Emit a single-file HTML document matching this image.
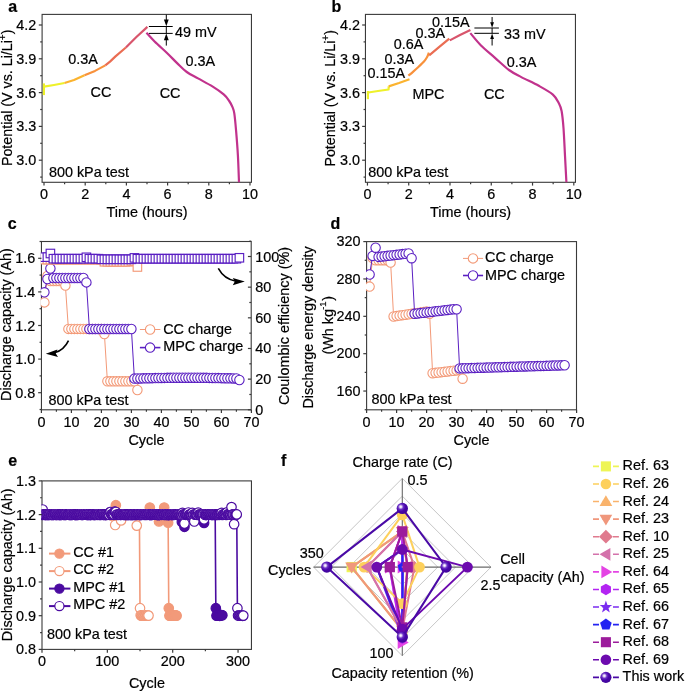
<!DOCTYPE html>
<html><head><meta charset="utf-8"><style>
html,body{margin:0;padding:0;background:#fff;}
svg{display:block;filter:blur(0.35px);}
text{font-family:"Liberation Sans", sans-serif;fill:#000;stroke:#000;stroke-width:0.2px;}
</style></head><body>
<svg width="685" height="692" viewBox="0 0 685 692">
<rect width="685" height="692" fill="#fff"/>
<rect x="42.10" y="14.40" width="209.35" height="167.90" fill="none" stroke="#3a3a3a" stroke-width="1.1"/>
<line x1="40.20" y1="177.10" x2="42.10" y2="177.10" stroke="#3a3a3a" stroke-width="1.2" />
<line x1="38.80" y1="160.20" x2="42.10" y2="160.20" stroke="#3a3a3a" stroke-width="1.2" />
<text x="36.30" y="165.20" font-size="14.4" text-anchor="end" font-weight="normal" >3.0</text>
<line x1="40.20" y1="143.30" x2="42.10" y2="143.30" stroke="#3a3a3a" stroke-width="1.2" />
<line x1="38.80" y1="126.40" x2="42.10" y2="126.40" stroke="#3a3a3a" stroke-width="1.2" />
<text x="36.30" y="131.40" font-size="14.4" text-anchor="end" font-weight="normal" >3.3</text>
<line x1="40.20" y1="109.50" x2="42.10" y2="109.50" stroke="#3a3a3a" stroke-width="1.2" />
<line x1="38.80" y1="92.60" x2="42.10" y2="92.60" stroke="#3a3a3a" stroke-width="1.2" />
<text x="36.30" y="97.60" font-size="14.4" text-anchor="end" font-weight="normal" >3.6</text>
<line x1="40.20" y1="75.70" x2="42.10" y2="75.70" stroke="#3a3a3a" stroke-width="1.2" />
<line x1="38.80" y1="58.80" x2="42.10" y2="58.80" stroke="#3a3a3a" stroke-width="1.2" />
<text x="36.30" y="63.80" font-size="14.4" text-anchor="end" font-weight="normal" >3.9</text>
<line x1="40.20" y1="41.90" x2="42.10" y2="41.90" stroke="#3a3a3a" stroke-width="1.2" />
<line x1="38.80" y1="25.00" x2="42.10" y2="25.00" stroke="#3a3a3a" stroke-width="1.2" />
<text x="36.30" y="30.00" font-size="14.4" text-anchor="end" font-weight="normal" >4.2</text>
<line x1="44.00" y1="182.30" x2="44.00" y2="185.60" stroke="#3a3a3a" stroke-width="1.2" />
<text x="44.00" y="199.40" font-size="14.4" text-anchor="middle" font-weight="normal" >0</text>
<line x1="64.60" y1="182.30" x2="64.60" y2="184.20" stroke="#3a3a3a" stroke-width="1.2" />
<line x1="85.20" y1="182.30" x2="85.20" y2="185.60" stroke="#3a3a3a" stroke-width="1.2" />
<text x="85.20" y="199.40" font-size="14.4" text-anchor="middle" font-weight="normal" >2</text>
<line x1="105.80" y1="182.30" x2="105.80" y2="184.20" stroke="#3a3a3a" stroke-width="1.2" />
<line x1="126.40" y1="182.30" x2="126.40" y2="185.60" stroke="#3a3a3a" stroke-width="1.2" />
<text x="126.40" y="199.40" font-size="14.4" text-anchor="middle" font-weight="normal" >4</text>
<line x1="147.00" y1="182.30" x2="147.00" y2="184.20" stroke="#3a3a3a" stroke-width="1.2" />
<line x1="167.60" y1="182.30" x2="167.60" y2="185.60" stroke="#3a3a3a" stroke-width="1.2" />
<text x="167.60" y="199.40" font-size="14.4" text-anchor="middle" font-weight="normal" >6</text>
<line x1="188.20" y1="182.30" x2="188.20" y2="184.20" stroke="#3a3a3a" stroke-width="1.2" />
<line x1="208.80" y1="182.30" x2="208.80" y2="185.60" stroke="#3a3a3a" stroke-width="1.2" />
<text x="208.80" y="199.40" font-size="14.4" text-anchor="middle" font-weight="normal" >8</text>
<line x1="229.40" y1="182.30" x2="229.40" y2="184.20" stroke="#3a3a3a" stroke-width="1.2" />
<line x1="250.00" y1="182.30" x2="250.00" y2="185.60" stroke="#3a3a3a" stroke-width="1.2" />
<text x="250.00" y="199.40" font-size="14.4" text-anchor="middle" font-weight="normal" >10</text>
<text x="147.00" y="217.00" font-size="14.4" text-anchor="middle" font-weight="normal" >Time (hours)</text>
<text transform="translate(11.7,97.8) rotate(-90)" font-size="14.25" text-anchor="middle">Potential (V vs. Li/Li<tspan font-size="10" dy="-5.5">+</tspan><tspan dy="5.5">)</tspan></text>
<rect x="365.45" y="14.40" width="210.00" height="167.90" fill="none" stroke="#3a3a3a" stroke-width="1.1"/>
<line x1="363.55" y1="177.10" x2="365.45" y2="177.10" stroke="#3a3a3a" stroke-width="1.2" />
<line x1="362.15" y1="160.20" x2="365.45" y2="160.20" stroke="#3a3a3a" stroke-width="1.2" />
<text x="360.00" y="165.20" font-size="14.4" text-anchor="end" font-weight="normal" >3.0</text>
<line x1="363.55" y1="143.30" x2="365.45" y2="143.30" stroke="#3a3a3a" stroke-width="1.2" />
<line x1="362.15" y1="126.40" x2="365.45" y2="126.40" stroke="#3a3a3a" stroke-width="1.2" />
<text x="360.00" y="131.40" font-size="14.4" text-anchor="end" font-weight="normal" >3.3</text>
<line x1="363.55" y1="109.50" x2="365.45" y2="109.50" stroke="#3a3a3a" stroke-width="1.2" />
<line x1="362.15" y1="92.60" x2="365.45" y2="92.60" stroke="#3a3a3a" stroke-width="1.2" />
<text x="360.00" y="97.60" font-size="14.4" text-anchor="end" font-weight="normal" >3.6</text>
<line x1="363.55" y1="75.70" x2="365.45" y2="75.70" stroke="#3a3a3a" stroke-width="1.2" />
<line x1="362.15" y1="58.80" x2="365.45" y2="58.80" stroke="#3a3a3a" stroke-width="1.2" />
<text x="360.00" y="63.80" font-size="14.4" text-anchor="end" font-weight="normal" >3.9</text>
<line x1="363.55" y1="41.90" x2="365.45" y2="41.90" stroke="#3a3a3a" stroke-width="1.2" />
<line x1="362.15" y1="25.00" x2="365.45" y2="25.00" stroke="#3a3a3a" stroke-width="1.2" />
<text x="360.00" y="30.00" font-size="14.4" text-anchor="end" font-weight="normal" >4.2</text>
<line x1="367.45" y1="182.30" x2="367.45" y2="185.60" stroke="#3a3a3a" stroke-width="1.2" />
<text x="367.45" y="199.40" font-size="14.4" text-anchor="middle" font-weight="normal" >0</text>
<line x1="388.08" y1="182.30" x2="388.08" y2="184.20" stroke="#3a3a3a" stroke-width="1.2" />
<line x1="408.72" y1="182.30" x2="408.72" y2="185.60" stroke="#3a3a3a" stroke-width="1.2" />
<text x="408.72" y="199.40" font-size="14.4" text-anchor="middle" font-weight="normal" >2</text>
<line x1="429.36" y1="182.30" x2="429.36" y2="184.20" stroke="#3a3a3a" stroke-width="1.2" />
<line x1="449.99" y1="182.30" x2="449.99" y2="185.60" stroke="#3a3a3a" stroke-width="1.2" />
<text x="449.99" y="199.40" font-size="14.4" text-anchor="middle" font-weight="normal" >4</text>
<line x1="470.62" y1="182.30" x2="470.62" y2="184.20" stroke="#3a3a3a" stroke-width="1.2" />
<line x1="491.26" y1="182.30" x2="491.26" y2="185.60" stroke="#3a3a3a" stroke-width="1.2" />
<text x="491.26" y="199.40" font-size="14.4" text-anchor="middle" font-weight="normal" >6</text>
<line x1="511.89" y1="182.30" x2="511.89" y2="184.20" stroke="#3a3a3a" stroke-width="1.2" />
<line x1="532.53" y1="182.30" x2="532.53" y2="185.60" stroke="#3a3a3a" stroke-width="1.2" />
<text x="532.53" y="199.40" font-size="14.4" text-anchor="middle" font-weight="normal" >8</text>
<line x1="553.16" y1="182.30" x2="553.16" y2="184.20" stroke="#3a3a3a" stroke-width="1.2" />
<line x1="573.80" y1="182.30" x2="573.80" y2="185.60" stroke="#3a3a3a" stroke-width="1.2" />
<text x="573.80" y="199.40" font-size="14.4" text-anchor="middle" font-weight="normal" >10</text>
<text x="470.62" y="217.00" font-size="14.4" text-anchor="middle" font-weight="normal" >Time (hours)</text>
<text transform="translate(334.6,98.3) rotate(-90)" font-size="14.25" text-anchor="middle">Potential (V vs. Li/Li<tspan font-size="10" dy="-5.5">+</tspan><tspan dy="5.5">)</tspan></text>
<polyline points="43.90,83.40 43.90,95.10" fill="none" stroke="#eef12a" stroke-width="2.2" stroke-linejoin="round" stroke-linecap="butt" />
<polyline points="44.00,86.70 54.00,85.00 64.50,83.00" fill="none" stroke="#eef12a" stroke-width="2.2" stroke-linejoin="round" stroke-linecap="butt" />
<polyline points="64.50,83.00 74.00,80.00 84.50,75.20" fill="none" stroke="#fbb32f" stroke-width="2.2" stroke-linejoin="round" stroke-linecap="butt" />
<polyline points="84.50,75.20 95.00,70.90 105.30,65.40" fill="none" stroke="#f8913b" stroke-width="2.2" stroke-linejoin="round" stroke-linecap="butt" />
<polyline points="105.30,65.40 110.00,61.60 115.50,56.40 125.90,47.50" fill="none" stroke="#ea6d53" stroke-width="2.2" stroke-linejoin="round" stroke-linecap="butt" />
<polyline points="125.90,47.50 136.40,37.00 147.40,26.90" fill="none" stroke="#d8556c" stroke-width="2.2" stroke-linejoin="round" stroke-linecap="butt" />
<path d="M146.40,32.70 C147.77,34.17 151.08,38.03 154.60,41.50 C158.12,44.97 163.75,49.90 167.50,53.50 C171.25,57.10 173.88,60.02 177.10,63.10 C180.32,66.18 183.32,69.45 186.80,72.00 C190.28,74.55 193.73,76.00 198.00,78.40 C202.27,80.80 208.12,83.73 212.40,86.40 C216.68,89.07 220.95,92.05 223.70,94.40 C226.45,96.75 227.45,98.42 228.90,100.50 C230.35,102.58 231.50,104.75 232.40,106.90 C233.30,109.05 233.68,109.40 234.30,113.40 C234.92,117.40 235.50,123.90 236.10,130.90 C236.70,137.90 237.42,146.83 237.90,155.40 C238.38,163.97 238.82,177.82 239.00,182.30" fill="none" stroke="#c1328c" stroke-width="2.2" stroke-linejoin="round" />
<line x1="148.90" y1="26.50" x2="172.70" y2="26.50" stroke="#000" stroke-width="1.0" />
<line x1="148.90" y1="33.40" x2="172.70" y2="33.40" stroke="#000" stroke-width="1.0" />
<line x1="166.30" y1="14.60" x2="166.30" y2="22.00" stroke="#000" stroke-width="1.0" />
<line x1="166.30" y1="26.50" x2="166.30" y2="33.40" stroke="#000" stroke-width="1.0" />
<polygon points="166.3,26.3 163.9,19.6 168.7,19.6" fill="#000"/>
<line x1="166.30" y1="38.00" x2="166.30" y2="45.60" stroke="#000" stroke-width="1.0" />
<polygon points="166.3,33.6 163.9,40.3 168.7,40.3" fill="#000"/>
<text x="175.00" y="37.00" font-size="14.4" text-anchor="start" font-weight="normal" >49 mV</text>
<text x="68.30" y="63.50" font-size="14.4" text-anchor="start" font-weight="normal" >0.3A</text>
<text x="90.50" y="97.30" font-size="14.4" text-anchor="start" font-weight="normal" >CC</text>
<text x="185.40" y="65.60" font-size="14.4" text-anchor="start" font-weight="normal" >0.3A</text>
<text x="159.70" y="97.60" font-size="14.4" text-anchor="start" font-weight="normal" >CC</text>
<text x="48.90" y="176.70" font-size="14.4" text-anchor="start" font-weight="normal" >800 kPa test</text>
<polyline points="367.90,91.00 367.90,99.20" fill="none" stroke="#eef12a" stroke-width="2.2" stroke-linejoin="round" stroke-linecap="butt" />
<polyline points="368.30,92.50 378.00,91.00 388.60,89.50 388.70,86.40" fill="none" stroke="#eef12a" stroke-width="2.2" stroke-linejoin="round" stroke-linecap="butt" />
<polyline points="388.70,86.40 399.00,83.00 409.50,79.20" fill="none" stroke="#fbb32f" stroke-width="2.2" stroke-linejoin="round" stroke-linecap="butt" />
<path d="M408.40,75.70 C409.17,75.05 411.38,73.20 413.00,71.80 C414.62,70.40 416.57,68.72 418.10,67.30 C419.63,65.88 421.00,64.55 422.20,63.30 C423.40,62.05 424.43,60.92 425.30,59.80 C426.17,58.68 426.80,57.78 427.40,56.60 C428.00,55.42 428.65,53.35 428.90,52.70" fill="none" stroke="#f8913b" stroke-width="2.2" stroke-linejoin="round" />
<polyline points="429.20,55.30 439.00,47.20 449.30,38.60" fill="none" stroke="#ea6d53" stroke-width="2.2" stroke-linejoin="round" stroke-linecap="butt" />
<polyline points="449.80,40.40 460.00,35.00 470.40,29.90" fill="none" stroke="#d8556c" stroke-width="2.2" stroke-linejoin="round" stroke-linecap="butt" />
<path d="M470.30,33.10 C472.08,35.17 476.88,41.38 481.00,45.50 C485.12,49.62 490.33,53.72 495.00,57.80 C499.67,61.88 504.62,66.78 509.00,70.00 C513.38,73.22 516.33,74.47 521.30,77.10 C526.27,79.73 533.53,82.88 538.80,85.80 C544.07,88.72 549.53,91.67 552.90,94.60 C556.27,97.53 557.55,100.67 559.00,103.40 C560.45,106.13 560.85,106.90 561.60,111.00 C562.35,115.10 562.93,120.55 563.50,128.00 C564.07,135.45 564.52,146.65 565.00,155.70 C565.48,164.75 566.17,177.87 566.40,182.30" fill="none" stroke="#c1328c" stroke-width="2.2" stroke-linejoin="round" />
<line x1="474.40" y1="28.00" x2="498.90" y2="28.00" stroke="#000" stroke-width="1.0" />
<line x1="474.40" y1="33.30" x2="498.90" y2="33.30" stroke="#000" stroke-width="1.0" />
<line x1="492.10" y1="17.00" x2="492.10" y2="23.50" stroke="#000" stroke-width="1.0" />
<line x1="492.10" y1="28.00" x2="492.10" y2="33.30" stroke="#000" stroke-width="1.0" />
<polygon points="492.1,27.8 490.2,22.3 494.0,22.3" fill="#000"/>
<line x1="492.10" y1="37.80" x2="492.10" y2="45.50" stroke="#000" stroke-width="1.0" />
<polygon points="492.1,33.5 490.2,39.0 494.0,39.0" fill="#000"/>
<text x="504.00" y="38.90" font-size="14.4" text-anchor="start" font-weight="normal" >33 mV</text>
<text x="432.00" y="26.80" font-size="14.4" text-anchor="start" font-weight="normal" >0.15A</text>
<text x="415.60" y="38.20" font-size="14.4" text-anchor="start" font-weight="normal" >0.3A</text>
<text x="393.70" y="49.30" font-size="14.4" text-anchor="start" font-weight="normal" >0.6A</text>
<text x="384.50" y="63.60" font-size="14.4" text-anchor="start" font-weight="normal" >0.3A</text>
<text x="367.50" y="78.20" font-size="14.4" text-anchor="start" font-weight="normal" >0.15A</text>
<text x="412.50" y="98.50" font-size="14.4" text-anchor="start" font-weight="normal" >MPC</text>
<text x="506.70" y="66.60" font-size="14.4" text-anchor="start" font-weight="normal" >0.3A</text>
<text x="483.90" y="99.00" font-size="14.4" text-anchor="start" font-weight="normal" >CC</text>
<text x="368.30" y="177.30" font-size="14.4" text-anchor="start" font-weight="normal" >800 kPa test</text>
<defs><clipPath id="clipc"><rect x="40.85" y="241.5" width="210.35" height="168.3"/></clipPath></defs>
<rect x="41.45" y="241.50" width="209.75" height="168.30" fill="none" stroke="#3a3a3a" stroke-width="1.1"/>
<g clip-path="url(#clipc)">
<polyline points="44.40,302.40 47.40,276.00 50.40,281.00 53.40,281.00 56.40,281.00 59.40,281.00 62.40,281.00 65.40,285.60 68.40,328.90 71.40,328.90 74.40,328.90 77.40,328.90 80.40,328.90 83.40,328.90 86.40,328.90 89.40,328.90 92.40,328.90 95.40,328.90 98.40,328.90 101.40,328.90 104.40,334.00 107.40,381.30 110.40,381.30 113.40,381.30 116.40,381.30 119.40,381.30 122.40,381.30 125.40,381.30 128.40,381.30 131.40,381.30 134.40,381.30 137.40,390.00" fill="none" stroke="#f39a78" stroke-width="1.0"/>
<circle cx="44.40" cy="302.40" r="4.7" fill="#fff" stroke="#f39a78" stroke-width="1.1"/>
<circle cx="47.40" cy="276.00" r="4.7" fill="#fff" stroke="#f39a78" stroke-width="1.1"/>
<circle cx="50.40" cy="281.00" r="4.7" fill="#fff" stroke="#f39a78" stroke-width="1.1"/>
<circle cx="53.40" cy="281.00" r="4.7" fill="#fff" stroke="#f39a78" stroke-width="1.1"/>
<circle cx="56.40" cy="281.00" r="4.7" fill="#fff" stroke="#f39a78" stroke-width="1.1"/>
<circle cx="59.40" cy="281.00" r="4.7" fill="#fff" stroke="#f39a78" stroke-width="1.1"/>
<circle cx="62.40" cy="281.00" r="4.7" fill="#fff" stroke="#f39a78" stroke-width="1.1"/>
<circle cx="65.40" cy="285.60" r="4.7" fill="#fff" stroke="#f39a78" stroke-width="1.1"/>
<circle cx="68.40" cy="328.90" r="4.7" fill="#fff" stroke="#f39a78" stroke-width="1.1"/>
<circle cx="71.40" cy="328.90" r="4.7" fill="#fff" stroke="#f39a78" stroke-width="1.1"/>
<circle cx="74.40" cy="328.90" r="4.7" fill="#fff" stroke="#f39a78" stroke-width="1.1"/>
<circle cx="77.40" cy="328.90" r="4.7" fill="#fff" stroke="#f39a78" stroke-width="1.1"/>
<circle cx="80.40" cy="328.90" r="4.7" fill="#fff" stroke="#f39a78" stroke-width="1.1"/>
<circle cx="83.40" cy="328.90" r="4.7" fill="#fff" stroke="#f39a78" stroke-width="1.1"/>
<circle cx="86.40" cy="328.90" r="4.7" fill="#fff" stroke="#f39a78" stroke-width="1.1"/>
<circle cx="89.40" cy="328.90" r="4.7" fill="#fff" stroke="#f39a78" stroke-width="1.1"/>
<circle cx="92.40" cy="328.90" r="4.7" fill="#fff" stroke="#f39a78" stroke-width="1.1"/>
<circle cx="95.40" cy="328.90" r="4.7" fill="#fff" stroke="#f39a78" stroke-width="1.1"/>
<circle cx="98.40" cy="328.90" r="4.7" fill="#fff" stroke="#f39a78" stroke-width="1.1"/>
<circle cx="101.40" cy="328.90" r="4.7" fill="#fff" stroke="#f39a78" stroke-width="1.1"/>
<circle cx="104.40" cy="334.00" r="4.7" fill="#fff" stroke="#f39a78" stroke-width="1.1"/>
<circle cx="107.40" cy="381.30" r="4.7" fill="#fff" stroke="#f39a78" stroke-width="1.1"/>
<circle cx="110.40" cy="381.30" r="4.7" fill="#fff" stroke="#f39a78" stroke-width="1.1"/>
<circle cx="113.40" cy="381.30" r="4.7" fill="#fff" stroke="#f39a78" stroke-width="1.1"/>
<circle cx="116.40" cy="381.30" r="4.7" fill="#fff" stroke="#f39a78" stroke-width="1.1"/>
<circle cx="119.40" cy="381.30" r="4.7" fill="#fff" stroke="#f39a78" stroke-width="1.1"/>
<circle cx="122.40" cy="381.30" r="4.7" fill="#fff" stroke="#f39a78" stroke-width="1.1"/>
<circle cx="125.40" cy="381.30" r="4.7" fill="#fff" stroke="#f39a78" stroke-width="1.1"/>
<circle cx="128.40" cy="381.30" r="4.7" fill="#fff" stroke="#f39a78" stroke-width="1.1"/>
<circle cx="131.40" cy="381.30" r="4.7" fill="#fff" stroke="#f39a78" stroke-width="1.1"/>
<circle cx="134.40" cy="381.30" r="4.7" fill="#fff" stroke="#f39a78" stroke-width="1.1"/>
<circle cx="137.40" cy="390.00" r="4.7" fill="#fff" stroke="#f39a78" stroke-width="1.1"/>
</g>
<g clip-path="url(#clipc)">
<polyline points="44.40,292.30 47.40,279.00 50.40,268.50 53.40,278.00 56.40,278.00 59.40,278.00 62.40,278.00 65.40,278.00 68.40,278.00 71.40,278.00 74.40,278.00 77.40,278.00 80.40,278.00 83.40,278.00 86.40,282.40 89.40,329.00 92.40,329.00 95.40,329.00 98.40,329.00 101.40,329.00 104.40,329.00 107.40,329.00 110.40,329.00 113.40,329.00 116.40,329.00 119.40,329.00 122.40,329.00 125.40,329.00 128.40,329.00 131.40,329.00 134.40,378.60 137.40,378.52 140.40,378.44 143.40,378.36 146.40,378.28 149.40,378.21 152.40,378.14 155.40,378.07 158.40,378.01 161.40,377.95 164.40,377.90 167.40,377.85 170.40,377.81 173.40,377.77 176.40,377.74 179.40,377.72 182.40,377.71 185.40,377.70 188.40,377.70 191.40,377.71 194.40,377.72 197.40,377.74 200.40,377.77 203.40,377.81 206.40,377.85 209.40,377.90 212.40,377.95 215.40,378.01 218.40,378.07 221.40,378.14 224.40,378.21 227.40,378.28 230.40,378.36 233.40,378.44 236.40,378.52 239.40,380.00" fill="none" stroke="#5a1fc2" stroke-width="1.0"/>
<circle cx="44.40" cy="292.30" r="4.7" fill="#fff" stroke="#5a1fc2" stroke-width="1.1"/>
<circle cx="47.40" cy="279.00" r="4.7" fill="#fff" stroke="#5a1fc2" stroke-width="1.1"/>
<circle cx="50.40" cy="268.50" r="4.7" fill="#fff" stroke="#5a1fc2" stroke-width="1.1"/>
<circle cx="53.40" cy="278.00" r="4.7" fill="#fff" stroke="#5a1fc2" stroke-width="1.1"/>
<circle cx="56.40" cy="278.00" r="4.7" fill="#fff" stroke="#5a1fc2" stroke-width="1.1"/>
<circle cx="59.40" cy="278.00" r="4.7" fill="#fff" stroke="#5a1fc2" stroke-width="1.1"/>
<circle cx="62.40" cy="278.00" r="4.7" fill="#fff" stroke="#5a1fc2" stroke-width="1.1"/>
<circle cx="65.40" cy="278.00" r="4.7" fill="#fff" stroke="#5a1fc2" stroke-width="1.1"/>
<circle cx="68.40" cy="278.00" r="4.7" fill="#fff" stroke="#5a1fc2" stroke-width="1.1"/>
<circle cx="71.40" cy="278.00" r="4.7" fill="#fff" stroke="#5a1fc2" stroke-width="1.1"/>
<circle cx="74.40" cy="278.00" r="4.7" fill="#fff" stroke="#5a1fc2" stroke-width="1.1"/>
<circle cx="77.40" cy="278.00" r="4.7" fill="#fff" stroke="#5a1fc2" stroke-width="1.1"/>
<circle cx="80.40" cy="278.00" r="4.7" fill="#fff" stroke="#5a1fc2" stroke-width="1.1"/>
<circle cx="83.40" cy="278.00" r="4.7" fill="#fff" stroke="#5a1fc2" stroke-width="1.1"/>
<circle cx="86.40" cy="282.40" r="4.7" fill="#fff" stroke="#5a1fc2" stroke-width="1.1"/>
<circle cx="89.40" cy="329.00" r="4.7" fill="#fff" stroke="#5a1fc2" stroke-width="1.1"/>
<circle cx="92.40" cy="329.00" r="4.7" fill="#fff" stroke="#5a1fc2" stroke-width="1.1"/>
<circle cx="95.40" cy="329.00" r="4.7" fill="#fff" stroke="#5a1fc2" stroke-width="1.1"/>
<circle cx="98.40" cy="329.00" r="4.7" fill="#fff" stroke="#5a1fc2" stroke-width="1.1"/>
<circle cx="101.40" cy="329.00" r="4.7" fill="#fff" stroke="#5a1fc2" stroke-width="1.1"/>
<circle cx="104.40" cy="329.00" r="4.7" fill="#fff" stroke="#5a1fc2" stroke-width="1.1"/>
<circle cx="107.40" cy="329.00" r="4.7" fill="#fff" stroke="#5a1fc2" stroke-width="1.1"/>
<circle cx="110.40" cy="329.00" r="4.7" fill="#fff" stroke="#5a1fc2" stroke-width="1.1"/>
<circle cx="113.40" cy="329.00" r="4.7" fill="#fff" stroke="#5a1fc2" stroke-width="1.1"/>
<circle cx="116.40" cy="329.00" r="4.7" fill="#fff" stroke="#5a1fc2" stroke-width="1.1"/>
<circle cx="119.40" cy="329.00" r="4.7" fill="#fff" stroke="#5a1fc2" stroke-width="1.1"/>
<circle cx="122.40" cy="329.00" r="4.7" fill="#fff" stroke="#5a1fc2" stroke-width="1.1"/>
<circle cx="125.40" cy="329.00" r="4.7" fill="#fff" stroke="#5a1fc2" stroke-width="1.1"/>
<circle cx="128.40" cy="329.00" r="4.7" fill="#fff" stroke="#5a1fc2" stroke-width="1.1"/>
<circle cx="131.40" cy="329.00" r="4.7" fill="#fff" stroke="#5a1fc2" stroke-width="1.1"/>
<circle cx="134.40" cy="378.60" r="4.7" fill="#fff" stroke="#5a1fc2" stroke-width="1.1"/>
<circle cx="137.40" cy="378.52" r="4.7" fill="#fff" stroke="#5a1fc2" stroke-width="1.1"/>
<circle cx="140.40" cy="378.44" r="4.7" fill="#fff" stroke="#5a1fc2" stroke-width="1.1"/>
<circle cx="143.40" cy="378.36" r="4.7" fill="#fff" stroke="#5a1fc2" stroke-width="1.1"/>
<circle cx="146.40" cy="378.28" r="4.7" fill="#fff" stroke="#5a1fc2" stroke-width="1.1"/>
<circle cx="149.40" cy="378.21" r="4.7" fill="#fff" stroke="#5a1fc2" stroke-width="1.1"/>
<circle cx="152.40" cy="378.14" r="4.7" fill="#fff" stroke="#5a1fc2" stroke-width="1.1"/>
<circle cx="155.40" cy="378.07" r="4.7" fill="#fff" stroke="#5a1fc2" stroke-width="1.1"/>
<circle cx="158.40" cy="378.01" r="4.7" fill="#fff" stroke="#5a1fc2" stroke-width="1.1"/>
<circle cx="161.40" cy="377.95" r="4.7" fill="#fff" stroke="#5a1fc2" stroke-width="1.1"/>
<circle cx="164.40" cy="377.90" r="4.7" fill="#fff" stroke="#5a1fc2" stroke-width="1.1"/>
<circle cx="167.40" cy="377.85" r="4.7" fill="#fff" stroke="#5a1fc2" stroke-width="1.1"/>
<circle cx="170.40" cy="377.81" r="4.7" fill="#fff" stroke="#5a1fc2" stroke-width="1.1"/>
<circle cx="173.40" cy="377.77" r="4.7" fill="#fff" stroke="#5a1fc2" stroke-width="1.1"/>
<circle cx="176.40" cy="377.74" r="4.7" fill="#fff" stroke="#5a1fc2" stroke-width="1.1"/>
<circle cx="179.40" cy="377.72" r="4.7" fill="#fff" stroke="#5a1fc2" stroke-width="1.1"/>
<circle cx="182.40" cy="377.71" r="4.7" fill="#fff" stroke="#5a1fc2" stroke-width="1.1"/>
<circle cx="185.40" cy="377.70" r="4.7" fill="#fff" stroke="#5a1fc2" stroke-width="1.1"/>
<circle cx="188.40" cy="377.70" r="4.7" fill="#fff" stroke="#5a1fc2" stroke-width="1.1"/>
<circle cx="191.40" cy="377.71" r="4.7" fill="#fff" stroke="#5a1fc2" stroke-width="1.1"/>
<circle cx="194.40" cy="377.72" r="4.7" fill="#fff" stroke="#5a1fc2" stroke-width="1.1"/>
<circle cx="197.40" cy="377.74" r="4.7" fill="#fff" stroke="#5a1fc2" stroke-width="1.1"/>
<circle cx="200.40" cy="377.77" r="4.7" fill="#fff" stroke="#5a1fc2" stroke-width="1.1"/>
<circle cx="203.40" cy="377.81" r="4.7" fill="#fff" stroke="#5a1fc2" stroke-width="1.1"/>
<circle cx="206.40" cy="377.85" r="4.7" fill="#fff" stroke="#5a1fc2" stroke-width="1.1"/>
<circle cx="209.40" cy="377.90" r="4.7" fill="#fff" stroke="#5a1fc2" stroke-width="1.1"/>
<circle cx="212.40" cy="377.95" r="4.7" fill="#fff" stroke="#5a1fc2" stroke-width="1.1"/>
<circle cx="215.40" cy="378.01" r="4.7" fill="#fff" stroke="#5a1fc2" stroke-width="1.1"/>
<circle cx="218.40" cy="378.07" r="4.7" fill="#fff" stroke="#5a1fc2" stroke-width="1.1"/>
<circle cx="221.40" cy="378.14" r="4.7" fill="#fff" stroke="#5a1fc2" stroke-width="1.1"/>
<circle cx="224.40" cy="378.21" r="4.7" fill="#fff" stroke="#5a1fc2" stroke-width="1.1"/>
<circle cx="227.40" cy="378.28" r="4.7" fill="#fff" stroke="#5a1fc2" stroke-width="1.1"/>
<circle cx="230.40" cy="378.36" r="4.7" fill="#fff" stroke="#5a1fc2" stroke-width="1.1"/>
<circle cx="233.40" cy="378.44" r="4.7" fill="#fff" stroke="#5a1fc2" stroke-width="1.1"/>
<circle cx="236.40" cy="378.52" r="4.7" fill="#fff" stroke="#5a1fc2" stroke-width="1.1"/>
<circle cx="239.40" cy="380.00" r="4.7" fill="#fff" stroke="#5a1fc2" stroke-width="1.1"/>
</g>
<g clip-path="url(#clipc)">
<polyline points="44.40,259.60 47.40,259.60 50.40,259.60 53.40,259.60 56.40,259.60 59.40,259.60 62.40,259.60 65.40,259.60 68.40,259.60 71.40,259.60 74.40,259.60 77.40,259.60 80.40,259.60 83.40,259.60 86.40,259.60 89.40,259.60 92.40,259.60 95.40,259.60 98.40,259.60 101.40,259.60 104.40,261.80 107.40,261.80 110.40,261.80 113.40,261.80 116.40,261.80 119.40,261.80 122.40,261.80 125.40,261.80 128.40,261.80 131.40,261.00 134.40,261.00 137.40,267.00" fill="none" stroke="#f39a78" stroke-width="1.0"/>
<rect x="40.15" y="255.35" width="8.5" height="8.5" fill="#fff" stroke="#f39a78" stroke-width="1.15"/>
<rect x="43.15" y="255.35" width="8.5" height="8.5" fill="#fff" stroke="#f39a78" stroke-width="1.15"/>
<rect x="46.15" y="255.35" width="8.5" height="8.5" fill="#fff" stroke="#f39a78" stroke-width="1.15"/>
<rect x="49.15" y="255.35" width="8.5" height="8.5" fill="#fff" stroke="#f39a78" stroke-width="1.15"/>
<rect x="52.15" y="255.35" width="8.5" height="8.5" fill="#fff" stroke="#f39a78" stroke-width="1.15"/>
<rect x="55.15" y="255.35" width="8.5" height="8.5" fill="#fff" stroke="#f39a78" stroke-width="1.15"/>
<rect x="58.15" y="255.35" width="8.5" height="8.5" fill="#fff" stroke="#f39a78" stroke-width="1.15"/>
<rect x="61.15" y="255.35" width="8.5" height="8.5" fill="#fff" stroke="#f39a78" stroke-width="1.15"/>
<rect x="64.15" y="255.35" width="8.5" height="8.5" fill="#fff" stroke="#f39a78" stroke-width="1.15"/>
<rect x="67.15" y="255.35" width="8.5" height="8.5" fill="#fff" stroke="#f39a78" stroke-width="1.15"/>
<rect x="70.15" y="255.35" width="8.5" height="8.5" fill="#fff" stroke="#f39a78" stroke-width="1.15"/>
<rect x="73.15" y="255.35" width="8.5" height="8.5" fill="#fff" stroke="#f39a78" stroke-width="1.15"/>
<rect x="76.15" y="255.35" width="8.5" height="8.5" fill="#fff" stroke="#f39a78" stroke-width="1.15"/>
<rect x="79.15" y="255.35" width="8.5" height="8.5" fill="#fff" stroke="#f39a78" stroke-width="1.15"/>
<rect x="82.15" y="255.35" width="8.5" height="8.5" fill="#fff" stroke="#f39a78" stroke-width="1.15"/>
<rect x="85.15" y="255.35" width="8.5" height="8.5" fill="#fff" stroke="#f39a78" stroke-width="1.15"/>
<rect x="88.15" y="255.35" width="8.5" height="8.5" fill="#fff" stroke="#f39a78" stroke-width="1.15"/>
<rect x="91.15" y="255.35" width="8.5" height="8.5" fill="#fff" stroke="#f39a78" stroke-width="1.15"/>
<rect x="94.15" y="255.35" width="8.5" height="8.5" fill="#fff" stroke="#f39a78" stroke-width="1.15"/>
<rect x="97.15" y="255.35" width="8.5" height="8.5" fill="#fff" stroke="#f39a78" stroke-width="1.15"/>
<rect x="100.15" y="257.55" width="8.5" height="8.5" fill="#fff" stroke="#f39a78" stroke-width="1.15"/>
<rect x="103.15" y="257.55" width="8.5" height="8.5" fill="#fff" stroke="#f39a78" stroke-width="1.15"/>
<rect x="106.15" y="257.55" width="8.5" height="8.5" fill="#fff" stroke="#f39a78" stroke-width="1.15"/>
<rect x="109.15" y="257.55" width="8.5" height="8.5" fill="#fff" stroke="#f39a78" stroke-width="1.15"/>
<rect x="112.15" y="257.55" width="8.5" height="8.5" fill="#fff" stroke="#f39a78" stroke-width="1.15"/>
<rect x="115.15" y="257.55" width="8.5" height="8.5" fill="#fff" stroke="#f39a78" stroke-width="1.15"/>
<rect x="118.15" y="257.55" width="8.5" height="8.5" fill="#fff" stroke="#f39a78" stroke-width="1.15"/>
<rect x="121.15" y="257.55" width="8.5" height="8.5" fill="#fff" stroke="#f39a78" stroke-width="1.15"/>
<rect x="124.15" y="257.55" width="8.5" height="8.5" fill="#fff" stroke="#f39a78" stroke-width="1.15"/>
<rect x="127.15" y="256.75" width="8.5" height="8.5" fill="#fff" stroke="#f39a78" stroke-width="1.15"/>
<rect x="130.15" y="256.75" width="8.5" height="8.5" fill="#fff" stroke="#f39a78" stroke-width="1.15"/>
<rect x="133.15" y="262.75" width="8.5" height="8.5" fill="#fff" stroke="#f39a78" stroke-width="1.15"/>
</g>
<g clip-path="url(#clipc)">
<polyline points="44.40,257.20 47.40,257.10 50.40,253.50 53.40,258.70 56.40,258.70 59.40,258.70 62.40,258.70 65.40,258.70 68.40,258.70 71.40,258.70 74.40,258.70 77.40,258.70 80.40,258.70 83.40,258.70 86.40,257.30 89.40,258.70 92.40,258.70 95.40,258.70 98.40,258.70 101.40,259.30 104.40,259.30 107.40,259.30 110.40,259.30 113.40,259.30 116.40,259.30 119.40,259.30 122.40,259.30 125.40,259.30 128.40,259.30 131.40,259.30 134.40,257.90 137.40,258.70 140.40,258.70 143.40,258.70 146.40,258.70 149.40,258.70 152.40,258.70 155.40,258.70 158.40,258.70 161.40,258.70 164.40,258.70 167.40,258.70 170.40,258.70 173.40,258.70 176.40,258.70 179.40,258.70 182.40,258.70 185.40,258.70 188.40,258.70 191.40,258.70 194.40,258.70 197.40,258.70 200.40,258.70 203.40,258.70 206.40,258.70 209.40,258.70 212.40,258.70 215.40,258.70 218.40,258.70 221.40,258.70 224.40,258.70 227.40,258.70 230.40,258.70 233.40,258.70 236.40,258.70 239.40,257.80" fill="none" stroke="#5a1fc2" stroke-width="1.0"/>
<rect x="40.15" y="252.95" width="8.5" height="8.5" fill="#fff" stroke="#5a1fc2" stroke-width="1.15"/>
<rect x="43.15" y="252.85" width="8.5" height="8.5" fill="#fff" stroke="#5a1fc2" stroke-width="1.15"/>
<rect x="46.15" y="249.25" width="8.5" height="8.5" fill="#fff" stroke="#5a1fc2" stroke-width="1.15"/>
<rect x="49.15" y="254.45" width="8.5" height="8.5" fill="#fff" stroke="#5a1fc2" stroke-width="1.15"/>
<rect x="52.15" y="254.45" width="8.5" height="8.5" fill="#fff" stroke="#5a1fc2" stroke-width="1.15"/>
<rect x="55.15" y="254.45" width="8.5" height="8.5" fill="#fff" stroke="#5a1fc2" stroke-width="1.15"/>
<rect x="58.15" y="254.45" width="8.5" height="8.5" fill="#fff" stroke="#5a1fc2" stroke-width="1.15"/>
<rect x="61.15" y="254.45" width="8.5" height="8.5" fill="#fff" stroke="#5a1fc2" stroke-width="1.15"/>
<rect x="64.15" y="254.45" width="8.5" height="8.5" fill="#fff" stroke="#5a1fc2" stroke-width="1.15"/>
<rect x="67.15" y="254.45" width="8.5" height="8.5" fill="#fff" stroke="#5a1fc2" stroke-width="1.15"/>
<rect x="70.15" y="254.45" width="8.5" height="8.5" fill="#fff" stroke="#5a1fc2" stroke-width="1.15"/>
<rect x="73.15" y="254.45" width="8.5" height="8.5" fill="#fff" stroke="#5a1fc2" stroke-width="1.15"/>
<rect x="76.15" y="254.45" width="8.5" height="8.5" fill="#fff" stroke="#5a1fc2" stroke-width="1.15"/>
<rect x="79.15" y="254.45" width="8.5" height="8.5" fill="#fff" stroke="#5a1fc2" stroke-width="1.15"/>
<rect x="82.15" y="253.05" width="8.5" height="8.5" fill="#fff" stroke="#5a1fc2" stroke-width="1.15"/>
<rect x="85.15" y="254.45" width="8.5" height="8.5" fill="#fff" stroke="#5a1fc2" stroke-width="1.15"/>
<rect x="88.15" y="254.45" width="8.5" height="8.5" fill="#fff" stroke="#5a1fc2" stroke-width="1.15"/>
<rect x="91.15" y="254.45" width="8.5" height="8.5" fill="#fff" stroke="#5a1fc2" stroke-width="1.15"/>
<rect x="94.15" y="254.45" width="8.5" height="8.5" fill="#fff" stroke="#5a1fc2" stroke-width="1.15"/>
<rect x="97.15" y="255.05" width="8.5" height="8.5" fill="#fff" stroke="#5a1fc2" stroke-width="1.15"/>
<rect x="100.15" y="255.05" width="8.5" height="8.5" fill="#fff" stroke="#5a1fc2" stroke-width="1.15"/>
<rect x="103.15" y="255.05" width="8.5" height="8.5" fill="#fff" stroke="#5a1fc2" stroke-width="1.15"/>
<rect x="106.15" y="255.05" width="8.5" height="8.5" fill="#fff" stroke="#5a1fc2" stroke-width="1.15"/>
<rect x="109.15" y="255.05" width="8.5" height="8.5" fill="#fff" stroke="#5a1fc2" stroke-width="1.15"/>
<rect x="112.15" y="255.05" width="8.5" height="8.5" fill="#fff" stroke="#5a1fc2" stroke-width="1.15"/>
<rect x="115.15" y="255.05" width="8.5" height="8.5" fill="#fff" stroke="#5a1fc2" stroke-width="1.15"/>
<rect x="118.15" y="255.05" width="8.5" height="8.5" fill="#fff" stroke="#5a1fc2" stroke-width="1.15"/>
<rect x="121.15" y="255.05" width="8.5" height="8.5" fill="#fff" stroke="#5a1fc2" stroke-width="1.15"/>
<rect x="124.15" y="255.05" width="8.5" height="8.5" fill="#fff" stroke="#5a1fc2" stroke-width="1.15"/>
<rect x="127.15" y="255.05" width="8.5" height="8.5" fill="#fff" stroke="#5a1fc2" stroke-width="1.15"/>
<rect x="130.15" y="253.65" width="8.5" height="8.5" fill="#fff" stroke="#5a1fc2" stroke-width="1.15"/>
<rect x="133.15" y="254.45" width="8.5" height="8.5" fill="#fff" stroke="#5a1fc2" stroke-width="1.15"/>
<rect x="136.15" y="254.45" width="8.5" height="8.5" fill="#fff" stroke="#5a1fc2" stroke-width="1.15"/>
<rect x="139.15" y="254.45" width="8.5" height="8.5" fill="#fff" stroke="#5a1fc2" stroke-width="1.15"/>
<rect x="142.15" y="254.45" width="8.5" height="8.5" fill="#fff" stroke="#5a1fc2" stroke-width="1.15"/>
<rect x="145.15" y="254.45" width="8.5" height="8.5" fill="#fff" stroke="#5a1fc2" stroke-width="1.15"/>
<rect x="148.15" y="254.45" width="8.5" height="8.5" fill="#fff" stroke="#5a1fc2" stroke-width="1.15"/>
<rect x="151.15" y="254.45" width="8.5" height="8.5" fill="#fff" stroke="#5a1fc2" stroke-width="1.15"/>
<rect x="154.15" y="254.45" width="8.5" height="8.5" fill="#fff" stroke="#5a1fc2" stroke-width="1.15"/>
<rect x="157.15" y="254.45" width="8.5" height="8.5" fill="#fff" stroke="#5a1fc2" stroke-width="1.15"/>
<rect x="160.15" y="254.45" width="8.5" height="8.5" fill="#fff" stroke="#5a1fc2" stroke-width="1.15"/>
<rect x="163.15" y="254.45" width="8.5" height="8.5" fill="#fff" stroke="#5a1fc2" stroke-width="1.15"/>
<rect x="166.15" y="254.45" width="8.5" height="8.5" fill="#fff" stroke="#5a1fc2" stroke-width="1.15"/>
<rect x="169.15" y="254.45" width="8.5" height="8.5" fill="#fff" stroke="#5a1fc2" stroke-width="1.15"/>
<rect x="172.15" y="254.45" width="8.5" height="8.5" fill="#fff" stroke="#5a1fc2" stroke-width="1.15"/>
<rect x="175.15" y="254.45" width="8.5" height="8.5" fill="#fff" stroke="#5a1fc2" stroke-width="1.15"/>
<rect x="178.15" y="254.45" width="8.5" height="8.5" fill="#fff" stroke="#5a1fc2" stroke-width="1.15"/>
<rect x="181.15" y="254.45" width="8.5" height="8.5" fill="#fff" stroke="#5a1fc2" stroke-width="1.15"/>
<rect x="184.15" y="254.45" width="8.5" height="8.5" fill="#fff" stroke="#5a1fc2" stroke-width="1.15"/>
<rect x="187.15" y="254.45" width="8.5" height="8.5" fill="#fff" stroke="#5a1fc2" stroke-width="1.15"/>
<rect x="190.15" y="254.45" width="8.5" height="8.5" fill="#fff" stroke="#5a1fc2" stroke-width="1.15"/>
<rect x="193.15" y="254.45" width="8.5" height="8.5" fill="#fff" stroke="#5a1fc2" stroke-width="1.15"/>
<rect x="196.15" y="254.45" width="8.5" height="8.5" fill="#fff" stroke="#5a1fc2" stroke-width="1.15"/>
<rect x="199.15" y="254.45" width="8.5" height="8.5" fill="#fff" stroke="#5a1fc2" stroke-width="1.15"/>
<rect x="202.15" y="254.45" width="8.5" height="8.5" fill="#fff" stroke="#5a1fc2" stroke-width="1.15"/>
<rect x="205.15" y="254.45" width="8.5" height="8.5" fill="#fff" stroke="#5a1fc2" stroke-width="1.15"/>
<rect x="208.15" y="254.45" width="8.5" height="8.5" fill="#fff" stroke="#5a1fc2" stroke-width="1.15"/>
<rect x="211.15" y="254.45" width="8.5" height="8.5" fill="#fff" stroke="#5a1fc2" stroke-width="1.15"/>
<rect x="214.15" y="254.45" width="8.5" height="8.5" fill="#fff" stroke="#5a1fc2" stroke-width="1.15"/>
<rect x="217.15" y="254.45" width="8.5" height="8.5" fill="#fff" stroke="#5a1fc2" stroke-width="1.15"/>
<rect x="220.15" y="254.45" width="8.5" height="8.5" fill="#fff" stroke="#5a1fc2" stroke-width="1.15"/>
<rect x="223.15" y="254.45" width="8.5" height="8.5" fill="#fff" stroke="#5a1fc2" stroke-width="1.15"/>
<rect x="226.15" y="254.45" width="8.5" height="8.5" fill="#fff" stroke="#5a1fc2" stroke-width="1.15"/>
<rect x="229.15" y="254.45" width="8.5" height="8.5" fill="#fff" stroke="#5a1fc2" stroke-width="1.15"/>
<rect x="232.15" y="254.45" width="8.5" height="8.5" fill="#fff" stroke="#5a1fc2" stroke-width="1.15"/>
<rect x="235.15" y="253.55" width="8.5" height="8.5" fill="#fff" stroke="#5a1fc2" stroke-width="1.15"/>
</g>
<line x1="39.55" y1="409.50" x2="41.45" y2="409.50" stroke="#3a3a3a" stroke-width="1.2" />
<line x1="38.15" y1="392.70" x2="41.45" y2="392.70" stroke="#3a3a3a" stroke-width="1.2" />
<text x="35.30" y="397.70" font-size="14.4" text-anchor="end" font-weight="normal" >0.8</text>
<line x1="39.55" y1="375.90" x2="41.45" y2="375.90" stroke="#3a3a3a" stroke-width="1.2" />
<line x1="38.15" y1="359.10" x2="41.45" y2="359.10" stroke="#3a3a3a" stroke-width="1.2" />
<text x="35.30" y="364.10" font-size="14.4" text-anchor="end" font-weight="normal" >1.0</text>
<line x1="39.55" y1="342.30" x2="41.45" y2="342.30" stroke="#3a3a3a" stroke-width="1.2" />
<line x1="38.15" y1="325.50" x2="41.45" y2="325.50" stroke="#3a3a3a" stroke-width="1.2" />
<text x="35.30" y="330.50" font-size="14.4" text-anchor="end" font-weight="normal" >1.2</text>
<line x1="39.55" y1="308.70" x2="41.45" y2="308.70" stroke="#3a3a3a" stroke-width="1.2" />
<line x1="38.15" y1="291.90" x2="41.45" y2="291.90" stroke="#3a3a3a" stroke-width="1.2" />
<text x="35.30" y="296.90" font-size="14.4" text-anchor="end" font-weight="normal" >1.4</text>
<line x1="39.55" y1="275.10" x2="41.45" y2="275.10" stroke="#3a3a3a" stroke-width="1.2" />
<line x1="38.15" y1="258.30" x2="41.45" y2="258.30" stroke="#3a3a3a" stroke-width="1.2" />
<text x="35.30" y="263.30" font-size="14.4" text-anchor="end" font-weight="normal" >1.6</text>
<line x1="39.55" y1="241.50" x2="41.45" y2="241.50" stroke="#3a3a3a" stroke-width="1.2" />
<line x1="247.90" y1="409.80" x2="251.20" y2="409.80" stroke="#3a3a3a" stroke-width="1.2" />
<text x="255.30" y="414.80" font-size="14.4" text-anchor="start" font-weight="normal" >0</text>
<line x1="249.30" y1="394.47" x2="251.20" y2="394.47" stroke="#3a3a3a" stroke-width="1.2" />
<line x1="247.90" y1="379.14" x2="251.20" y2="379.14" stroke="#3a3a3a" stroke-width="1.2" />
<text x="255.30" y="384.14" font-size="14.4" text-anchor="start" font-weight="normal" >20</text>
<line x1="249.30" y1="363.81" x2="251.20" y2="363.81" stroke="#3a3a3a" stroke-width="1.2" />
<line x1="247.90" y1="348.48" x2="251.20" y2="348.48" stroke="#3a3a3a" stroke-width="1.2" />
<text x="255.30" y="353.48" font-size="14.4" text-anchor="start" font-weight="normal" >40</text>
<line x1="249.30" y1="333.15" x2="251.20" y2="333.15" stroke="#3a3a3a" stroke-width="1.2" />
<line x1="247.90" y1="317.82" x2="251.20" y2="317.82" stroke="#3a3a3a" stroke-width="1.2" />
<text x="255.30" y="322.82" font-size="14.4" text-anchor="start" font-weight="normal" >60</text>
<line x1="249.30" y1="302.49" x2="251.20" y2="302.49" stroke="#3a3a3a" stroke-width="1.2" />
<line x1="247.90" y1="287.16" x2="251.20" y2="287.16" stroke="#3a3a3a" stroke-width="1.2" />
<text x="255.30" y="292.16" font-size="14.4" text-anchor="start" font-weight="normal" >80</text>
<line x1="249.30" y1="271.83" x2="251.20" y2="271.83" stroke="#3a3a3a" stroke-width="1.2" />
<line x1="247.90" y1="256.50" x2="251.20" y2="256.50" stroke="#3a3a3a" stroke-width="1.2" />
<text x="255.30" y="261.50" font-size="14.4" text-anchor="start" font-weight="normal" >100</text>
<line x1="249.30" y1="241.17" x2="251.20" y2="241.17" stroke="#3a3a3a" stroke-width="1.2" />
<line x1="41.40" y1="409.80" x2="41.40" y2="413.10" stroke="#3a3a3a" stroke-width="1.2" />
<text x="41.40" y="426.80" font-size="14.4" text-anchor="middle" font-weight="normal" >0</text>
<line x1="56.40" y1="409.80" x2="56.40" y2="411.70" stroke="#3a3a3a" stroke-width="1.2" />
<line x1="71.40" y1="409.80" x2="71.40" y2="413.10" stroke="#3a3a3a" stroke-width="1.2" />
<text x="71.40" y="426.80" font-size="14.4" text-anchor="middle" font-weight="normal" >10</text>
<line x1="86.40" y1="409.80" x2="86.40" y2="411.70" stroke="#3a3a3a" stroke-width="1.2" />
<line x1="101.40" y1="409.80" x2="101.40" y2="413.10" stroke="#3a3a3a" stroke-width="1.2" />
<text x="101.40" y="426.80" font-size="14.4" text-anchor="middle" font-weight="normal" >20</text>
<line x1="116.40" y1="409.80" x2="116.40" y2="411.70" stroke="#3a3a3a" stroke-width="1.2" />
<line x1="131.40" y1="409.80" x2="131.40" y2="413.10" stroke="#3a3a3a" stroke-width="1.2" />
<text x="131.40" y="426.80" font-size="14.4" text-anchor="middle" font-weight="normal" >30</text>
<line x1="146.40" y1="409.80" x2="146.40" y2="411.70" stroke="#3a3a3a" stroke-width="1.2" />
<line x1="161.40" y1="409.80" x2="161.40" y2="413.10" stroke="#3a3a3a" stroke-width="1.2" />
<text x="161.40" y="426.80" font-size="14.4" text-anchor="middle" font-weight="normal" >40</text>
<line x1="176.40" y1="409.80" x2="176.40" y2="411.70" stroke="#3a3a3a" stroke-width="1.2" />
<line x1="191.40" y1="409.80" x2="191.40" y2="413.10" stroke="#3a3a3a" stroke-width="1.2" />
<text x="191.40" y="426.80" font-size="14.4" text-anchor="middle" font-weight="normal" >50</text>
<line x1="206.40" y1="409.80" x2="206.40" y2="411.70" stroke="#3a3a3a" stroke-width="1.2" />
<line x1="221.40" y1="409.80" x2="221.40" y2="413.10" stroke="#3a3a3a" stroke-width="1.2" />
<text x="221.40" y="426.80" font-size="14.4" text-anchor="middle" font-weight="normal" >60</text>
<line x1="236.40" y1="409.80" x2="236.40" y2="411.70" stroke="#3a3a3a" stroke-width="1.2" />
<line x1="251.40" y1="409.80" x2="251.40" y2="413.10" stroke="#3a3a3a" stroke-width="1.2" />
<text x="251.40" y="426.80" font-size="14.4" text-anchor="middle" font-weight="normal" >70</text>
<text x="146.40" y="444.60" font-size="14.4" text-anchor="middle" font-weight="normal" >Cycle</text>
<text transform="translate(11.3,324.6) rotate(-90)" font-size="14.4" text-anchor="middle">Discharge capacity (Ah)</text>
<text transform="translate(289.2,326.0) rotate(-90)" font-size="14.4" text-anchor="middle">Coulombic efficiency (%)</text>
<text x="48.50" y="404.60" font-size="14.4" text-anchor="start" font-weight="normal" >800 kPa test</text>
<line x1="139.90" y1="329.50" x2="160.40" y2="329.50" stroke="#f39a78" stroke-width="1.0" />
<circle cx="150.1" cy="329.5" r="4.7" fill="#fff" stroke="#f39a78" stroke-width="1.1"/>
<line x1="139.90" y1="347.60" x2="160.40" y2="347.60" stroke="#5a1fc2" stroke-width="1.6" />
<circle cx="150.1" cy="347.6" r="4.7" fill="#fff" stroke="#5a1fc2" stroke-width="1.1"/>
<text x="163.20" y="333.70" font-size="14.4" text-anchor="start" font-weight="normal" >CC charge</text>
<text x="163.20" y="351.20" font-size="14.4" text-anchor="start" font-weight="normal" >MPC charge</text>
<path d="M218.3,268.4 Q224,279 236,281.3" fill="none" stroke="#000" stroke-width="1.6"/>
<polygon points="244.8,281.5 232.8,278.0 234.8,281.5 232.8,285.2" fill="#000"/>
<path d="M68.5,340.6 Q64,350 55,352.6" fill="none" stroke="#000" stroke-width="1.6"/>
<polygon points="45.8,353.8 57.4,349.6 55.8,353.4 58.0,357.0" fill="#000"/>
<defs><clipPath id="clipd"><rect x="366.0" y="241.6" width="210.49999999999997" height="168.20000000000002"/></clipPath></defs>
<rect x="366.60" y="241.60" width="209.90" height="168.20" fill="none" stroke="#3a3a3a" stroke-width="1.1"/>
<g clip-path="url(#clipd)">
<polyline points="369.60,286.60 372.60,258.00 375.60,260.20 378.60,260.20 381.60,260.20 384.60,260.20 387.60,260.20 390.60,262.50 393.60,316.50 396.60,316.05 399.60,315.60 402.60,315.15 405.60,314.70 408.60,314.25 411.60,313.80 414.60,313.35 417.60,312.90 420.60,312.45 423.60,312.00 426.60,311.55 429.60,313.80 432.60,373.20 435.60,372.85 438.60,372.50 441.60,372.15 444.60,371.80 447.60,371.45 450.60,371.10 453.60,370.75 456.60,370.40 459.60,370.05 462.60,378.70" fill="none" stroke="#f39a78" stroke-width="1.0"/>
<circle cx="369.60" cy="286.60" r="4.7" fill="#fff" stroke="#f39a78" stroke-width="1.1"/>
<circle cx="372.60" cy="258.00" r="4.7" fill="#fff" stroke="#f39a78" stroke-width="1.1"/>
<circle cx="375.60" cy="260.20" r="4.7" fill="#fff" stroke="#f39a78" stroke-width="1.1"/>
<circle cx="378.60" cy="260.20" r="4.7" fill="#fff" stroke="#f39a78" stroke-width="1.1"/>
<circle cx="381.60" cy="260.20" r="4.7" fill="#fff" stroke="#f39a78" stroke-width="1.1"/>
<circle cx="384.60" cy="260.20" r="4.7" fill="#fff" stroke="#f39a78" stroke-width="1.1"/>
<circle cx="387.60" cy="260.20" r="4.7" fill="#fff" stroke="#f39a78" stroke-width="1.1"/>
<circle cx="390.60" cy="262.50" r="4.7" fill="#fff" stroke="#f39a78" stroke-width="1.1"/>
<circle cx="393.60" cy="316.50" r="4.7" fill="#fff" stroke="#f39a78" stroke-width="1.1"/>
<circle cx="396.60" cy="316.05" r="4.7" fill="#fff" stroke="#f39a78" stroke-width="1.1"/>
<circle cx="399.60" cy="315.60" r="4.7" fill="#fff" stroke="#f39a78" stroke-width="1.1"/>
<circle cx="402.60" cy="315.15" r="4.7" fill="#fff" stroke="#f39a78" stroke-width="1.1"/>
<circle cx="405.60" cy="314.70" r="4.7" fill="#fff" stroke="#f39a78" stroke-width="1.1"/>
<circle cx="408.60" cy="314.25" r="4.7" fill="#fff" stroke="#f39a78" stroke-width="1.1"/>
<circle cx="411.60" cy="313.80" r="4.7" fill="#fff" stroke="#f39a78" stroke-width="1.1"/>
<circle cx="414.60" cy="313.35" r="4.7" fill="#fff" stroke="#f39a78" stroke-width="1.1"/>
<circle cx="417.60" cy="312.90" r="4.7" fill="#fff" stroke="#f39a78" stroke-width="1.1"/>
<circle cx="420.60" cy="312.45" r="4.7" fill="#fff" stroke="#f39a78" stroke-width="1.1"/>
<circle cx="423.60" cy="312.00" r="4.7" fill="#fff" stroke="#f39a78" stroke-width="1.1"/>
<circle cx="426.60" cy="311.55" r="4.7" fill="#fff" stroke="#f39a78" stroke-width="1.1"/>
<circle cx="429.60" cy="313.80" r="4.7" fill="#fff" stroke="#f39a78" stroke-width="1.1"/>
<circle cx="432.60" cy="373.20" r="4.7" fill="#fff" stroke="#f39a78" stroke-width="1.1"/>
<circle cx="435.60" cy="372.85" r="4.7" fill="#fff" stroke="#f39a78" stroke-width="1.1"/>
<circle cx="438.60" cy="372.50" r="4.7" fill="#fff" stroke="#f39a78" stroke-width="1.1"/>
<circle cx="441.60" cy="372.15" r="4.7" fill="#fff" stroke="#f39a78" stroke-width="1.1"/>
<circle cx="444.60" cy="371.80" r="4.7" fill="#fff" stroke="#f39a78" stroke-width="1.1"/>
<circle cx="447.60" cy="371.45" r="4.7" fill="#fff" stroke="#f39a78" stroke-width="1.1"/>
<circle cx="450.60" cy="371.10" r="4.7" fill="#fff" stroke="#f39a78" stroke-width="1.1"/>
<circle cx="453.60" cy="370.75" r="4.7" fill="#fff" stroke="#f39a78" stroke-width="1.1"/>
<circle cx="456.60" cy="370.40" r="4.7" fill="#fff" stroke="#f39a78" stroke-width="1.1"/>
<circle cx="459.60" cy="370.05" r="4.7" fill="#fff" stroke="#f39a78" stroke-width="1.1"/>
<circle cx="462.60" cy="378.70" r="4.7" fill="#fff" stroke="#f39a78" stroke-width="1.1"/>
</g>
<g clip-path="url(#clipd)">
<polyline points="369.60,274.50 372.60,255.90 375.60,247.70 378.60,256.90 381.60,256.55 384.60,256.20 387.60,255.85 390.60,255.50 393.60,255.15 396.60,254.80 399.60,254.45 402.60,254.10 405.60,253.75 408.60,253.40 411.60,258.20 414.60,313.80 417.60,313.45 420.60,313.10 423.60,312.75 426.60,312.40 429.60,312.05 432.60,311.70 435.60,311.35 438.60,311.00 441.60,310.65 444.60,310.30 447.60,309.95 450.60,309.60 453.60,309.25 456.60,309.30 459.60,368.40 462.60,368.31 465.60,368.22 468.60,368.13 471.60,368.04 474.60,367.95 477.60,367.86 480.60,367.77 483.60,367.68 486.60,367.59 489.60,367.50 492.60,367.41 495.60,367.32 498.60,367.23 501.60,367.14 504.60,367.05 507.60,366.96 510.60,366.87 513.60,366.78 516.60,366.69 519.60,366.60 522.60,366.51 525.60,366.42 528.60,366.33 531.60,366.24 534.60,366.15 537.60,366.06 540.60,365.97 543.60,365.88 546.60,365.79 549.60,365.70 552.60,365.61 555.60,365.52 558.60,365.43 561.60,365.34 564.60,365.25" fill="none" stroke="#5a1fc2" stroke-width="1.0"/>
<circle cx="369.60" cy="274.50" r="4.7" fill="#fff" stroke="#5a1fc2" stroke-width="1.1"/>
<circle cx="372.60" cy="255.90" r="4.7" fill="#fff" stroke="#5a1fc2" stroke-width="1.1"/>
<circle cx="375.60" cy="247.70" r="4.7" fill="#fff" stroke="#5a1fc2" stroke-width="1.1"/>
<circle cx="378.60" cy="256.90" r="4.7" fill="#fff" stroke="#5a1fc2" stroke-width="1.1"/>
<circle cx="381.60" cy="256.55" r="4.7" fill="#fff" stroke="#5a1fc2" stroke-width="1.1"/>
<circle cx="384.60" cy="256.20" r="4.7" fill="#fff" stroke="#5a1fc2" stroke-width="1.1"/>
<circle cx="387.60" cy="255.85" r="4.7" fill="#fff" stroke="#5a1fc2" stroke-width="1.1"/>
<circle cx="390.60" cy="255.50" r="4.7" fill="#fff" stroke="#5a1fc2" stroke-width="1.1"/>
<circle cx="393.60" cy="255.15" r="4.7" fill="#fff" stroke="#5a1fc2" stroke-width="1.1"/>
<circle cx="396.60" cy="254.80" r="4.7" fill="#fff" stroke="#5a1fc2" stroke-width="1.1"/>
<circle cx="399.60" cy="254.45" r="4.7" fill="#fff" stroke="#5a1fc2" stroke-width="1.1"/>
<circle cx="402.60" cy="254.10" r="4.7" fill="#fff" stroke="#5a1fc2" stroke-width="1.1"/>
<circle cx="405.60" cy="253.75" r="4.7" fill="#fff" stroke="#5a1fc2" stroke-width="1.1"/>
<circle cx="408.60" cy="253.40" r="4.7" fill="#fff" stroke="#5a1fc2" stroke-width="1.1"/>
<circle cx="411.60" cy="258.20" r="4.7" fill="#fff" stroke="#5a1fc2" stroke-width="1.1"/>
<circle cx="414.60" cy="313.80" r="4.7" fill="#fff" stroke="#5a1fc2" stroke-width="1.1"/>
<circle cx="417.60" cy="313.45" r="4.7" fill="#fff" stroke="#5a1fc2" stroke-width="1.1"/>
<circle cx="420.60" cy="313.10" r="4.7" fill="#fff" stroke="#5a1fc2" stroke-width="1.1"/>
<circle cx="423.60" cy="312.75" r="4.7" fill="#fff" stroke="#5a1fc2" stroke-width="1.1"/>
<circle cx="426.60" cy="312.40" r="4.7" fill="#fff" stroke="#5a1fc2" stroke-width="1.1"/>
<circle cx="429.60" cy="312.05" r="4.7" fill="#fff" stroke="#5a1fc2" stroke-width="1.1"/>
<circle cx="432.60" cy="311.70" r="4.7" fill="#fff" stroke="#5a1fc2" stroke-width="1.1"/>
<circle cx="435.60" cy="311.35" r="4.7" fill="#fff" stroke="#5a1fc2" stroke-width="1.1"/>
<circle cx="438.60" cy="311.00" r="4.7" fill="#fff" stroke="#5a1fc2" stroke-width="1.1"/>
<circle cx="441.60" cy="310.65" r="4.7" fill="#fff" stroke="#5a1fc2" stroke-width="1.1"/>
<circle cx="444.60" cy="310.30" r="4.7" fill="#fff" stroke="#5a1fc2" stroke-width="1.1"/>
<circle cx="447.60" cy="309.95" r="4.7" fill="#fff" stroke="#5a1fc2" stroke-width="1.1"/>
<circle cx="450.60" cy="309.60" r="4.7" fill="#fff" stroke="#5a1fc2" stroke-width="1.1"/>
<circle cx="453.60" cy="309.25" r="4.7" fill="#fff" stroke="#5a1fc2" stroke-width="1.1"/>
<circle cx="456.60" cy="309.30" r="4.7" fill="#fff" stroke="#5a1fc2" stroke-width="1.1"/>
<circle cx="459.60" cy="368.40" r="4.7" fill="#fff" stroke="#5a1fc2" stroke-width="1.1"/>
<circle cx="462.60" cy="368.31" r="4.7" fill="#fff" stroke="#5a1fc2" stroke-width="1.1"/>
<circle cx="465.60" cy="368.22" r="4.7" fill="#fff" stroke="#5a1fc2" stroke-width="1.1"/>
<circle cx="468.60" cy="368.13" r="4.7" fill="#fff" stroke="#5a1fc2" stroke-width="1.1"/>
<circle cx="471.60" cy="368.04" r="4.7" fill="#fff" stroke="#5a1fc2" stroke-width="1.1"/>
<circle cx="474.60" cy="367.95" r="4.7" fill="#fff" stroke="#5a1fc2" stroke-width="1.1"/>
<circle cx="477.60" cy="367.86" r="4.7" fill="#fff" stroke="#5a1fc2" stroke-width="1.1"/>
<circle cx="480.60" cy="367.77" r="4.7" fill="#fff" stroke="#5a1fc2" stroke-width="1.1"/>
<circle cx="483.60" cy="367.68" r="4.7" fill="#fff" stroke="#5a1fc2" stroke-width="1.1"/>
<circle cx="486.60" cy="367.59" r="4.7" fill="#fff" stroke="#5a1fc2" stroke-width="1.1"/>
<circle cx="489.60" cy="367.50" r="4.7" fill="#fff" stroke="#5a1fc2" stroke-width="1.1"/>
<circle cx="492.60" cy="367.41" r="4.7" fill="#fff" stroke="#5a1fc2" stroke-width="1.1"/>
<circle cx="495.60" cy="367.32" r="4.7" fill="#fff" stroke="#5a1fc2" stroke-width="1.1"/>
<circle cx="498.60" cy="367.23" r="4.7" fill="#fff" stroke="#5a1fc2" stroke-width="1.1"/>
<circle cx="501.60" cy="367.14" r="4.7" fill="#fff" stroke="#5a1fc2" stroke-width="1.1"/>
<circle cx="504.60" cy="367.05" r="4.7" fill="#fff" stroke="#5a1fc2" stroke-width="1.1"/>
<circle cx="507.60" cy="366.96" r="4.7" fill="#fff" stroke="#5a1fc2" stroke-width="1.1"/>
<circle cx="510.60" cy="366.87" r="4.7" fill="#fff" stroke="#5a1fc2" stroke-width="1.1"/>
<circle cx="513.60" cy="366.78" r="4.7" fill="#fff" stroke="#5a1fc2" stroke-width="1.1"/>
<circle cx="516.60" cy="366.69" r="4.7" fill="#fff" stroke="#5a1fc2" stroke-width="1.1"/>
<circle cx="519.60" cy="366.60" r="4.7" fill="#fff" stroke="#5a1fc2" stroke-width="1.1"/>
<circle cx="522.60" cy="366.51" r="4.7" fill="#fff" stroke="#5a1fc2" stroke-width="1.1"/>
<circle cx="525.60" cy="366.42" r="4.7" fill="#fff" stroke="#5a1fc2" stroke-width="1.1"/>
<circle cx="528.60" cy="366.33" r="4.7" fill="#fff" stroke="#5a1fc2" stroke-width="1.1"/>
<circle cx="531.60" cy="366.24" r="4.7" fill="#fff" stroke="#5a1fc2" stroke-width="1.1"/>
<circle cx="534.60" cy="366.15" r="4.7" fill="#fff" stroke="#5a1fc2" stroke-width="1.1"/>
<circle cx="537.60" cy="366.06" r="4.7" fill="#fff" stroke="#5a1fc2" stroke-width="1.1"/>
<circle cx="540.60" cy="365.97" r="4.7" fill="#fff" stroke="#5a1fc2" stroke-width="1.1"/>
<circle cx="543.60" cy="365.88" r="4.7" fill="#fff" stroke="#5a1fc2" stroke-width="1.1"/>
<circle cx="546.60" cy="365.79" r="4.7" fill="#fff" stroke="#5a1fc2" stroke-width="1.1"/>
<circle cx="549.60" cy="365.70" r="4.7" fill="#fff" stroke="#5a1fc2" stroke-width="1.1"/>
<circle cx="552.60" cy="365.61" r="4.7" fill="#fff" stroke="#5a1fc2" stroke-width="1.1"/>
<circle cx="555.60" cy="365.52" r="4.7" fill="#fff" stroke="#5a1fc2" stroke-width="1.1"/>
<circle cx="558.60" cy="365.43" r="4.7" fill="#fff" stroke="#5a1fc2" stroke-width="1.1"/>
<circle cx="561.60" cy="365.34" r="4.7" fill="#fff" stroke="#5a1fc2" stroke-width="1.1"/>
<circle cx="564.60" cy="365.25" r="4.7" fill="#fff" stroke="#5a1fc2" stroke-width="1.1"/>
</g>
<line x1="364.70" y1="409.72" x2="366.60" y2="409.72" stroke="#3a3a3a" stroke-width="1.2" />
<line x1="363.30" y1="391.04" x2="366.60" y2="391.04" stroke="#3a3a3a" stroke-width="1.2" />
<text x="360.60" y="395.64" font-size="14.4" text-anchor="end" font-weight="normal" >160</text>
<line x1="364.70" y1="372.36" x2="366.60" y2="372.36" stroke="#3a3a3a" stroke-width="1.2" />
<line x1="363.30" y1="353.68" x2="366.60" y2="353.68" stroke="#3a3a3a" stroke-width="1.2" />
<text x="360.60" y="358.28" font-size="14.4" text-anchor="end" font-weight="normal" >200</text>
<line x1="364.70" y1="335.00" x2="366.60" y2="335.00" stroke="#3a3a3a" stroke-width="1.2" />
<line x1="363.30" y1="316.32" x2="366.60" y2="316.32" stroke="#3a3a3a" stroke-width="1.2" />
<text x="360.60" y="320.92" font-size="14.4" text-anchor="end" font-weight="normal" >240</text>
<line x1="364.70" y1="297.64" x2="366.60" y2="297.64" stroke="#3a3a3a" stroke-width="1.2" />
<line x1="363.30" y1="278.96" x2="366.60" y2="278.96" stroke="#3a3a3a" stroke-width="1.2" />
<text x="360.60" y="283.56" font-size="14.4" text-anchor="end" font-weight="normal" >280</text>
<line x1="364.70" y1="260.28" x2="366.60" y2="260.28" stroke="#3a3a3a" stroke-width="1.2" />
<line x1="363.30" y1="241.60" x2="366.60" y2="241.60" stroke="#3a3a3a" stroke-width="1.2" />
<text x="360.60" y="246.20" font-size="14.4" text-anchor="end" font-weight="normal" >320</text>
<line x1="366.60" y1="409.80" x2="366.60" y2="413.10" stroke="#3a3a3a" stroke-width="1.2" />
<text x="366.60" y="426.80" font-size="14.4" text-anchor="middle" font-weight="normal" >0</text>
<line x1="381.60" y1="409.80" x2="381.60" y2="411.70" stroke="#3a3a3a" stroke-width="1.2" />
<line x1="396.60" y1="409.80" x2="396.60" y2="413.10" stroke="#3a3a3a" stroke-width="1.2" />
<text x="396.60" y="426.80" font-size="14.4" text-anchor="middle" font-weight="normal" >10</text>
<line x1="411.60" y1="409.80" x2="411.60" y2="411.70" stroke="#3a3a3a" stroke-width="1.2" />
<line x1="426.60" y1="409.80" x2="426.60" y2="413.10" stroke="#3a3a3a" stroke-width="1.2" />
<text x="426.60" y="426.80" font-size="14.4" text-anchor="middle" font-weight="normal" >20</text>
<line x1="441.60" y1="409.80" x2="441.60" y2="411.70" stroke="#3a3a3a" stroke-width="1.2" />
<line x1="456.60" y1="409.80" x2="456.60" y2="413.10" stroke="#3a3a3a" stroke-width="1.2" />
<text x="456.60" y="426.80" font-size="14.4" text-anchor="middle" font-weight="normal" >30</text>
<line x1="471.60" y1="409.80" x2="471.60" y2="411.70" stroke="#3a3a3a" stroke-width="1.2" />
<line x1="486.60" y1="409.80" x2="486.60" y2="413.10" stroke="#3a3a3a" stroke-width="1.2" />
<text x="486.60" y="426.80" font-size="14.4" text-anchor="middle" font-weight="normal" >40</text>
<line x1="501.60" y1="409.80" x2="501.60" y2="411.70" stroke="#3a3a3a" stroke-width="1.2" />
<line x1="516.60" y1="409.80" x2="516.60" y2="413.10" stroke="#3a3a3a" stroke-width="1.2" />
<text x="516.60" y="426.80" font-size="14.4" text-anchor="middle" font-weight="normal" >50</text>
<line x1="531.60" y1="409.80" x2="531.60" y2="411.70" stroke="#3a3a3a" stroke-width="1.2" />
<line x1="546.60" y1="409.80" x2="546.60" y2="413.10" stroke="#3a3a3a" stroke-width="1.2" />
<text x="546.60" y="426.80" font-size="14.4" text-anchor="middle" font-weight="normal" >60</text>
<line x1="561.60" y1="409.80" x2="561.60" y2="411.70" stroke="#3a3a3a" stroke-width="1.2" />
<line x1="576.60" y1="409.80" x2="576.60" y2="413.10" stroke="#3a3a3a" stroke-width="1.2" />
<text x="576.60" y="426.80" font-size="14.4" text-anchor="middle" font-weight="normal" >70</text>
<text x="471.50" y="444.60" font-size="14.4" text-anchor="middle" font-weight="normal" >Cycle</text>
<text transform="translate(313.2,327.4) rotate(-90)" font-size="14.4" text-anchor="middle">Discharge energy density</text>
<text transform="translate(332.9,325.3) rotate(-90)" font-size="14.4" text-anchor="middle">(Wh kg<tspan font-size="9.5" dy="-6.5" dx="-0.8">-1</tspan><tspan dy="6.5" dx="0.6">)</tspan></text>
<text x="371.60" y="403.70" font-size="14.4" text-anchor="start" font-weight="normal" >800 kPa test</text>
<line x1="463.00" y1="258.40" x2="483.10" y2="258.40" stroke="#f39a78" stroke-width="1.0" />
<circle cx="473.0" cy="258.4" r="4.7" fill="#fff" stroke="#f39a78" stroke-width="1.1"/>
<line x1="463.00" y1="275.50" x2="483.10" y2="275.50" stroke="#5a1fc2" stroke-width="1.6" />
<circle cx="473.0" cy="275.5" r="4.7" fill="#fff" stroke="#5a1fc2" stroke-width="1.1"/>
<text x="485.00" y="262.00" font-size="14.4" text-anchor="start" font-weight="normal" >CC charge</text>
<text x="485.00" y="279.90" font-size="14.4" text-anchor="start" font-weight="normal" >MPC charge</text>
<defs><clipPath id="clipe"><rect x="41.4" y="480.9" width="210.04999999999998" height="168.5"/></clipPath></defs>
<rect x="42.00" y="480.90" width="209.45" height="168.50" fill="none" stroke="#3a3a3a" stroke-width="1.1"/>
<g clip-path="url(#clipe)">
<polyline points="42.65,514.35 43.31,514.41 43.96,514.37 44.61,514.42 45.27,514.43 45.92,514.31 46.57,514.30 47.23,514.47 47.88,514.35 48.53,514.35 49.19,514.50 49.84,514.39 50.50,514.47 51.15,514.40 51.80,514.43 52.46,514.33 53.11,514.43 53.76,514.47 54.42,514.40 55.07,514.45 55.72,514.43 56.38,514.31 57.03,514.45 57.68,514.42 58.34,514.36 58.99,514.31 59.64,514.47 60.30,514.39 60.95,514.44 61.61,514.48 62.26,514.44 62.91,514.48 63.57,514.38 64.22,514.46 64.87,514.39 65.53,514.49 66.18,514.48 66.83,514.32 67.49,514.33 68.14,514.34 68.79,514.49 69.45,514.39 70.10,514.43 70.75,514.36 71.41,514.40 72.06,514.38 72.71,514.37 73.37,514.42 74.02,514.42 74.67,514.48 75.33,514.44 75.98,514.49 76.64,514.47 77.29,514.50 77.94,514.43 78.60,514.33 79.25,514.47 79.90,514.49 80.56,514.48 81.21,514.41 81.86,514.44 82.52,514.34 83.17,514.47 83.82,514.41 84.48,514.36 85.13,514.31 85.78,514.47 86.44,514.50 87.09,514.32 87.75,514.46 88.40,514.38 89.05,514.33 89.71,514.36 90.36,514.45 91.01,514.47 91.67,514.31 92.32,514.42 92.97,514.31 93.63,514.44 94.28,514.37 94.93,514.48 95.59,514.50 96.24,514.40 96.89,514.50 97.55,514.36 98.20,514.32 98.85,514.42 99.51,514.31 100.16,514.34 100.81,514.38 101.47,514.42 102.12,514.33 102.78,514.31 103.43,514.47 104.08,514.36 104.74,514.49 105.39,514.48 106.04,514.38 106.70,514.39 107.35,514.40 108.00,514.43 108.66,514.42 109.31,514.41 109.96,514.42 110.62,514.49 111.27,514.40 111.92,514.39 112.58,514.44 113.23,514.35 113.88,514.36 114.54,514.50 115.19,514.40 115.85,505.20 116.50,514.30 117.15,514.38 117.81,514.42 118.46,514.30 119.11,514.42 119.77,514.43 120.42,514.31 121.07,514.43 121.73,514.39 122.38,514.44 123.03,514.37 123.69,514.44 124.34,514.45 124.99,514.30 125.65,514.31 126.30,514.44 126.95,514.49 127.61,514.35 128.26,514.39 128.92,514.42 129.57,514.36 130.22,514.37 130.88,514.36 131.53,514.37 132.18,514.42 132.84,514.36 133.49,514.38 134.14,514.45 134.80,514.31 135.45,514.41 136.10,514.45 136.76,514.36 137.41,514.34 138.06,514.46 138.72,514.35 139.37,514.34 140.02,514.39 140.68,514.44 141.33,514.32 141.99,514.36 142.64,514.37 143.29,514.47 143.95,514.39 144.60,514.47 145.25,514.33 145.91,514.37 146.56,514.43 147.21,514.48 147.87,514.39 148.52,514.35 149.17,514.32 149.83,507.50 150.48,514.34 151.13,514.46 151.79,514.47 152.44,514.34 153.09,514.36 153.75,514.46 154.40,514.43 155.06,514.46 155.71,514.37 156.36,514.33 157.02,514.36 157.67,514.46 158.32,514.35 158.98,521.50 159.63,514.38 160.28,514.38 160.94,514.38 161.59,514.48 162.24,514.33 162.90,514.30 163.55,514.49 164.20,507.50 164.86,514.50 165.51,514.39 166.16,514.49 166.82,514.49 167.47,514.34 168.13,522.70 168.78,608.20 169.43,615.70 170.09,615.60 170.74,615.51 171.39,615.37 172.05,615.40 172.70,615.34 173.35,615.24 174.01,615.55 174.66,615.37 175.31,615.69 175.97,615.23 176.62,615.74" fill="none" stroke="#f29a7a" stroke-width="1.6"/>
<circle cx="42.65" cy="514.35" r="4.75" fill="#f29a7a" stroke="#f29a7a" stroke-width="1.2"/>
<circle cx="43.31" cy="514.41" r="4.75" fill="#f29a7a" stroke="#f29a7a" stroke-width="1.2"/>
<circle cx="43.96" cy="514.37" r="4.75" fill="#f29a7a" stroke="#f29a7a" stroke-width="1.2"/>
<circle cx="44.61" cy="514.42" r="4.75" fill="#f29a7a" stroke="#f29a7a" stroke-width="1.2"/>
<circle cx="45.27" cy="514.43" r="4.75" fill="#f29a7a" stroke="#f29a7a" stroke-width="1.2"/>
<circle cx="45.92" cy="514.31" r="4.75" fill="#f29a7a" stroke="#f29a7a" stroke-width="1.2"/>
<circle cx="46.57" cy="514.30" r="4.75" fill="#f29a7a" stroke="#f29a7a" stroke-width="1.2"/>
<circle cx="47.23" cy="514.47" r="4.75" fill="#f29a7a" stroke="#f29a7a" stroke-width="1.2"/>
<circle cx="47.88" cy="514.35" r="4.75" fill="#f29a7a" stroke="#f29a7a" stroke-width="1.2"/>
<circle cx="48.53" cy="514.35" r="4.75" fill="#f29a7a" stroke="#f29a7a" stroke-width="1.2"/>
<circle cx="49.19" cy="514.50" r="4.75" fill="#f29a7a" stroke="#f29a7a" stroke-width="1.2"/>
<circle cx="49.84" cy="514.39" r="4.75" fill="#f29a7a" stroke="#f29a7a" stroke-width="1.2"/>
<circle cx="50.50" cy="514.47" r="4.75" fill="#f29a7a" stroke="#f29a7a" stroke-width="1.2"/>
<circle cx="51.15" cy="514.40" r="4.75" fill="#f29a7a" stroke="#f29a7a" stroke-width="1.2"/>
<circle cx="51.80" cy="514.43" r="4.75" fill="#f29a7a" stroke="#f29a7a" stroke-width="1.2"/>
<circle cx="52.46" cy="514.33" r="4.75" fill="#f29a7a" stroke="#f29a7a" stroke-width="1.2"/>
<circle cx="53.11" cy="514.43" r="4.75" fill="#f29a7a" stroke="#f29a7a" stroke-width="1.2"/>
<circle cx="53.76" cy="514.47" r="4.75" fill="#f29a7a" stroke="#f29a7a" stroke-width="1.2"/>
<circle cx="54.42" cy="514.40" r="4.75" fill="#f29a7a" stroke="#f29a7a" stroke-width="1.2"/>
<circle cx="55.07" cy="514.45" r="4.75" fill="#f29a7a" stroke="#f29a7a" stroke-width="1.2"/>
<circle cx="55.72" cy="514.43" r="4.75" fill="#f29a7a" stroke="#f29a7a" stroke-width="1.2"/>
<circle cx="56.38" cy="514.31" r="4.75" fill="#f29a7a" stroke="#f29a7a" stroke-width="1.2"/>
<circle cx="57.03" cy="514.45" r="4.75" fill="#f29a7a" stroke="#f29a7a" stroke-width="1.2"/>
<circle cx="57.68" cy="514.42" r="4.75" fill="#f29a7a" stroke="#f29a7a" stroke-width="1.2"/>
<circle cx="58.34" cy="514.36" r="4.75" fill="#f29a7a" stroke="#f29a7a" stroke-width="1.2"/>
<circle cx="58.99" cy="514.31" r="4.75" fill="#f29a7a" stroke="#f29a7a" stroke-width="1.2"/>
<circle cx="59.64" cy="514.47" r="4.75" fill="#f29a7a" stroke="#f29a7a" stroke-width="1.2"/>
<circle cx="60.30" cy="514.39" r="4.75" fill="#f29a7a" stroke="#f29a7a" stroke-width="1.2"/>
<circle cx="60.95" cy="514.44" r="4.75" fill="#f29a7a" stroke="#f29a7a" stroke-width="1.2"/>
<circle cx="61.61" cy="514.48" r="4.75" fill="#f29a7a" stroke="#f29a7a" stroke-width="1.2"/>
<circle cx="62.26" cy="514.44" r="4.75" fill="#f29a7a" stroke="#f29a7a" stroke-width="1.2"/>
<circle cx="62.91" cy="514.48" r="4.75" fill="#f29a7a" stroke="#f29a7a" stroke-width="1.2"/>
<circle cx="63.57" cy="514.38" r="4.75" fill="#f29a7a" stroke="#f29a7a" stroke-width="1.2"/>
<circle cx="64.22" cy="514.46" r="4.75" fill="#f29a7a" stroke="#f29a7a" stroke-width="1.2"/>
<circle cx="64.87" cy="514.39" r="4.75" fill="#f29a7a" stroke="#f29a7a" stroke-width="1.2"/>
<circle cx="65.53" cy="514.49" r="4.75" fill="#f29a7a" stroke="#f29a7a" stroke-width="1.2"/>
<circle cx="66.18" cy="514.48" r="4.75" fill="#f29a7a" stroke="#f29a7a" stroke-width="1.2"/>
<circle cx="66.83" cy="514.32" r="4.75" fill="#f29a7a" stroke="#f29a7a" stroke-width="1.2"/>
<circle cx="67.49" cy="514.33" r="4.75" fill="#f29a7a" stroke="#f29a7a" stroke-width="1.2"/>
<circle cx="68.14" cy="514.34" r="4.75" fill="#f29a7a" stroke="#f29a7a" stroke-width="1.2"/>
<circle cx="68.79" cy="514.49" r="4.75" fill="#f29a7a" stroke="#f29a7a" stroke-width="1.2"/>
<circle cx="69.45" cy="514.39" r="4.75" fill="#f29a7a" stroke="#f29a7a" stroke-width="1.2"/>
<circle cx="70.10" cy="514.43" r="4.75" fill="#f29a7a" stroke="#f29a7a" stroke-width="1.2"/>
<circle cx="70.75" cy="514.36" r="4.75" fill="#f29a7a" stroke="#f29a7a" stroke-width="1.2"/>
<circle cx="71.41" cy="514.40" r="4.75" fill="#f29a7a" stroke="#f29a7a" stroke-width="1.2"/>
<circle cx="72.06" cy="514.38" r="4.75" fill="#f29a7a" stroke="#f29a7a" stroke-width="1.2"/>
<circle cx="72.71" cy="514.37" r="4.75" fill="#f29a7a" stroke="#f29a7a" stroke-width="1.2"/>
<circle cx="73.37" cy="514.42" r="4.75" fill="#f29a7a" stroke="#f29a7a" stroke-width="1.2"/>
<circle cx="74.02" cy="514.42" r="4.75" fill="#f29a7a" stroke="#f29a7a" stroke-width="1.2"/>
<circle cx="74.67" cy="514.48" r="4.75" fill="#f29a7a" stroke="#f29a7a" stroke-width="1.2"/>
<circle cx="75.33" cy="514.44" r="4.75" fill="#f29a7a" stroke="#f29a7a" stroke-width="1.2"/>
<circle cx="75.98" cy="514.49" r="4.75" fill="#f29a7a" stroke="#f29a7a" stroke-width="1.2"/>
<circle cx="76.64" cy="514.47" r="4.75" fill="#f29a7a" stroke="#f29a7a" stroke-width="1.2"/>
<circle cx="77.29" cy="514.50" r="4.75" fill="#f29a7a" stroke="#f29a7a" stroke-width="1.2"/>
<circle cx="77.94" cy="514.43" r="4.75" fill="#f29a7a" stroke="#f29a7a" stroke-width="1.2"/>
<circle cx="78.60" cy="514.33" r="4.75" fill="#f29a7a" stroke="#f29a7a" stroke-width="1.2"/>
<circle cx="79.25" cy="514.47" r="4.75" fill="#f29a7a" stroke="#f29a7a" stroke-width="1.2"/>
<circle cx="79.90" cy="514.49" r="4.75" fill="#f29a7a" stroke="#f29a7a" stroke-width="1.2"/>
<circle cx="80.56" cy="514.48" r="4.75" fill="#f29a7a" stroke="#f29a7a" stroke-width="1.2"/>
<circle cx="81.21" cy="514.41" r="4.75" fill="#f29a7a" stroke="#f29a7a" stroke-width="1.2"/>
<circle cx="81.86" cy="514.44" r="4.75" fill="#f29a7a" stroke="#f29a7a" stroke-width="1.2"/>
<circle cx="82.52" cy="514.34" r="4.75" fill="#f29a7a" stroke="#f29a7a" stroke-width="1.2"/>
<circle cx="83.17" cy="514.47" r="4.75" fill="#f29a7a" stroke="#f29a7a" stroke-width="1.2"/>
<circle cx="83.82" cy="514.41" r="4.75" fill="#f29a7a" stroke="#f29a7a" stroke-width="1.2"/>
<circle cx="84.48" cy="514.36" r="4.75" fill="#f29a7a" stroke="#f29a7a" stroke-width="1.2"/>
<circle cx="85.13" cy="514.31" r="4.75" fill="#f29a7a" stroke="#f29a7a" stroke-width="1.2"/>
<circle cx="85.78" cy="514.47" r="4.75" fill="#f29a7a" stroke="#f29a7a" stroke-width="1.2"/>
<circle cx="86.44" cy="514.50" r="4.75" fill="#f29a7a" stroke="#f29a7a" stroke-width="1.2"/>
<circle cx="87.09" cy="514.32" r="4.75" fill="#f29a7a" stroke="#f29a7a" stroke-width="1.2"/>
<circle cx="87.75" cy="514.46" r="4.75" fill="#f29a7a" stroke="#f29a7a" stroke-width="1.2"/>
<circle cx="88.40" cy="514.38" r="4.75" fill="#f29a7a" stroke="#f29a7a" stroke-width="1.2"/>
<circle cx="89.05" cy="514.33" r="4.75" fill="#f29a7a" stroke="#f29a7a" stroke-width="1.2"/>
<circle cx="89.71" cy="514.36" r="4.75" fill="#f29a7a" stroke="#f29a7a" stroke-width="1.2"/>
<circle cx="90.36" cy="514.45" r="4.75" fill="#f29a7a" stroke="#f29a7a" stroke-width="1.2"/>
<circle cx="91.01" cy="514.47" r="4.75" fill="#f29a7a" stroke="#f29a7a" stroke-width="1.2"/>
<circle cx="91.67" cy="514.31" r="4.75" fill="#f29a7a" stroke="#f29a7a" stroke-width="1.2"/>
<circle cx="92.32" cy="514.42" r="4.75" fill="#f29a7a" stroke="#f29a7a" stroke-width="1.2"/>
<circle cx="92.97" cy="514.31" r="4.75" fill="#f29a7a" stroke="#f29a7a" stroke-width="1.2"/>
<circle cx="93.63" cy="514.44" r="4.75" fill="#f29a7a" stroke="#f29a7a" stroke-width="1.2"/>
<circle cx="94.28" cy="514.37" r="4.75" fill="#f29a7a" stroke="#f29a7a" stroke-width="1.2"/>
<circle cx="94.93" cy="514.48" r="4.75" fill="#f29a7a" stroke="#f29a7a" stroke-width="1.2"/>
<circle cx="95.59" cy="514.50" r="4.75" fill="#f29a7a" stroke="#f29a7a" stroke-width="1.2"/>
<circle cx="96.24" cy="514.40" r="4.75" fill="#f29a7a" stroke="#f29a7a" stroke-width="1.2"/>
<circle cx="96.89" cy="514.50" r="4.75" fill="#f29a7a" stroke="#f29a7a" stroke-width="1.2"/>
<circle cx="97.55" cy="514.36" r="4.75" fill="#f29a7a" stroke="#f29a7a" stroke-width="1.2"/>
<circle cx="98.20" cy="514.32" r="4.75" fill="#f29a7a" stroke="#f29a7a" stroke-width="1.2"/>
<circle cx="98.85" cy="514.42" r="4.75" fill="#f29a7a" stroke="#f29a7a" stroke-width="1.2"/>
<circle cx="99.51" cy="514.31" r="4.75" fill="#f29a7a" stroke="#f29a7a" stroke-width="1.2"/>
<circle cx="100.16" cy="514.34" r="4.75" fill="#f29a7a" stroke="#f29a7a" stroke-width="1.2"/>
<circle cx="100.81" cy="514.38" r="4.75" fill="#f29a7a" stroke="#f29a7a" stroke-width="1.2"/>
<circle cx="101.47" cy="514.42" r="4.75" fill="#f29a7a" stroke="#f29a7a" stroke-width="1.2"/>
<circle cx="102.12" cy="514.33" r="4.75" fill="#f29a7a" stroke="#f29a7a" stroke-width="1.2"/>
<circle cx="102.78" cy="514.31" r="4.75" fill="#f29a7a" stroke="#f29a7a" stroke-width="1.2"/>
<circle cx="103.43" cy="514.47" r="4.75" fill="#f29a7a" stroke="#f29a7a" stroke-width="1.2"/>
<circle cx="104.08" cy="514.36" r="4.75" fill="#f29a7a" stroke="#f29a7a" stroke-width="1.2"/>
<circle cx="104.74" cy="514.49" r="4.75" fill="#f29a7a" stroke="#f29a7a" stroke-width="1.2"/>
<circle cx="105.39" cy="514.48" r="4.75" fill="#f29a7a" stroke="#f29a7a" stroke-width="1.2"/>
<circle cx="106.04" cy="514.38" r="4.75" fill="#f29a7a" stroke="#f29a7a" stroke-width="1.2"/>
<circle cx="106.70" cy="514.39" r="4.75" fill="#f29a7a" stroke="#f29a7a" stroke-width="1.2"/>
<circle cx="107.35" cy="514.40" r="4.75" fill="#f29a7a" stroke="#f29a7a" stroke-width="1.2"/>
<circle cx="108.00" cy="514.43" r="4.75" fill="#f29a7a" stroke="#f29a7a" stroke-width="1.2"/>
<circle cx="108.66" cy="514.42" r="4.75" fill="#f29a7a" stroke="#f29a7a" stroke-width="1.2"/>
<circle cx="109.31" cy="514.41" r="4.75" fill="#f29a7a" stroke="#f29a7a" stroke-width="1.2"/>
<circle cx="109.96" cy="514.42" r="4.75" fill="#f29a7a" stroke="#f29a7a" stroke-width="1.2"/>
<circle cx="110.62" cy="514.49" r="4.75" fill="#f29a7a" stroke="#f29a7a" stroke-width="1.2"/>
<circle cx="111.27" cy="514.40" r="4.75" fill="#f29a7a" stroke="#f29a7a" stroke-width="1.2"/>
<circle cx="111.92" cy="514.39" r="4.75" fill="#f29a7a" stroke="#f29a7a" stroke-width="1.2"/>
<circle cx="112.58" cy="514.44" r="4.75" fill="#f29a7a" stroke="#f29a7a" stroke-width="1.2"/>
<circle cx="113.23" cy="514.35" r="4.75" fill="#f29a7a" stroke="#f29a7a" stroke-width="1.2"/>
<circle cx="113.88" cy="514.36" r="4.75" fill="#f29a7a" stroke="#f29a7a" stroke-width="1.2"/>
<circle cx="114.54" cy="514.50" r="4.75" fill="#f29a7a" stroke="#f29a7a" stroke-width="1.2"/>
<circle cx="115.19" cy="514.40" r="4.75" fill="#f29a7a" stroke="#f29a7a" stroke-width="1.2"/>
<circle cx="115.85" cy="505.20" r="4.75" fill="#f29a7a" stroke="#f29a7a" stroke-width="1.2"/>
<circle cx="116.50" cy="514.30" r="4.75" fill="#f29a7a" stroke="#f29a7a" stroke-width="1.2"/>
<circle cx="117.15" cy="514.38" r="4.75" fill="#f29a7a" stroke="#f29a7a" stroke-width="1.2"/>
<circle cx="117.81" cy="514.42" r="4.75" fill="#f29a7a" stroke="#f29a7a" stroke-width="1.2"/>
<circle cx="118.46" cy="514.30" r="4.75" fill="#f29a7a" stroke="#f29a7a" stroke-width="1.2"/>
<circle cx="119.11" cy="514.42" r="4.75" fill="#f29a7a" stroke="#f29a7a" stroke-width="1.2"/>
<circle cx="119.77" cy="514.43" r="4.75" fill="#f29a7a" stroke="#f29a7a" stroke-width="1.2"/>
<circle cx="120.42" cy="514.31" r="4.75" fill="#f29a7a" stroke="#f29a7a" stroke-width="1.2"/>
<circle cx="121.07" cy="514.43" r="4.75" fill="#f29a7a" stroke="#f29a7a" stroke-width="1.2"/>
<circle cx="121.73" cy="514.39" r="4.75" fill="#f29a7a" stroke="#f29a7a" stroke-width="1.2"/>
<circle cx="122.38" cy="514.44" r="4.75" fill="#f29a7a" stroke="#f29a7a" stroke-width="1.2"/>
<circle cx="123.03" cy="514.37" r="4.75" fill="#f29a7a" stroke="#f29a7a" stroke-width="1.2"/>
<circle cx="123.69" cy="514.44" r="4.75" fill="#f29a7a" stroke="#f29a7a" stroke-width="1.2"/>
<circle cx="124.34" cy="514.45" r="4.75" fill="#f29a7a" stroke="#f29a7a" stroke-width="1.2"/>
<circle cx="124.99" cy="514.30" r="4.75" fill="#f29a7a" stroke="#f29a7a" stroke-width="1.2"/>
<circle cx="125.65" cy="514.31" r="4.75" fill="#f29a7a" stroke="#f29a7a" stroke-width="1.2"/>
<circle cx="126.30" cy="514.44" r="4.75" fill="#f29a7a" stroke="#f29a7a" stroke-width="1.2"/>
<circle cx="126.95" cy="514.49" r="4.75" fill="#f29a7a" stroke="#f29a7a" stroke-width="1.2"/>
<circle cx="127.61" cy="514.35" r="4.75" fill="#f29a7a" stroke="#f29a7a" stroke-width="1.2"/>
<circle cx="128.26" cy="514.39" r="4.75" fill="#f29a7a" stroke="#f29a7a" stroke-width="1.2"/>
<circle cx="128.92" cy="514.42" r="4.75" fill="#f29a7a" stroke="#f29a7a" stroke-width="1.2"/>
<circle cx="129.57" cy="514.36" r="4.75" fill="#f29a7a" stroke="#f29a7a" stroke-width="1.2"/>
<circle cx="130.22" cy="514.37" r="4.75" fill="#f29a7a" stroke="#f29a7a" stroke-width="1.2"/>
<circle cx="130.88" cy="514.36" r="4.75" fill="#f29a7a" stroke="#f29a7a" stroke-width="1.2"/>
<circle cx="131.53" cy="514.37" r="4.75" fill="#f29a7a" stroke="#f29a7a" stroke-width="1.2"/>
<circle cx="132.18" cy="514.42" r="4.75" fill="#f29a7a" stroke="#f29a7a" stroke-width="1.2"/>
<circle cx="132.84" cy="514.36" r="4.75" fill="#f29a7a" stroke="#f29a7a" stroke-width="1.2"/>
<circle cx="133.49" cy="514.38" r="4.75" fill="#f29a7a" stroke="#f29a7a" stroke-width="1.2"/>
<circle cx="134.14" cy="514.45" r="4.75" fill="#f29a7a" stroke="#f29a7a" stroke-width="1.2"/>
<circle cx="134.80" cy="514.31" r="4.75" fill="#f29a7a" stroke="#f29a7a" stroke-width="1.2"/>
<circle cx="135.45" cy="514.41" r="4.75" fill="#f29a7a" stroke="#f29a7a" stroke-width="1.2"/>
<circle cx="136.10" cy="514.45" r="4.75" fill="#f29a7a" stroke="#f29a7a" stroke-width="1.2"/>
<circle cx="136.76" cy="514.36" r="4.75" fill="#f29a7a" stroke="#f29a7a" stroke-width="1.2"/>
<circle cx="137.41" cy="514.34" r="4.75" fill="#f29a7a" stroke="#f29a7a" stroke-width="1.2"/>
<circle cx="138.06" cy="514.46" r="4.75" fill="#f29a7a" stroke="#f29a7a" stroke-width="1.2"/>
<circle cx="138.72" cy="514.35" r="4.75" fill="#f29a7a" stroke="#f29a7a" stroke-width="1.2"/>
<circle cx="139.37" cy="514.34" r="4.75" fill="#f29a7a" stroke="#f29a7a" stroke-width="1.2"/>
<circle cx="140.02" cy="514.39" r="4.75" fill="#f29a7a" stroke="#f29a7a" stroke-width="1.2"/>
<circle cx="140.68" cy="514.44" r="4.75" fill="#f29a7a" stroke="#f29a7a" stroke-width="1.2"/>
<circle cx="141.33" cy="514.32" r="4.75" fill="#f29a7a" stroke="#f29a7a" stroke-width="1.2"/>
<circle cx="141.99" cy="514.36" r="4.75" fill="#f29a7a" stroke="#f29a7a" stroke-width="1.2"/>
<circle cx="142.64" cy="514.37" r="4.75" fill="#f29a7a" stroke="#f29a7a" stroke-width="1.2"/>
<circle cx="143.29" cy="514.47" r="4.75" fill="#f29a7a" stroke="#f29a7a" stroke-width="1.2"/>
<circle cx="143.95" cy="514.39" r="4.75" fill="#f29a7a" stroke="#f29a7a" stroke-width="1.2"/>
<circle cx="144.60" cy="514.47" r="4.75" fill="#f29a7a" stroke="#f29a7a" stroke-width="1.2"/>
<circle cx="145.25" cy="514.33" r="4.75" fill="#f29a7a" stroke="#f29a7a" stroke-width="1.2"/>
<circle cx="145.91" cy="514.37" r="4.75" fill="#f29a7a" stroke="#f29a7a" stroke-width="1.2"/>
<circle cx="146.56" cy="514.43" r="4.75" fill="#f29a7a" stroke="#f29a7a" stroke-width="1.2"/>
<circle cx="147.21" cy="514.48" r="4.75" fill="#f29a7a" stroke="#f29a7a" stroke-width="1.2"/>
<circle cx="147.87" cy="514.39" r="4.75" fill="#f29a7a" stroke="#f29a7a" stroke-width="1.2"/>
<circle cx="148.52" cy="514.35" r="4.75" fill="#f29a7a" stroke="#f29a7a" stroke-width="1.2"/>
<circle cx="149.17" cy="514.32" r="4.75" fill="#f29a7a" stroke="#f29a7a" stroke-width="1.2"/>
<circle cx="149.83" cy="507.50" r="4.75" fill="#f29a7a" stroke="#f29a7a" stroke-width="1.2"/>
<circle cx="150.48" cy="514.34" r="4.75" fill="#f29a7a" stroke="#f29a7a" stroke-width="1.2"/>
<circle cx="151.13" cy="514.46" r="4.75" fill="#f29a7a" stroke="#f29a7a" stroke-width="1.2"/>
<circle cx="151.79" cy="514.47" r="4.75" fill="#f29a7a" stroke="#f29a7a" stroke-width="1.2"/>
<circle cx="152.44" cy="514.34" r="4.75" fill="#f29a7a" stroke="#f29a7a" stroke-width="1.2"/>
<circle cx="153.09" cy="514.36" r="4.75" fill="#f29a7a" stroke="#f29a7a" stroke-width="1.2"/>
<circle cx="153.75" cy="514.46" r="4.75" fill="#f29a7a" stroke="#f29a7a" stroke-width="1.2"/>
<circle cx="154.40" cy="514.43" r="4.75" fill="#f29a7a" stroke="#f29a7a" stroke-width="1.2"/>
<circle cx="155.06" cy="514.46" r="4.75" fill="#f29a7a" stroke="#f29a7a" stroke-width="1.2"/>
<circle cx="155.71" cy="514.37" r="4.75" fill="#f29a7a" stroke="#f29a7a" stroke-width="1.2"/>
<circle cx="156.36" cy="514.33" r="4.75" fill="#f29a7a" stroke="#f29a7a" stroke-width="1.2"/>
<circle cx="157.02" cy="514.36" r="4.75" fill="#f29a7a" stroke="#f29a7a" stroke-width="1.2"/>
<circle cx="157.67" cy="514.46" r="4.75" fill="#f29a7a" stroke="#f29a7a" stroke-width="1.2"/>
<circle cx="158.32" cy="514.35" r="4.75" fill="#f29a7a" stroke="#f29a7a" stroke-width="1.2"/>
<circle cx="158.98" cy="521.50" r="4.75" fill="#f29a7a" stroke="#f29a7a" stroke-width="1.2"/>
<circle cx="159.63" cy="514.38" r="4.75" fill="#f29a7a" stroke="#f29a7a" stroke-width="1.2"/>
<circle cx="160.28" cy="514.38" r="4.75" fill="#f29a7a" stroke="#f29a7a" stroke-width="1.2"/>
<circle cx="160.94" cy="514.38" r="4.75" fill="#f29a7a" stroke="#f29a7a" stroke-width="1.2"/>
<circle cx="161.59" cy="514.48" r="4.75" fill="#f29a7a" stroke="#f29a7a" stroke-width="1.2"/>
<circle cx="162.24" cy="514.33" r="4.75" fill="#f29a7a" stroke="#f29a7a" stroke-width="1.2"/>
<circle cx="162.90" cy="514.30" r="4.75" fill="#f29a7a" stroke="#f29a7a" stroke-width="1.2"/>
<circle cx="163.55" cy="514.49" r="4.75" fill="#f29a7a" stroke="#f29a7a" stroke-width="1.2"/>
<circle cx="164.20" cy="507.50" r="4.75" fill="#f29a7a" stroke="#f29a7a" stroke-width="1.2"/>
<circle cx="164.86" cy="514.50" r="4.75" fill="#f29a7a" stroke="#f29a7a" stroke-width="1.2"/>
<circle cx="165.51" cy="514.39" r="4.75" fill="#f29a7a" stroke="#f29a7a" stroke-width="1.2"/>
<circle cx="166.16" cy="514.49" r="4.75" fill="#f29a7a" stroke="#f29a7a" stroke-width="1.2"/>
<circle cx="166.82" cy="514.49" r="4.75" fill="#f29a7a" stroke="#f29a7a" stroke-width="1.2"/>
<circle cx="167.47" cy="514.34" r="4.75" fill="#f29a7a" stroke="#f29a7a" stroke-width="1.2"/>
<circle cx="168.13" cy="522.70" r="4.75" fill="#f29a7a" stroke="#f29a7a" stroke-width="1.2"/>
<circle cx="168.78" cy="608.20" r="4.75" fill="#f29a7a" stroke="#f29a7a" stroke-width="1.2"/>
<circle cx="169.43" cy="615.70" r="4.75" fill="#f29a7a" stroke="#f29a7a" stroke-width="1.2"/>
<circle cx="170.09" cy="615.60" r="4.75" fill="#f29a7a" stroke="#f29a7a" stroke-width="1.2"/>
<circle cx="170.74" cy="615.51" r="4.75" fill="#f29a7a" stroke="#f29a7a" stroke-width="1.2"/>
<circle cx="171.39" cy="615.37" r="4.75" fill="#f29a7a" stroke="#f29a7a" stroke-width="1.2"/>
<circle cx="172.05" cy="615.40" r="4.75" fill="#f29a7a" stroke="#f29a7a" stroke-width="1.2"/>
<circle cx="172.70" cy="615.34" r="4.75" fill="#f29a7a" stroke="#f29a7a" stroke-width="1.2"/>
<circle cx="173.35" cy="615.24" r="4.75" fill="#f29a7a" stroke="#f29a7a" stroke-width="1.2"/>
<circle cx="174.01" cy="615.55" r="4.75" fill="#f29a7a" stroke="#f29a7a" stroke-width="1.2"/>
<circle cx="174.66" cy="615.37" r="4.75" fill="#f29a7a" stroke="#f29a7a" stroke-width="1.2"/>
<circle cx="175.31" cy="615.69" r="4.75" fill="#f29a7a" stroke="#f29a7a" stroke-width="1.2"/>
<circle cx="175.97" cy="615.23" r="4.75" fill="#f29a7a" stroke="#f29a7a" stroke-width="1.2"/>
<circle cx="176.62" cy="615.74" r="4.75" fill="#f29a7a" stroke="#f29a7a" stroke-width="1.2"/>
</g>
<g clip-path="url(#clipe)">
<polyline points="42.65,514.44 43.31,514.48 43.96,514.48 44.61,514.48 45.27,514.42 45.92,514.30 46.57,514.45 47.23,514.33 47.88,514.36 48.53,514.43 49.19,514.40 49.84,514.38 50.50,514.49 51.15,514.42 51.80,514.37 52.46,514.35 53.11,514.47 53.76,514.40 54.42,514.46 55.07,514.37 55.72,514.34 56.38,514.41 57.03,514.46 57.68,514.33 58.34,514.46 58.99,514.48 59.64,514.46 60.30,514.46 60.95,514.30 61.61,514.43 62.26,514.47 62.91,514.31 63.57,514.35 64.22,514.35 64.87,514.41 65.53,514.38 66.18,514.39 66.83,514.46 67.49,514.30 68.14,514.31 68.79,514.33 69.45,514.32 70.10,514.31 70.75,514.49 71.41,514.47 72.06,514.32 72.71,514.40 73.37,514.36 74.02,514.36 74.67,514.37 75.33,514.43 75.98,514.42 76.64,514.37 77.29,514.34 77.94,514.37 78.60,514.32 79.25,514.41 79.90,514.44 80.56,514.38 81.21,514.32 81.86,514.34 82.52,514.37 83.17,514.42 83.82,514.46 84.48,514.38 85.13,514.46 85.78,514.42 86.44,514.39 87.09,514.37 87.75,514.40 88.40,514.44 89.05,514.38 89.71,514.44 90.36,514.39 91.01,514.35 91.67,514.41 92.32,514.44 92.97,514.31 93.63,514.38 94.28,514.39 94.93,514.48 95.59,514.49 96.24,514.37 96.89,514.48 97.55,514.46 98.20,514.35 98.85,514.39 99.51,514.32 100.16,514.46 100.81,514.43 101.47,514.48 102.12,514.46 102.78,514.43 103.43,514.45 104.08,514.41 104.74,514.32 105.39,514.42 106.04,514.30 106.70,514.33 107.35,514.45 108.00,514.31 108.66,514.32 109.31,514.32 109.96,514.48 110.62,514.34 111.27,514.30 111.92,514.47 112.58,516.00 113.23,514.47 113.88,514.43 114.54,514.47 115.19,525.00 115.85,514.42 116.50,514.46 117.15,514.31 117.81,514.45 118.46,514.40 119.11,514.44 119.77,514.32 120.42,514.45 121.07,520.40 121.73,514.31 122.38,514.36 123.03,514.41 123.69,514.47 124.34,514.35 124.99,514.34 125.65,514.35 126.30,514.42 126.95,514.45 127.61,514.38 128.26,514.37 128.92,514.38 129.57,514.37 130.22,514.38 130.88,514.32 131.53,514.40 132.18,514.49 132.84,514.38 133.49,514.45 134.14,514.33 134.80,514.44 135.45,514.45 136.10,514.43 136.76,525.60 137.41,514.40 138.06,514.43 138.72,514.48 139.37,514.33 140.02,608.20 140.68,615.26 141.33,615.65 141.99,615.75 142.64,615.51 143.29,615.47 143.95,615.63 144.60,615.31 145.25,615.36 145.91,615.32 146.56,615.55 147.21,615.39 147.87,615.34 148.52,615.61" fill="none" stroke="#f29a7a" stroke-width="1.6"/>
<circle cx="42.65" cy="514.44" r="4.75" fill="#fff" stroke="#f29a7a" stroke-width="1.2"/>
<circle cx="43.31" cy="514.48" r="4.75" fill="#fff" stroke="#f29a7a" stroke-width="1.2"/>
<circle cx="43.96" cy="514.48" r="4.75" fill="#fff" stroke="#f29a7a" stroke-width="1.2"/>
<circle cx="44.61" cy="514.48" r="4.75" fill="#fff" stroke="#f29a7a" stroke-width="1.2"/>
<circle cx="45.27" cy="514.42" r="4.75" fill="#fff" stroke="#f29a7a" stroke-width="1.2"/>
<circle cx="45.92" cy="514.30" r="4.75" fill="#fff" stroke="#f29a7a" stroke-width="1.2"/>
<circle cx="46.57" cy="514.45" r="4.75" fill="#fff" stroke="#f29a7a" stroke-width="1.2"/>
<circle cx="47.23" cy="514.33" r="4.75" fill="#fff" stroke="#f29a7a" stroke-width="1.2"/>
<circle cx="47.88" cy="514.36" r="4.75" fill="#fff" stroke="#f29a7a" stroke-width="1.2"/>
<circle cx="48.53" cy="514.43" r="4.75" fill="#fff" stroke="#f29a7a" stroke-width="1.2"/>
<circle cx="49.19" cy="514.40" r="4.75" fill="#fff" stroke="#f29a7a" stroke-width="1.2"/>
<circle cx="49.84" cy="514.38" r="4.75" fill="#fff" stroke="#f29a7a" stroke-width="1.2"/>
<circle cx="50.50" cy="514.49" r="4.75" fill="#fff" stroke="#f29a7a" stroke-width="1.2"/>
<circle cx="51.15" cy="514.42" r="4.75" fill="#fff" stroke="#f29a7a" stroke-width="1.2"/>
<circle cx="51.80" cy="514.37" r="4.75" fill="#fff" stroke="#f29a7a" stroke-width="1.2"/>
<circle cx="52.46" cy="514.35" r="4.75" fill="#fff" stroke="#f29a7a" stroke-width="1.2"/>
<circle cx="53.11" cy="514.47" r="4.75" fill="#fff" stroke="#f29a7a" stroke-width="1.2"/>
<circle cx="53.76" cy="514.40" r="4.75" fill="#fff" stroke="#f29a7a" stroke-width="1.2"/>
<circle cx="54.42" cy="514.46" r="4.75" fill="#fff" stroke="#f29a7a" stroke-width="1.2"/>
<circle cx="55.07" cy="514.37" r="4.75" fill="#fff" stroke="#f29a7a" stroke-width="1.2"/>
<circle cx="55.72" cy="514.34" r="4.75" fill="#fff" stroke="#f29a7a" stroke-width="1.2"/>
<circle cx="56.38" cy="514.41" r="4.75" fill="#fff" stroke="#f29a7a" stroke-width="1.2"/>
<circle cx="57.03" cy="514.46" r="4.75" fill="#fff" stroke="#f29a7a" stroke-width="1.2"/>
<circle cx="57.68" cy="514.33" r="4.75" fill="#fff" stroke="#f29a7a" stroke-width="1.2"/>
<circle cx="58.34" cy="514.46" r="4.75" fill="#fff" stroke="#f29a7a" stroke-width="1.2"/>
<circle cx="58.99" cy="514.48" r="4.75" fill="#fff" stroke="#f29a7a" stroke-width="1.2"/>
<circle cx="59.64" cy="514.46" r="4.75" fill="#fff" stroke="#f29a7a" stroke-width="1.2"/>
<circle cx="60.30" cy="514.46" r="4.75" fill="#fff" stroke="#f29a7a" stroke-width="1.2"/>
<circle cx="60.95" cy="514.30" r="4.75" fill="#fff" stroke="#f29a7a" stroke-width="1.2"/>
<circle cx="61.61" cy="514.43" r="4.75" fill="#fff" stroke="#f29a7a" stroke-width="1.2"/>
<circle cx="62.26" cy="514.47" r="4.75" fill="#fff" stroke="#f29a7a" stroke-width="1.2"/>
<circle cx="62.91" cy="514.31" r="4.75" fill="#fff" stroke="#f29a7a" stroke-width="1.2"/>
<circle cx="63.57" cy="514.35" r="4.75" fill="#fff" stroke="#f29a7a" stroke-width="1.2"/>
<circle cx="64.22" cy="514.35" r="4.75" fill="#fff" stroke="#f29a7a" stroke-width="1.2"/>
<circle cx="64.87" cy="514.41" r="4.75" fill="#fff" stroke="#f29a7a" stroke-width="1.2"/>
<circle cx="65.53" cy="514.38" r="4.75" fill="#fff" stroke="#f29a7a" stroke-width="1.2"/>
<circle cx="66.18" cy="514.39" r="4.75" fill="#fff" stroke="#f29a7a" stroke-width="1.2"/>
<circle cx="66.83" cy="514.46" r="4.75" fill="#fff" stroke="#f29a7a" stroke-width="1.2"/>
<circle cx="67.49" cy="514.30" r="4.75" fill="#fff" stroke="#f29a7a" stroke-width="1.2"/>
<circle cx="68.14" cy="514.31" r="4.75" fill="#fff" stroke="#f29a7a" stroke-width="1.2"/>
<circle cx="68.79" cy="514.33" r="4.75" fill="#fff" stroke="#f29a7a" stroke-width="1.2"/>
<circle cx="69.45" cy="514.32" r="4.75" fill="#fff" stroke="#f29a7a" stroke-width="1.2"/>
<circle cx="70.10" cy="514.31" r="4.75" fill="#fff" stroke="#f29a7a" stroke-width="1.2"/>
<circle cx="70.75" cy="514.49" r="4.75" fill="#fff" stroke="#f29a7a" stroke-width="1.2"/>
<circle cx="71.41" cy="514.47" r="4.75" fill="#fff" stroke="#f29a7a" stroke-width="1.2"/>
<circle cx="72.06" cy="514.32" r="4.75" fill="#fff" stroke="#f29a7a" stroke-width="1.2"/>
<circle cx="72.71" cy="514.40" r="4.75" fill="#fff" stroke="#f29a7a" stroke-width="1.2"/>
<circle cx="73.37" cy="514.36" r="4.75" fill="#fff" stroke="#f29a7a" stroke-width="1.2"/>
<circle cx="74.02" cy="514.36" r="4.75" fill="#fff" stroke="#f29a7a" stroke-width="1.2"/>
<circle cx="74.67" cy="514.37" r="4.75" fill="#fff" stroke="#f29a7a" stroke-width="1.2"/>
<circle cx="75.33" cy="514.43" r="4.75" fill="#fff" stroke="#f29a7a" stroke-width="1.2"/>
<circle cx="75.98" cy="514.42" r="4.75" fill="#fff" stroke="#f29a7a" stroke-width="1.2"/>
<circle cx="76.64" cy="514.37" r="4.75" fill="#fff" stroke="#f29a7a" stroke-width="1.2"/>
<circle cx="77.29" cy="514.34" r="4.75" fill="#fff" stroke="#f29a7a" stroke-width="1.2"/>
<circle cx="77.94" cy="514.37" r="4.75" fill="#fff" stroke="#f29a7a" stroke-width="1.2"/>
<circle cx="78.60" cy="514.32" r="4.75" fill="#fff" stroke="#f29a7a" stroke-width="1.2"/>
<circle cx="79.25" cy="514.41" r="4.75" fill="#fff" stroke="#f29a7a" stroke-width="1.2"/>
<circle cx="79.90" cy="514.44" r="4.75" fill="#fff" stroke="#f29a7a" stroke-width="1.2"/>
<circle cx="80.56" cy="514.38" r="4.75" fill="#fff" stroke="#f29a7a" stroke-width="1.2"/>
<circle cx="81.21" cy="514.32" r="4.75" fill="#fff" stroke="#f29a7a" stroke-width="1.2"/>
<circle cx="81.86" cy="514.34" r="4.75" fill="#fff" stroke="#f29a7a" stroke-width="1.2"/>
<circle cx="82.52" cy="514.37" r="4.75" fill="#fff" stroke="#f29a7a" stroke-width="1.2"/>
<circle cx="83.17" cy="514.42" r="4.75" fill="#fff" stroke="#f29a7a" stroke-width="1.2"/>
<circle cx="83.82" cy="514.46" r="4.75" fill="#fff" stroke="#f29a7a" stroke-width="1.2"/>
<circle cx="84.48" cy="514.38" r="4.75" fill="#fff" stroke="#f29a7a" stroke-width="1.2"/>
<circle cx="85.13" cy="514.46" r="4.75" fill="#fff" stroke="#f29a7a" stroke-width="1.2"/>
<circle cx="85.78" cy="514.42" r="4.75" fill="#fff" stroke="#f29a7a" stroke-width="1.2"/>
<circle cx="86.44" cy="514.39" r="4.75" fill="#fff" stroke="#f29a7a" stroke-width="1.2"/>
<circle cx="87.09" cy="514.37" r="4.75" fill="#fff" stroke="#f29a7a" stroke-width="1.2"/>
<circle cx="87.75" cy="514.40" r="4.75" fill="#fff" stroke="#f29a7a" stroke-width="1.2"/>
<circle cx="88.40" cy="514.44" r="4.75" fill="#fff" stroke="#f29a7a" stroke-width="1.2"/>
<circle cx="89.05" cy="514.38" r="4.75" fill="#fff" stroke="#f29a7a" stroke-width="1.2"/>
<circle cx="89.71" cy="514.44" r="4.75" fill="#fff" stroke="#f29a7a" stroke-width="1.2"/>
<circle cx="90.36" cy="514.39" r="4.75" fill="#fff" stroke="#f29a7a" stroke-width="1.2"/>
<circle cx="91.01" cy="514.35" r="4.75" fill="#fff" stroke="#f29a7a" stroke-width="1.2"/>
<circle cx="91.67" cy="514.41" r="4.75" fill="#fff" stroke="#f29a7a" stroke-width="1.2"/>
<circle cx="92.32" cy="514.44" r="4.75" fill="#fff" stroke="#f29a7a" stroke-width="1.2"/>
<circle cx="92.97" cy="514.31" r="4.75" fill="#fff" stroke="#f29a7a" stroke-width="1.2"/>
<circle cx="93.63" cy="514.38" r="4.75" fill="#fff" stroke="#f29a7a" stroke-width="1.2"/>
<circle cx="94.28" cy="514.39" r="4.75" fill="#fff" stroke="#f29a7a" stroke-width="1.2"/>
<circle cx="94.93" cy="514.48" r="4.75" fill="#fff" stroke="#f29a7a" stroke-width="1.2"/>
<circle cx="95.59" cy="514.49" r="4.75" fill="#fff" stroke="#f29a7a" stroke-width="1.2"/>
<circle cx="96.24" cy="514.37" r="4.75" fill="#fff" stroke="#f29a7a" stroke-width="1.2"/>
<circle cx="96.89" cy="514.48" r="4.75" fill="#fff" stroke="#f29a7a" stroke-width="1.2"/>
<circle cx="97.55" cy="514.46" r="4.75" fill="#fff" stroke="#f29a7a" stroke-width="1.2"/>
<circle cx="98.20" cy="514.35" r="4.75" fill="#fff" stroke="#f29a7a" stroke-width="1.2"/>
<circle cx="98.85" cy="514.39" r="4.75" fill="#fff" stroke="#f29a7a" stroke-width="1.2"/>
<circle cx="99.51" cy="514.32" r="4.75" fill="#fff" stroke="#f29a7a" stroke-width="1.2"/>
<circle cx="100.16" cy="514.46" r="4.75" fill="#fff" stroke="#f29a7a" stroke-width="1.2"/>
<circle cx="100.81" cy="514.43" r="4.75" fill="#fff" stroke="#f29a7a" stroke-width="1.2"/>
<circle cx="101.47" cy="514.48" r="4.75" fill="#fff" stroke="#f29a7a" stroke-width="1.2"/>
<circle cx="102.12" cy="514.46" r="4.75" fill="#fff" stroke="#f29a7a" stroke-width="1.2"/>
<circle cx="102.78" cy="514.43" r="4.75" fill="#fff" stroke="#f29a7a" stroke-width="1.2"/>
<circle cx="103.43" cy="514.45" r="4.75" fill="#fff" stroke="#f29a7a" stroke-width="1.2"/>
<circle cx="104.08" cy="514.41" r="4.75" fill="#fff" stroke="#f29a7a" stroke-width="1.2"/>
<circle cx="104.74" cy="514.32" r="4.75" fill="#fff" stroke="#f29a7a" stroke-width="1.2"/>
<circle cx="105.39" cy="514.42" r="4.75" fill="#fff" stroke="#f29a7a" stroke-width="1.2"/>
<circle cx="106.04" cy="514.30" r="4.75" fill="#fff" stroke="#f29a7a" stroke-width="1.2"/>
<circle cx="106.70" cy="514.33" r="4.75" fill="#fff" stroke="#f29a7a" stroke-width="1.2"/>
<circle cx="107.35" cy="514.45" r="4.75" fill="#fff" stroke="#f29a7a" stroke-width="1.2"/>
<circle cx="108.00" cy="514.31" r="4.75" fill="#fff" stroke="#f29a7a" stroke-width="1.2"/>
<circle cx="108.66" cy="514.32" r="4.75" fill="#fff" stroke="#f29a7a" stroke-width="1.2"/>
<circle cx="109.31" cy="514.32" r="4.75" fill="#fff" stroke="#f29a7a" stroke-width="1.2"/>
<circle cx="109.96" cy="514.48" r="4.75" fill="#fff" stroke="#f29a7a" stroke-width="1.2"/>
<circle cx="110.62" cy="514.34" r="4.75" fill="#fff" stroke="#f29a7a" stroke-width="1.2"/>
<circle cx="111.27" cy="514.30" r="4.75" fill="#fff" stroke="#f29a7a" stroke-width="1.2"/>
<circle cx="111.92" cy="514.47" r="4.75" fill="#fff" stroke="#f29a7a" stroke-width="1.2"/>
<circle cx="112.58" cy="516.00" r="4.75" fill="#fff" stroke="#f29a7a" stroke-width="1.2"/>
<circle cx="113.23" cy="514.47" r="4.75" fill="#fff" stroke="#f29a7a" stroke-width="1.2"/>
<circle cx="113.88" cy="514.43" r="4.75" fill="#fff" stroke="#f29a7a" stroke-width="1.2"/>
<circle cx="114.54" cy="514.47" r="4.75" fill="#fff" stroke="#f29a7a" stroke-width="1.2"/>
<circle cx="115.19" cy="525.00" r="4.75" fill="#fff" stroke="#f29a7a" stroke-width="1.2"/>
<circle cx="115.85" cy="514.42" r="4.75" fill="#fff" stroke="#f29a7a" stroke-width="1.2"/>
<circle cx="116.50" cy="514.46" r="4.75" fill="#fff" stroke="#f29a7a" stroke-width="1.2"/>
<circle cx="117.15" cy="514.31" r="4.75" fill="#fff" stroke="#f29a7a" stroke-width="1.2"/>
<circle cx="117.81" cy="514.45" r="4.75" fill="#fff" stroke="#f29a7a" stroke-width="1.2"/>
<circle cx="118.46" cy="514.40" r="4.75" fill="#fff" stroke="#f29a7a" stroke-width="1.2"/>
<circle cx="119.11" cy="514.44" r="4.75" fill="#fff" stroke="#f29a7a" stroke-width="1.2"/>
<circle cx="119.77" cy="514.32" r="4.75" fill="#fff" stroke="#f29a7a" stroke-width="1.2"/>
<circle cx="120.42" cy="514.45" r="4.75" fill="#fff" stroke="#f29a7a" stroke-width="1.2"/>
<circle cx="121.07" cy="520.40" r="4.75" fill="#fff" stroke="#f29a7a" stroke-width="1.2"/>
<circle cx="121.73" cy="514.31" r="4.75" fill="#fff" stroke="#f29a7a" stroke-width="1.2"/>
<circle cx="122.38" cy="514.36" r="4.75" fill="#fff" stroke="#f29a7a" stroke-width="1.2"/>
<circle cx="123.03" cy="514.41" r="4.75" fill="#fff" stroke="#f29a7a" stroke-width="1.2"/>
<circle cx="123.69" cy="514.47" r="4.75" fill="#fff" stroke="#f29a7a" stroke-width="1.2"/>
<circle cx="124.34" cy="514.35" r="4.75" fill="#fff" stroke="#f29a7a" stroke-width="1.2"/>
<circle cx="124.99" cy="514.34" r="4.75" fill="#fff" stroke="#f29a7a" stroke-width="1.2"/>
<circle cx="125.65" cy="514.35" r="4.75" fill="#fff" stroke="#f29a7a" stroke-width="1.2"/>
<circle cx="126.30" cy="514.42" r="4.75" fill="#fff" stroke="#f29a7a" stroke-width="1.2"/>
<circle cx="126.95" cy="514.45" r="4.75" fill="#fff" stroke="#f29a7a" stroke-width="1.2"/>
<circle cx="127.61" cy="514.38" r="4.75" fill="#fff" stroke="#f29a7a" stroke-width="1.2"/>
<circle cx="128.26" cy="514.37" r="4.75" fill="#fff" stroke="#f29a7a" stroke-width="1.2"/>
<circle cx="128.92" cy="514.38" r="4.75" fill="#fff" stroke="#f29a7a" stroke-width="1.2"/>
<circle cx="129.57" cy="514.37" r="4.75" fill="#fff" stroke="#f29a7a" stroke-width="1.2"/>
<circle cx="130.22" cy="514.38" r="4.75" fill="#fff" stroke="#f29a7a" stroke-width="1.2"/>
<circle cx="130.88" cy="514.32" r="4.75" fill="#fff" stroke="#f29a7a" stroke-width="1.2"/>
<circle cx="131.53" cy="514.40" r="4.75" fill="#fff" stroke="#f29a7a" stroke-width="1.2"/>
<circle cx="132.18" cy="514.49" r="4.75" fill="#fff" stroke="#f29a7a" stroke-width="1.2"/>
<circle cx="132.84" cy="514.38" r="4.75" fill="#fff" stroke="#f29a7a" stroke-width="1.2"/>
<circle cx="133.49" cy="514.45" r="4.75" fill="#fff" stroke="#f29a7a" stroke-width="1.2"/>
<circle cx="134.14" cy="514.33" r="4.75" fill="#fff" stroke="#f29a7a" stroke-width="1.2"/>
<circle cx="134.80" cy="514.44" r="4.75" fill="#fff" stroke="#f29a7a" stroke-width="1.2"/>
<circle cx="135.45" cy="514.45" r="4.75" fill="#fff" stroke="#f29a7a" stroke-width="1.2"/>
<circle cx="136.10" cy="514.43" r="4.75" fill="#fff" stroke="#f29a7a" stroke-width="1.2"/>
<circle cx="136.76" cy="525.60" r="4.75" fill="#fff" stroke="#f29a7a" stroke-width="1.2"/>
<circle cx="137.41" cy="514.40" r="4.75" fill="#fff" stroke="#f29a7a" stroke-width="1.2"/>
<circle cx="138.06" cy="514.43" r="4.75" fill="#fff" stroke="#f29a7a" stroke-width="1.2"/>
<circle cx="138.72" cy="514.48" r="4.75" fill="#fff" stroke="#f29a7a" stroke-width="1.2"/>
<circle cx="139.37" cy="514.33" r="4.75" fill="#fff" stroke="#f29a7a" stroke-width="1.2"/>
<circle cx="140.02" cy="608.20" r="4.75" fill="#fff" stroke="#f29a7a" stroke-width="1.2"/>
<circle cx="140.68" cy="615.26" r="4.75" fill="#fff" stroke="#f29a7a" stroke-width="1.2"/>
<circle cx="141.33" cy="615.65" r="4.75" fill="#fff" stroke="#f29a7a" stroke-width="1.2"/>
<circle cx="141.99" cy="615.75" r="4.75" fill="#fff" stroke="#f29a7a" stroke-width="1.2"/>
<circle cx="142.64" cy="615.51" r="4.75" fill="#fff" stroke="#f29a7a" stroke-width="1.2"/>
<circle cx="143.29" cy="615.47" r="4.75" fill="#fff" stroke="#f29a7a" stroke-width="1.2"/>
<circle cx="143.95" cy="615.63" r="4.75" fill="#fff" stroke="#f29a7a" stroke-width="1.2"/>
<circle cx="144.60" cy="615.31" r="4.75" fill="#fff" stroke="#f29a7a" stroke-width="1.2"/>
<circle cx="145.25" cy="615.36" r="4.75" fill="#fff" stroke="#f29a7a" stroke-width="1.2"/>
<circle cx="145.91" cy="615.32" r="4.75" fill="#fff" stroke="#f29a7a" stroke-width="1.2"/>
<circle cx="146.56" cy="615.55" r="4.75" fill="#fff" stroke="#f29a7a" stroke-width="1.2"/>
<circle cx="147.21" cy="615.39" r="4.75" fill="#fff" stroke="#f29a7a" stroke-width="1.2"/>
<circle cx="147.87" cy="615.34" r="4.75" fill="#fff" stroke="#f29a7a" stroke-width="1.2"/>
<circle cx="148.52" cy="615.61" r="4.75" fill="#fff" stroke="#f29a7a" stroke-width="1.2"/>
</g>
<g clip-path="url(#clipe)">
<polyline points="42.65,514.92 43.31,514.46 43.96,514.74 44.61,514.54 45.27,514.85 45.92,514.66 46.57,514.44 47.23,514.40 47.88,514.27 48.53,514.59 49.19,514.52 49.84,514.37 50.50,514.50 51.15,514.48 51.80,514.79 52.46,514.35 53.11,514.94 53.76,514.59 54.42,514.67 55.07,514.58 55.72,514.83 56.38,514.83 57.03,514.64 57.68,514.59 58.34,514.75 58.99,514.85 59.64,514.53 60.30,514.76 60.95,514.92 61.61,514.58 62.26,514.41 62.91,514.41 63.57,514.75 64.22,514.72 64.87,514.92 65.53,514.85 66.18,514.42 66.83,514.38 67.49,514.43 68.14,514.38 68.79,514.74 69.45,514.85 70.10,514.88 70.75,514.43 71.41,514.86 72.06,514.47 72.71,514.55 73.37,514.76 74.02,514.31 74.67,514.31 75.33,514.83 75.98,514.45 76.64,514.50 77.29,514.66 77.94,514.72 78.60,514.25 79.25,514.48 79.90,514.56 80.56,514.59 81.21,514.40 81.86,514.66 82.52,514.92 83.17,514.52 83.82,514.63 84.48,514.33 85.13,514.44 85.78,514.72 86.44,514.33 87.09,514.87 87.75,514.89 88.40,514.32 89.05,514.91 89.71,514.51 90.36,514.79 91.01,514.78 91.67,514.46 92.32,514.72 92.97,514.71 93.63,514.81 94.28,514.44 94.93,514.78 95.59,514.92 96.24,514.72 96.89,514.63 97.55,514.33 98.20,514.60 98.85,514.50 99.51,514.75 100.16,514.72 100.81,514.65 101.47,514.38 102.12,514.70 102.78,514.69 103.43,514.38 104.08,514.87 104.74,514.71 105.39,514.34 106.04,514.90 106.70,514.35 107.35,514.48 108.00,514.75 108.66,514.67 109.31,514.64 109.96,514.70 110.62,514.57 111.27,514.47 111.92,514.37 112.58,514.30 113.23,514.75 113.88,514.78 114.54,514.63 115.19,514.77 115.85,514.50 116.50,514.44 117.15,514.52 117.81,514.86 118.46,514.28 119.11,514.60 119.77,514.42 120.42,514.79 121.07,514.50 121.73,514.48 122.38,514.53 123.03,514.63 123.69,514.79 124.34,514.50 124.99,514.84 125.65,514.33 126.30,514.44 126.95,514.32 127.61,514.33 128.26,514.80 128.92,514.76 129.57,514.38 130.22,514.38 130.88,514.54 131.53,514.77 132.18,514.82 132.84,514.77 133.49,514.66 134.14,514.35 134.80,514.53 135.45,514.39 136.10,514.62 136.76,514.65 137.41,514.39 138.06,514.43 138.72,514.80 139.37,514.27 140.02,514.81 140.68,514.87 141.33,514.91 141.99,514.52 142.64,514.64 143.29,514.66 143.95,514.69 144.60,514.93 145.25,514.73 145.91,514.46 146.56,514.85 147.21,514.59 147.87,514.67 148.52,514.76 149.17,514.25 149.83,514.79 150.48,514.71 151.13,514.59 151.79,514.62 152.44,514.57 153.09,514.39 153.75,514.62 154.40,514.28 155.06,514.60 155.71,514.70 156.36,514.56 157.02,514.65 157.67,514.92 158.32,514.87 158.98,514.34 159.63,514.80 160.28,514.69 160.94,514.29 161.59,514.50 162.24,514.41 162.90,514.30 163.55,514.63 164.20,514.90 164.86,514.48 165.51,514.86 166.16,514.74 166.82,514.34 167.47,514.85 168.13,514.67 168.78,514.90 169.43,514.75 170.09,514.77 170.74,514.49 171.39,514.81 172.05,514.90 172.70,514.85 173.35,514.56 174.01,514.78 174.66,514.59 175.31,514.33 175.97,514.28 176.62,514.30 177.27,514.39 177.93,514.36 178.58,514.60 179.23,514.74 179.89,514.63 180.54,514.55 181.20,514.70 181.85,522.00 182.50,514.58 183.16,514.78 183.81,514.53 184.46,526.80 185.12,514.88 185.77,514.75 186.42,514.51 187.08,514.51 187.73,514.62 188.38,514.67 189.04,514.41 189.69,514.25 190.34,514.40 191.00,514.80 191.65,514.35 192.31,514.57 192.96,514.39 193.61,514.40 194.27,514.37 194.92,514.53 195.57,514.37 196.23,514.27 196.88,514.33 197.53,514.37 198.19,514.59 198.84,514.29 199.49,514.27 200.15,514.56 200.80,514.54 201.45,514.74 202.11,514.29 202.76,514.53 203.41,514.53 204.07,522.90 204.72,514.93 205.38,514.40 206.03,514.32 206.68,514.58 207.34,514.37 207.99,514.69 208.64,514.49 209.30,514.34 209.95,514.29 210.60,514.76 211.26,514.44 211.91,514.80 212.56,514.58 213.22,514.90 213.87,514.46 214.52,514.42 215.18,514.44 215.83,608.20 216.48,615.69 217.14,615.58 217.79,615.41 218.44,615.26 219.10,615.61 219.75,615.78 220.41,615.56 221.06,615.20 221.71,615.22 222.37,615.25" fill="none" stroke="#4a0aa0" stroke-width="1.6"/>
<circle cx="42.65" cy="514.92" r="4.75" fill="#4a0aa0" stroke="#4a0aa0" stroke-width="1.2"/>
<circle cx="43.31" cy="514.46" r="4.75" fill="#4a0aa0" stroke="#4a0aa0" stroke-width="1.2"/>
<circle cx="43.96" cy="514.74" r="4.75" fill="#4a0aa0" stroke="#4a0aa0" stroke-width="1.2"/>
<circle cx="44.61" cy="514.54" r="4.75" fill="#4a0aa0" stroke="#4a0aa0" stroke-width="1.2"/>
<circle cx="45.27" cy="514.85" r="4.75" fill="#4a0aa0" stroke="#4a0aa0" stroke-width="1.2"/>
<circle cx="45.92" cy="514.66" r="4.75" fill="#4a0aa0" stroke="#4a0aa0" stroke-width="1.2"/>
<circle cx="46.57" cy="514.44" r="4.75" fill="#4a0aa0" stroke="#4a0aa0" stroke-width="1.2"/>
<circle cx="47.23" cy="514.40" r="4.75" fill="#4a0aa0" stroke="#4a0aa0" stroke-width="1.2"/>
<circle cx="47.88" cy="514.27" r="4.75" fill="#4a0aa0" stroke="#4a0aa0" stroke-width="1.2"/>
<circle cx="48.53" cy="514.59" r="4.75" fill="#4a0aa0" stroke="#4a0aa0" stroke-width="1.2"/>
<circle cx="49.19" cy="514.52" r="4.75" fill="#4a0aa0" stroke="#4a0aa0" stroke-width="1.2"/>
<circle cx="49.84" cy="514.37" r="4.75" fill="#4a0aa0" stroke="#4a0aa0" stroke-width="1.2"/>
<circle cx="50.50" cy="514.50" r="4.75" fill="#4a0aa0" stroke="#4a0aa0" stroke-width="1.2"/>
<circle cx="51.15" cy="514.48" r="4.75" fill="#4a0aa0" stroke="#4a0aa0" stroke-width="1.2"/>
<circle cx="51.80" cy="514.79" r="4.75" fill="#4a0aa0" stroke="#4a0aa0" stroke-width="1.2"/>
<circle cx="52.46" cy="514.35" r="4.75" fill="#4a0aa0" stroke="#4a0aa0" stroke-width="1.2"/>
<circle cx="53.11" cy="514.94" r="4.75" fill="#4a0aa0" stroke="#4a0aa0" stroke-width="1.2"/>
<circle cx="53.76" cy="514.59" r="4.75" fill="#4a0aa0" stroke="#4a0aa0" stroke-width="1.2"/>
<circle cx="54.42" cy="514.67" r="4.75" fill="#4a0aa0" stroke="#4a0aa0" stroke-width="1.2"/>
<circle cx="55.07" cy="514.58" r="4.75" fill="#4a0aa0" stroke="#4a0aa0" stroke-width="1.2"/>
<circle cx="55.72" cy="514.83" r="4.75" fill="#4a0aa0" stroke="#4a0aa0" stroke-width="1.2"/>
<circle cx="56.38" cy="514.83" r="4.75" fill="#4a0aa0" stroke="#4a0aa0" stroke-width="1.2"/>
<circle cx="57.03" cy="514.64" r="4.75" fill="#4a0aa0" stroke="#4a0aa0" stroke-width="1.2"/>
<circle cx="57.68" cy="514.59" r="4.75" fill="#4a0aa0" stroke="#4a0aa0" stroke-width="1.2"/>
<circle cx="58.34" cy="514.75" r="4.75" fill="#4a0aa0" stroke="#4a0aa0" stroke-width="1.2"/>
<circle cx="58.99" cy="514.85" r="4.75" fill="#4a0aa0" stroke="#4a0aa0" stroke-width="1.2"/>
<circle cx="59.64" cy="514.53" r="4.75" fill="#4a0aa0" stroke="#4a0aa0" stroke-width="1.2"/>
<circle cx="60.30" cy="514.76" r="4.75" fill="#4a0aa0" stroke="#4a0aa0" stroke-width="1.2"/>
<circle cx="60.95" cy="514.92" r="4.75" fill="#4a0aa0" stroke="#4a0aa0" stroke-width="1.2"/>
<circle cx="61.61" cy="514.58" r="4.75" fill="#4a0aa0" stroke="#4a0aa0" stroke-width="1.2"/>
<circle cx="62.26" cy="514.41" r="4.75" fill="#4a0aa0" stroke="#4a0aa0" stroke-width="1.2"/>
<circle cx="62.91" cy="514.41" r="4.75" fill="#4a0aa0" stroke="#4a0aa0" stroke-width="1.2"/>
<circle cx="63.57" cy="514.75" r="4.75" fill="#4a0aa0" stroke="#4a0aa0" stroke-width="1.2"/>
<circle cx="64.22" cy="514.72" r="4.75" fill="#4a0aa0" stroke="#4a0aa0" stroke-width="1.2"/>
<circle cx="64.87" cy="514.92" r="4.75" fill="#4a0aa0" stroke="#4a0aa0" stroke-width="1.2"/>
<circle cx="65.53" cy="514.85" r="4.75" fill="#4a0aa0" stroke="#4a0aa0" stroke-width="1.2"/>
<circle cx="66.18" cy="514.42" r="4.75" fill="#4a0aa0" stroke="#4a0aa0" stroke-width="1.2"/>
<circle cx="66.83" cy="514.38" r="4.75" fill="#4a0aa0" stroke="#4a0aa0" stroke-width="1.2"/>
<circle cx="67.49" cy="514.43" r="4.75" fill="#4a0aa0" stroke="#4a0aa0" stroke-width="1.2"/>
<circle cx="68.14" cy="514.38" r="4.75" fill="#4a0aa0" stroke="#4a0aa0" stroke-width="1.2"/>
<circle cx="68.79" cy="514.74" r="4.75" fill="#4a0aa0" stroke="#4a0aa0" stroke-width="1.2"/>
<circle cx="69.45" cy="514.85" r="4.75" fill="#4a0aa0" stroke="#4a0aa0" stroke-width="1.2"/>
<circle cx="70.10" cy="514.88" r="4.75" fill="#4a0aa0" stroke="#4a0aa0" stroke-width="1.2"/>
<circle cx="70.75" cy="514.43" r="4.75" fill="#4a0aa0" stroke="#4a0aa0" stroke-width="1.2"/>
<circle cx="71.41" cy="514.86" r="4.75" fill="#4a0aa0" stroke="#4a0aa0" stroke-width="1.2"/>
<circle cx="72.06" cy="514.47" r="4.75" fill="#4a0aa0" stroke="#4a0aa0" stroke-width="1.2"/>
<circle cx="72.71" cy="514.55" r="4.75" fill="#4a0aa0" stroke="#4a0aa0" stroke-width="1.2"/>
<circle cx="73.37" cy="514.76" r="4.75" fill="#4a0aa0" stroke="#4a0aa0" stroke-width="1.2"/>
<circle cx="74.02" cy="514.31" r="4.75" fill="#4a0aa0" stroke="#4a0aa0" stroke-width="1.2"/>
<circle cx="74.67" cy="514.31" r="4.75" fill="#4a0aa0" stroke="#4a0aa0" stroke-width="1.2"/>
<circle cx="75.33" cy="514.83" r="4.75" fill="#4a0aa0" stroke="#4a0aa0" stroke-width="1.2"/>
<circle cx="75.98" cy="514.45" r="4.75" fill="#4a0aa0" stroke="#4a0aa0" stroke-width="1.2"/>
<circle cx="76.64" cy="514.50" r="4.75" fill="#4a0aa0" stroke="#4a0aa0" stroke-width="1.2"/>
<circle cx="77.29" cy="514.66" r="4.75" fill="#4a0aa0" stroke="#4a0aa0" stroke-width="1.2"/>
<circle cx="77.94" cy="514.72" r="4.75" fill="#4a0aa0" stroke="#4a0aa0" stroke-width="1.2"/>
<circle cx="78.60" cy="514.25" r="4.75" fill="#4a0aa0" stroke="#4a0aa0" stroke-width="1.2"/>
<circle cx="79.25" cy="514.48" r="4.75" fill="#4a0aa0" stroke="#4a0aa0" stroke-width="1.2"/>
<circle cx="79.90" cy="514.56" r="4.75" fill="#4a0aa0" stroke="#4a0aa0" stroke-width="1.2"/>
<circle cx="80.56" cy="514.59" r="4.75" fill="#4a0aa0" stroke="#4a0aa0" stroke-width="1.2"/>
<circle cx="81.21" cy="514.40" r="4.75" fill="#4a0aa0" stroke="#4a0aa0" stroke-width="1.2"/>
<circle cx="81.86" cy="514.66" r="4.75" fill="#4a0aa0" stroke="#4a0aa0" stroke-width="1.2"/>
<circle cx="82.52" cy="514.92" r="4.75" fill="#4a0aa0" stroke="#4a0aa0" stroke-width="1.2"/>
<circle cx="83.17" cy="514.52" r="4.75" fill="#4a0aa0" stroke="#4a0aa0" stroke-width="1.2"/>
<circle cx="83.82" cy="514.63" r="4.75" fill="#4a0aa0" stroke="#4a0aa0" stroke-width="1.2"/>
<circle cx="84.48" cy="514.33" r="4.75" fill="#4a0aa0" stroke="#4a0aa0" stroke-width="1.2"/>
<circle cx="85.13" cy="514.44" r="4.75" fill="#4a0aa0" stroke="#4a0aa0" stroke-width="1.2"/>
<circle cx="85.78" cy="514.72" r="4.75" fill="#4a0aa0" stroke="#4a0aa0" stroke-width="1.2"/>
<circle cx="86.44" cy="514.33" r="4.75" fill="#4a0aa0" stroke="#4a0aa0" stroke-width="1.2"/>
<circle cx="87.09" cy="514.87" r="4.75" fill="#4a0aa0" stroke="#4a0aa0" stroke-width="1.2"/>
<circle cx="87.75" cy="514.89" r="4.75" fill="#4a0aa0" stroke="#4a0aa0" stroke-width="1.2"/>
<circle cx="88.40" cy="514.32" r="4.75" fill="#4a0aa0" stroke="#4a0aa0" stroke-width="1.2"/>
<circle cx="89.05" cy="514.91" r="4.75" fill="#4a0aa0" stroke="#4a0aa0" stroke-width="1.2"/>
<circle cx="89.71" cy="514.51" r="4.75" fill="#4a0aa0" stroke="#4a0aa0" stroke-width="1.2"/>
<circle cx="90.36" cy="514.79" r="4.75" fill="#4a0aa0" stroke="#4a0aa0" stroke-width="1.2"/>
<circle cx="91.01" cy="514.78" r="4.75" fill="#4a0aa0" stroke="#4a0aa0" stroke-width="1.2"/>
<circle cx="91.67" cy="514.46" r="4.75" fill="#4a0aa0" stroke="#4a0aa0" stroke-width="1.2"/>
<circle cx="92.32" cy="514.72" r="4.75" fill="#4a0aa0" stroke="#4a0aa0" stroke-width="1.2"/>
<circle cx="92.97" cy="514.71" r="4.75" fill="#4a0aa0" stroke="#4a0aa0" stroke-width="1.2"/>
<circle cx="93.63" cy="514.81" r="4.75" fill="#4a0aa0" stroke="#4a0aa0" stroke-width="1.2"/>
<circle cx="94.28" cy="514.44" r="4.75" fill="#4a0aa0" stroke="#4a0aa0" stroke-width="1.2"/>
<circle cx="94.93" cy="514.78" r="4.75" fill="#4a0aa0" stroke="#4a0aa0" stroke-width="1.2"/>
<circle cx="95.59" cy="514.92" r="4.75" fill="#4a0aa0" stroke="#4a0aa0" stroke-width="1.2"/>
<circle cx="96.24" cy="514.72" r="4.75" fill="#4a0aa0" stroke="#4a0aa0" stroke-width="1.2"/>
<circle cx="96.89" cy="514.63" r="4.75" fill="#4a0aa0" stroke="#4a0aa0" stroke-width="1.2"/>
<circle cx="97.55" cy="514.33" r="4.75" fill="#4a0aa0" stroke="#4a0aa0" stroke-width="1.2"/>
<circle cx="98.20" cy="514.60" r="4.75" fill="#4a0aa0" stroke="#4a0aa0" stroke-width="1.2"/>
<circle cx="98.85" cy="514.50" r="4.75" fill="#4a0aa0" stroke="#4a0aa0" stroke-width="1.2"/>
<circle cx="99.51" cy="514.75" r="4.75" fill="#4a0aa0" stroke="#4a0aa0" stroke-width="1.2"/>
<circle cx="100.16" cy="514.72" r="4.75" fill="#4a0aa0" stroke="#4a0aa0" stroke-width="1.2"/>
<circle cx="100.81" cy="514.65" r="4.75" fill="#4a0aa0" stroke="#4a0aa0" stroke-width="1.2"/>
<circle cx="101.47" cy="514.38" r="4.75" fill="#4a0aa0" stroke="#4a0aa0" stroke-width="1.2"/>
<circle cx="102.12" cy="514.70" r="4.75" fill="#4a0aa0" stroke="#4a0aa0" stroke-width="1.2"/>
<circle cx="102.78" cy="514.69" r="4.75" fill="#4a0aa0" stroke="#4a0aa0" stroke-width="1.2"/>
<circle cx="103.43" cy="514.38" r="4.75" fill="#4a0aa0" stroke="#4a0aa0" stroke-width="1.2"/>
<circle cx="104.08" cy="514.87" r="4.75" fill="#4a0aa0" stroke="#4a0aa0" stroke-width="1.2"/>
<circle cx="104.74" cy="514.71" r="4.75" fill="#4a0aa0" stroke="#4a0aa0" stroke-width="1.2"/>
<circle cx="105.39" cy="514.34" r="4.75" fill="#4a0aa0" stroke="#4a0aa0" stroke-width="1.2"/>
<circle cx="106.04" cy="514.90" r="4.75" fill="#4a0aa0" stroke="#4a0aa0" stroke-width="1.2"/>
<circle cx="106.70" cy="514.35" r="4.75" fill="#4a0aa0" stroke="#4a0aa0" stroke-width="1.2"/>
<circle cx="107.35" cy="514.48" r="4.75" fill="#4a0aa0" stroke="#4a0aa0" stroke-width="1.2"/>
<circle cx="108.00" cy="514.75" r="4.75" fill="#4a0aa0" stroke="#4a0aa0" stroke-width="1.2"/>
<circle cx="108.66" cy="514.67" r="4.75" fill="#4a0aa0" stroke="#4a0aa0" stroke-width="1.2"/>
<circle cx="109.31" cy="514.64" r="4.75" fill="#4a0aa0" stroke="#4a0aa0" stroke-width="1.2"/>
<circle cx="109.96" cy="514.70" r="4.75" fill="#4a0aa0" stroke="#4a0aa0" stroke-width="1.2"/>
<circle cx="110.62" cy="514.57" r="4.75" fill="#4a0aa0" stroke="#4a0aa0" stroke-width="1.2"/>
<circle cx="111.27" cy="514.47" r="4.75" fill="#4a0aa0" stroke="#4a0aa0" stroke-width="1.2"/>
<circle cx="111.92" cy="514.37" r="4.75" fill="#4a0aa0" stroke="#4a0aa0" stroke-width="1.2"/>
<circle cx="112.58" cy="514.30" r="4.75" fill="#4a0aa0" stroke="#4a0aa0" stroke-width="1.2"/>
<circle cx="113.23" cy="514.75" r="4.75" fill="#4a0aa0" stroke="#4a0aa0" stroke-width="1.2"/>
<circle cx="113.88" cy="514.78" r="4.75" fill="#4a0aa0" stroke="#4a0aa0" stroke-width="1.2"/>
<circle cx="114.54" cy="514.63" r="4.75" fill="#4a0aa0" stroke="#4a0aa0" stroke-width="1.2"/>
<circle cx="115.19" cy="514.77" r="4.75" fill="#4a0aa0" stroke="#4a0aa0" stroke-width="1.2"/>
<circle cx="115.85" cy="514.50" r="4.75" fill="#4a0aa0" stroke="#4a0aa0" stroke-width="1.2"/>
<circle cx="116.50" cy="514.44" r="4.75" fill="#4a0aa0" stroke="#4a0aa0" stroke-width="1.2"/>
<circle cx="117.15" cy="514.52" r="4.75" fill="#4a0aa0" stroke="#4a0aa0" stroke-width="1.2"/>
<circle cx="117.81" cy="514.86" r="4.75" fill="#4a0aa0" stroke="#4a0aa0" stroke-width="1.2"/>
<circle cx="118.46" cy="514.28" r="4.75" fill="#4a0aa0" stroke="#4a0aa0" stroke-width="1.2"/>
<circle cx="119.11" cy="514.60" r="4.75" fill="#4a0aa0" stroke="#4a0aa0" stroke-width="1.2"/>
<circle cx="119.77" cy="514.42" r="4.75" fill="#4a0aa0" stroke="#4a0aa0" stroke-width="1.2"/>
<circle cx="120.42" cy="514.79" r="4.75" fill="#4a0aa0" stroke="#4a0aa0" stroke-width="1.2"/>
<circle cx="121.07" cy="514.50" r="4.75" fill="#4a0aa0" stroke="#4a0aa0" stroke-width="1.2"/>
<circle cx="121.73" cy="514.48" r="4.75" fill="#4a0aa0" stroke="#4a0aa0" stroke-width="1.2"/>
<circle cx="122.38" cy="514.53" r="4.75" fill="#4a0aa0" stroke="#4a0aa0" stroke-width="1.2"/>
<circle cx="123.03" cy="514.63" r="4.75" fill="#4a0aa0" stroke="#4a0aa0" stroke-width="1.2"/>
<circle cx="123.69" cy="514.79" r="4.75" fill="#4a0aa0" stroke="#4a0aa0" stroke-width="1.2"/>
<circle cx="124.34" cy="514.50" r="4.75" fill="#4a0aa0" stroke="#4a0aa0" stroke-width="1.2"/>
<circle cx="124.99" cy="514.84" r="4.75" fill="#4a0aa0" stroke="#4a0aa0" stroke-width="1.2"/>
<circle cx="125.65" cy="514.33" r="4.75" fill="#4a0aa0" stroke="#4a0aa0" stroke-width="1.2"/>
<circle cx="126.30" cy="514.44" r="4.75" fill="#4a0aa0" stroke="#4a0aa0" stroke-width="1.2"/>
<circle cx="126.95" cy="514.32" r="4.75" fill="#4a0aa0" stroke="#4a0aa0" stroke-width="1.2"/>
<circle cx="127.61" cy="514.33" r="4.75" fill="#4a0aa0" stroke="#4a0aa0" stroke-width="1.2"/>
<circle cx="128.26" cy="514.80" r="4.75" fill="#4a0aa0" stroke="#4a0aa0" stroke-width="1.2"/>
<circle cx="128.92" cy="514.76" r="4.75" fill="#4a0aa0" stroke="#4a0aa0" stroke-width="1.2"/>
<circle cx="129.57" cy="514.38" r="4.75" fill="#4a0aa0" stroke="#4a0aa0" stroke-width="1.2"/>
<circle cx="130.22" cy="514.38" r="4.75" fill="#4a0aa0" stroke="#4a0aa0" stroke-width="1.2"/>
<circle cx="130.88" cy="514.54" r="4.75" fill="#4a0aa0" stroke="#4a0aa0" stroke-width="1.2"/>
<circle cx="131.53" cy="514.77" r="4.75" fill="#4a0aa0" stroke="#4a0aa0" stroke-width="1.2"/>
<circle cx="132.18" cy="514.82" r="4.75" fill="#4a0aa0" stroke="#4a0aa0" stroke-width="1.2"/>
<circle cx="132.84" cy="514.77" r="4.75" fill="#4a0aa0" stroke="#4a0aa0" stroke-width="1.2"/>
<circle cx="133.49" cy="514.66" r="4.75" fill="#4a0aa0" stroke="#4a0aa0" stroke-width="1.2"/>
<circle cx="134.14" cy="514.35" r="4.75" fill="#4a0aa0" stroke="#4a0aa0" stroke-width="1.2"/>
<circle cx="134.80" cy="514.53" r="4.75" fill="#4a0aa0" stroke="#4a0aa0" stroke-width="1.2"/>
<circle cx="135.45" cy="514.39" r="4.75" fill="#4a0aa0" stroke="#4a0aa0" stroke-width="1.2"/>
<circle cx="136.10" cy="514.62" r="4.75" fill="#4a0aa0" stroke="#4a0aa0" stroke-width="1.2"/>
<circle cx="136.76" cy="514.65" r="4.75" fill="#4a0aa0" stroke="#4a0aa0" stroke-width="1.2"/>
<circle cx="137.41" cy="514.39" r="4.75" fill="#4a0aa0" stroke="#4a0aa0" stroke-width="1.2"/>
<circle cx="138.06" cy="514.43" r="4.75" fill="#4a0aa0" stroke="#4a0aa0" stroke-width="1.2"/>
<circle cx="138.72" cy="514.80" r="4.75" fill="#4a0aa0" stroke="#4a0aa0" stroke-width="1.2"/>
<circle cx="139.37" cy="514.27" r="4.75" fill="#4a0aa0" stroke="#4a0aa0" stroke-width="1.2"/>
<circle cx="140.02" cy="514.81" r="4.75" fill="#4a0aa0" stroke="#4a0aa0" stroke-width="1.2"/>
<circle cx="140.68" cy="514.87" r="4.75" fill="#4a0aa0" stroke="#4a0aa0" stroke-width="1.2"/>
<circle cx="141.33" cy="514.91" r="4.75" fill="#4a0aa0" stroke="#4a0aa0" stroke-width="1.2"/>
<circle cx="141.99" cy="514.52" r="4.75" fill="#4a0aa0" stroke="#4a0aa0" stroke-width="1.2"/>
<circle cx="142.64" cy="514.64" r="4.75" fill="#4a0aa0" stroke="#4a0aa0" stroke-width="1.2"/>
<circle cx="143.29" cy="514.66" r="4.75" fill="#4a0aa0" stroke="#4a0aa0" stroke-width="1.2"/>
<circle cx="143.95" cy="514.69" r="4.75" fill="#4a0aa0" stroke="#4a0aa0" stroke-width="1.2"/>
<circle cx="144.60" cy="514.93" r="4.75" fill="#4a0aa0" stroke="#4a0aa0" stroke-width="1.2"/>
<circle cx="145.25" cy="514.73" r="4.75" fill="#4a0aa0" stroke="#4a0aa0" stroke-width="1.2"/>
<circle cx="145.91" cy="514.46" r="4.75" fill="#4a0aa0" stroke="#4a0aa0" stroke-width="1.2"/>
<circle cx="146.56" cy="514.85" r="4.75" fill="#4a0aa0" stroke="#4a0aa0" stroke-width="1.2"/>
<circle cx="147.21" cy="514.59" r="4.75" fill="#4a0aa0" stroke="#4a0aa0" stroke-width="1.2"/>
<circle cx="147.87" cy="514.67" r="4.75" fill="#4a0aa0" stroke="#4a0aa0" stroke-width="1.2"/>
<circle cx="148.52" cy="514.76" r="4.75" fill="#4a0aa0" stroke="#4a0aa0" stroke-width="1.2"/>
<circle cx="149.17" cy="514.25" r="4.75" fill="#4a0aa0" stroke="#4a0aa0" stroke-width="1.2"/>
<circle cx="149.83" cy="514.79" r="4.75" fill="#4a0aa0" stroke="#4a0aa0" stroke-width="1.2"/>
<circle cx="150.48" cy="514.71" r="4.75" fill="#4a0aa0" stroke="#4a0aa0" stroke-width="1.2"/>
<circle cx="151.13" cy="514.59" r="4.75" fill="#4a0aa0" stroke="#4a0aa0" stroke-width="1.2"/>
<circle cx="151.79" cy="514.62" r="4.75" fill="#4a0aa0" stroke="#4a0aa0" stroke-width="1.2"/>
<circle cx="152.44" cy="514.57" r="4.75" fill="#4a0aa0" stroke="#4a0aa0" stroke-width="1.2"/>
<circle cx="153.09" cy="514.39" r="4.75" fill="#4a0aa0" stroke="#4a0aa0" stroke-width="1.2"/>
<circle cx="153.75" cy="514.62" r="4.75" fill="#4a0aa0" stroke="#4a0aa0" stroke-width="1.2"/>
<circle cx="154.40" cy="514.28" r="4.75" fill="#4a0aa0" stroke="#4a0aa0" stroke-width="1.2"/>
<circle cx="155.06" cy="514.60" r="4.75" fill="#4a0aa0" stroke="#4a0aa0" stroke-width="1.2"/>
<circle cx="155.71" cy="514.70" r="4.75" fill="#4a0aa0" stroke="#4a0aa0" stroke-width="1.2"/>
<circle cx="156.36" cy="514.56" r="4.75" fill="#4a0aa0" stroke="#4a0aa0" stroke-width="1.2"/>
<circle cx="157.02" cy="514.65" r="4.75" fill="#4a0aa0" stroke="#4a0aa0" stroke-width="1.2"/>
<circle cx="157.67" cy="514.92" r="4.75" fill="#4a0aa0" stroke="#4a0aa0" stroke-width="1.2"/>
<circle cx="158.32" cy="514.87" r="4.75" fill="#4a0aa0" stroke="#4a0aa0" stroke-width="1.2"/>
<circle cx="158.98" cy="514.34" r="4.75" fill="#4a0aa0" stroke="#4a0aa0" stroke-width="1.2"/>
<circle cx="159.63" cy="514.80" r="4.75" fill="#4a0aa0" stroke="#4a0aa0" stroke-width="1.2"/>
<circle cx="160.28" cy="514.69" r="4.75" fill="#4a0aa0" stroke="#4a0aa0" stroke-width="1.2"/>
<circle cx="160.94" cy="514.29" r="4.75" fill="#4a0aa0" stroke="#4a0aa0" stroke-width="1.2"/>
<circle cx="161.59" cy="514.50" r="4.75" fill="#4a0aa0" stroke="#4a0aa0" stroke-width="1.2"/>
<circle cx="162.24" cy="514.41" r="4.75" fill="#4a0aa0" stroke="#4a0aa0" stroke-width="1.2"/>
<circle cx="162.90" cy="514.30" r="4.75" fill="#4a0aa0" stroke="#4a0aa0" stroke-width="1.2"/>
<circle cx="163.55" cy="514.63" r="4.75" fill="#4a0aa0" stroke="#4a0aa0" stroke-width="1.2"/>
<circle cx="164.20" cy="514.90" r="4.75" fill="#4a0aa0" stroke="#4a0aa0" stroke-width="1.2"/>
<circle cx="164.86" cy="514.48" r="4.75" fill="#4a0aa0" stroke="#4a0aa0" stroke-width="1.2"/>
<circle cx="165.51" cy="514.86" r="4.75" fill="#4a0aa0" stroke="#4a0aa0" stroke-width="1.2"/>
<circle cx="166.16" cy="514.74" r="4.75" fill="#4a0aa0" stroke="#4a0aa0" stroke-width="1.2"/>
<circle cx="166.82" cy="514.34" r="4.75" fill="#4a0aa0" stroke="#4a0aa0" stroke-width="1.2"/>
<circle cx="167.47" cy="514.85" r="4.75" fill="#4a0aa0" stroke="#4a0aa0" stroke-width="1.2"/>
<circle cx="168.13" cy="514.67" r="4.75" fill="#4a0aa0" stroke="#4a0aa0" stroke-width="1.2"/>
<circle cx="168.78" cy="514.90" r="4.75" fill="#4a0aa0" stroke="#4a0aa0" stroke-width="1.2"/>
<circle cx="169.43" cy="514.75" r="4.75" fill="#4a0aa0" stroke="#4a0aa0" stroke-width="1.2"/>
<circle cx="170.09" cy="514.77" r="4.75" fill="#4a0aa0" stroke="#4a0aa0" stroke-width="1.2"/>
<circle cx="170.74" cy="514.49" r="4.75" fill="#4a0aa0" stroke="#4a0aa0" stroke-width="1.2"/>
<circle cx="171.39" cy="514.81" r="4.75" fill="#4a0aa0" stroke="#4a0aa0" stroke-width="1.2"/>
<circle cx="172.05" cy="514.90" r="4.75" fill="#4a0aa0" stroke="#4a0aa0" stroke-width="1.2"/>
<circle cx="172.70" cy="514.85" r="4.75" fill="#4a0aa0" stroke="#4a0aa0" stroke-width="1.2"/>
<circle cx="173.35" cy="514.56" r="4.75" fill="#4a0aa0" stroke="#4a0aa0" stroke-width="1.2"/>
<circle cx="174.01" cy="514.78" r="4.75" fill="#4a0aa0" stroke="#4a0aa0" stroke-width="1.2"/>
<circle cx="174.66" cy="514.59" r="4.75" fill="#4a0aa0" stroke="#4a0aa0" stroke-width="1.2"/>
<circle cx="175.31" cy="514.33" r="4.75" fill="#4a0aa0" stroke="#4a0aa0" stroke-width="1.2"/>
<circle cx="175.97" cy="514.28" r="4.75" fill="#4a0aa0" stroke="#4a0aa0" stroke-width="1.2"/>
<circle cx="176.62" cy="514.30" r="4.75" fill="#4a0aa0" stroke="#4a0aa0" stroke-width="1.2"/>
<circle cx="177.27" cy="514.39" r="4.75" fill="#4a0aa0" stroke="#4a0aa0" stroke-width="1.2"/>
<circle cx="177.93" cy="514.36" r="4.75" fill="#4a0aa0" stroke="#4a0aa0" stroke-width="1.2"/>
<circle cx="178.58" cy="514.60" r="4.75" fill="#4a0aa0" stroke="#4a0aa0" stroke-width="1.2"/>
<circle cx="179.23" cy="514.74" r="4.75" fill="#4a0aa0" stroke="#4a0aa0" stroke-width="1.2"/>
<circle cx="179.89" cy="514.63" r="4.75" fill="#4a0aa0" stroke="#4a0aa0" stroke-width="1.2"/>
<circle cx="180.54" cy="514.55" r="4.75" fill="#4a0aa0" stroke="#4a0aa0" stroke-width="1.2"/>
<circle cx="181.20" cy="514.70" r="4.75" fill="#4a0aa0" stroke="#4a0aa0" stroke-width="1.2"/>
<circle cx="181.85" cy="522.00" r="4.75" fill="#4a0aa0" stroke="#4a0aa0" stroke-width="1.2"/>
<circle cx="182.50" cy="514.58" r="4.75" fill="#4a0aa0" stroke="#4a0aa0" stroke-width="1.2"/>
<circle cx="183.16" cy="514.78" r="4.75" fill="#4a0aa0" stroke="#4a0aa0" stroke-width="1.2"/>
<circle cx="183.81" cy="514.53" r="4.75" fill="#4a0aa0" stroke="#4a0aa0" stroke-width="1.2"/>
<circle cx="184.46" cy="526.80" r="4.75" fill="#4a0aa0" stroke="#4a0aa0" stroke-width="1.2"/>
<circle cx="185.12" cy="514.88" r="4.75" fill="#4a0aa0" stroke="#4a0aa0" stroke-width="1.2"/>
<circle cx="185.77" cy="514.75" r="4.75" fill="#4a0aa0" stroke="#4a0aa0" stroke-width="1.2"/>
<circle cx="186.42" cy="514.51" r="4.75" fill="#4a0aa0" stroke="#4a0aa0" stroke-width="1.2"/>
<circle cx="187.08" cy="514.51" r="4.75" fill="#4a0aa0" stroke="#4a0aa0" stroke-width="1.2"/>
<circle cx="187.73" cy="514.62" r="4.75" fill="#4a0aa0" stroke="#4a0aa0" stroke-width="1.2"/>
<circle cx="188.38" cy="514.67" r="4.75" fill="#4a0aa0" stroke="#4a0aa0" stroke-width="1.2"/>
<circle cx="189.04" cy="514.41" r="4.75" fill="#4a0aa0" stroke="#4a0aa0" stroke-width="1.2"/>
<circle cx="189.69" cy="514.25" r="4.75" fill="#4a0aa0" stroke="#4a0aa0" stroke-width="1.2"/>
<circle cx="190.34" cy="514.40" r="4.75" fill="#4a0aa0" stroke="#4a0aa0" stroke-width="1.2"/>
<circle cx="191.00" cy="514.80" r="4.75" fill="#4a0aa0" stroke="#4a0aa0" stroke-width="1.2"/>
<circle cx="191.65" cy="514.35" r="4.75" fill="#4a0aa0" stroke="#4a0aa0" stroke-width="1.2"/>
<circle cx="192.31" cy="514.57" r="4.75" fill="#4a0aa0" stroke="#4a0aa0" stroke-width="1.2"/>
<circle cx="192.96" cy="514.39" r="4.75" fill="#4a0aa0" stroke="#4a0aa0" stroke-width="1.2"/>
<circle cx="193.61" cy="514.40" r="4.75" fill="#4a0aa0" stroke="#4a0aa0" stroke-width="1.2"/>
<circle cx="194.27" cy="514.37" r="4.75" fill="#4a0aa0" stroke="#4a0aa0" stroke-width="1.2"/>
<circle cx="194.92" cy="514.53" r="4.75" fill="#4a0aa0" stroke="#4a0aa0" stroke-width="1.2"/>
<circle cx="195.57" cy="514.37" r="4.75" fill="#4a0aa0" stroke="#4a0aa0" stroke-width="1.2"/>
<circle cx="196.23" cy="514.27" r="4.75" fill="#4a0aa0" stroke="#4a0aa0" stroke-width="1.2"/>
<circle cx="196.88" cy="514.33" r="4.75" fill="#4a0aa0" stroke="#4a0aa0" stroke-width="1.2"/>
<circle cx="197.53" cy="514.37" r="4.75" fill="#4a0aa0" stroke="#4a0aa0" stroke-width="1.2"/>
<circle cx="198.19" cy="514.59" r="4.75" fill="#4a0aa0" stroke="#4a0aa0" stroke-width="1.2"/>
<circle cx="198.84" cy="514.29" r="4.75" fill="#4a0aa0" stroke="#4a0aa0" stroke-width="1.2"/>
<circle cx="199.49" cy="514.27" r="4.75" fill="#4a0aa0" stroke="#4a0aa0" stroke-width="1.2"/>
<circle cx="200.15" cy="514.56" r="4.75" fill="#4a0aa0" stroke="#4a0aa0" stroke-width="1.2"/>
<circle cx="200.80" cy="514.54" r="4.75" fill="#4a0aa0" stroke="#4a0aa0" stroke-width="1.2"/>
<circle cx="201.45" cy="514.74" r="4.75" fill="#4a0aa0" stroke="#4a0aa0" stroke-width="1.2"/>
<circle cx="202.11" cy="514.29" r="4.75" fill="#4a0aa0" stroke="#4a0aa0" stroke-width="1.2"/>
<circle cx="202.76" cy="514.53" r="4.75" fill="#4a0aa0" stroke="#4a0aa0" stroke-width="1.2"/>
<circle cx="203.41" cy="514.53" r="4.75" fill="#4a0aa0" stroke="#4a0aa0" stroke-width="1.2"/>
<circle cx="204.07" cy="522.90" r="4.75" fill="#4a0aa0" stroke="#4a0aa0" stroke-width="1.2"/>
<circle cx="204.72" cy="514.93" r="4.75" fill="#4a0aa0" stroke="#4a0aa0" stroke-width="1.2"/>
<circle cx="205.38" cy="514.40" r="4.75" fill="#4a0aa0" stroke="#4a0aa0" stroke-width="1.2"/>
<circle cx="206.03" cy="514.32" r="4.75" fill="#4a0aa0" stroke="#4a0aa0" stroke-width="1.2"/>
<circle cx="206.68" cy="514.58" r="4.75" fill="#4a0aa0" stroke="#4a0aa0" stroke-width="1.2"/>
<circle cx="207.34" cy="514.37" r="4.75" fill="#4a0aa0" stroke="#4a0aa0" stroke-width="1.2"/>
<circle cx="207.99" cy="514.69" r="4.75" fill="#4a0aa0" stroke="#4a0aa0" stroke-width="1.2"/>
<circle cx="208.64" cy="514.49" r="4.75" fill="#4a0aa0" stroke="#4a0aa0" stroke-width="1.2"/>
<circle cx="209.30" cy="514.34" r="4.75" fill="#4a0aa0" stroke="#4a0aa0" stroke-width="1.2"/>
<circle cx="209.95" cy="514.29" r="4.75" fill="#4a0aa0" stroke="#4a0aa0" stroke-width="1.2"/>
<circle cx="210.60" cy="514.76" r="4.75" fill="#4a0aa0" stroke="#4a0aa0" stroke-width="1.2"/>
<circle cx="211.26" cy="514.44" r="4.75" fill="#4a0aa0" stroke="#4a0aa0" stroke-width="1.2"/>
<circle cx="211.91" cy="514.80" r="4.75" fill="#4a0aa0" stroke="#4a0aa0" stroke-width="1.2"/>
<circle cx="212.56" cy="514.58" r="4.75" fill="#4a0aa0" stroke="#4a0aa0" stroke-width="1.2"/>
<circle cx="213.22" cy="514.90" r="4.75" fill="#4a0aa0" stroke="#4a0aa0" stroke-width="1.2"/>
<circle cx="213.87" cy="514.46" r="4.75" fill="#4a0aa0" stroke="#4a0aa0" stroke-width="1.2"/>
<circle cx="214.52" cy="514.42" r="4.75" fill="#4a0aa0" stroke="#4a0aa0" stroke-width="1.2"/>
<circle cx="215.18" cy="514.44" r="4.75" fill="#4a0aa0" stroke="#4a0aa0" stroke-width="1.2"/>
<circle cx="215.83" cy="608.20" r="4.75" fill="#4a0aa0" stroke="#4a0aa0" stroke-width="1.2"/>
<circle cx="216.48" cy="615.69" r="4.75" fill="#4a0aa0" stroke="#4a0aa0" stroke-width="1.2"/>
<circle cx="217.14" cy="615.58" r="4.75" fill="#4a0aa0" stroke="#4a0aa0" stroke-width="1.2"/>
<circle cx="217.79" cy="615.41" r="4.75" fill="#4a0aa0" stroke="#4a0aa0" stroke-width="1.2"/>
<circle cx="218.44" cy="615.26" r="4.75" fill="#4a0aa0" stroke="#4a0aa0" stroke-width="1.2"/>
<circle cx="219.10" cy="615.61" r="4.75" fill="#4a0aa0" stroke="#4a0aa0" stroke-width="1.2"/>
<circle cx="219.75" cy="615.78" r="4.75" fill="#4a0aa0" stroke="#4a0aa0" stroke-width="1.2"/>
<circle cx="220.41" cy="615.56" r="4.75" fill="#4a0aa0" stroke="#4a0aa0" stroke-width="1.2"/>
<circle cx="221.06" cy="615.20" r="4.75" fill="#4a0aa0" stroke="#4a0aa0" stroke-width="1.2"/>
<circle cx="221.71" cy="615.22" r="4.75" fill="#4a0aa0" stroke="#4a0aa0" stroke-width="1.2"/>
<circle cx="222.37" cy="615.25" r="4.75" fill="#4a0aa0" stroke="#4a0aa0" stroke-width="1.2"/>
</g>
<g clip-path="url(#clipe)">
<polyline points="42.65,509.50 43.31,514.28 43.96,514.29 44.61,514.71 45.27,514.88 45.92,514.39 46.57,514.93 47.23,514.58 47.88,514.81 48.53,514.89 49.19,514.91 49.84,514.27 50.50,514.46 51.15,514.67 51.80,514.91 52.46,514.31 53.11,514.46 53.76,514.84 54.42,514.33 55.07,514.52 55.72,514.48 56.38,514.73 57.03,514.90 57.68,514.37 58.34,514.77 58.99,514.76 59.64,514.83 60.30,514.64 60.95,514.90 61.61,514.50 62.26,514.54 62.91,514.41 63.57,514.80 64.22,514.59 64.87,514.44 65.53,514.37 66.18,514.75 66.83,514.67 67.49,514.75 68.14,514.52 68.79,514.59 69.45,514.36 70.10,514.75 70.75,514.27 71.41,514.58 72.06,514.78 72.71,514.72 73.37,514.32 74.02,514.42 74.67,514.84 75.33,514.70 75.98,514.86 76.64,514.86 77.29,514.56 77.94,514.88 78.60,514.76 79.25,514.48 79.90,514.51 80.56,514.30 81.21,514.53 81.86,514.92 82.52,514.32 83.17,514.65 83.82,514.33 84.48,514.31 85.13,514.70 85.78,514.42 86.44,514.28 87.09,514.36 87.75,514.70 88.40,514.66 89.05,514.26 89.71,514.41 90.36,514.93 91.01,514.40 91.67,514.64 92.32,514.54 92.97,514.80 93.63,514.67 94.28,514.80 94.93,514.62 95.59,514.38 96.24,514.37 96.89,514.31 97.55,514.83 98.20,514.33 98.85,514.27 99.51,514.93 100.16,514.39 100.81,514.88 101.47,514.31 102.12,514.58 102.78,514.41 103.43,514.83 104.08,514.68 104.74,514.70 105.39,514.78 106.04,514.86 106.70,514.49 107.35,514.67 108.00,514.56 108.66,514.33 109.31,514.83 109.96,512.20 110.62,512.00 111.27,514.39 111.92,514.63 112.58,514.57 113.23,514.76 113.88,514.30 114.54,511.60 115.19,511.80 115.85,512.00 116.50,514.64 117.15,514.76 117.81,514.55 118.46,514.70 119.11,514.67 119.77,514.40 120.42,514.50 121.07,514.95 121.73,514.48 122.38,514.55 123.03,514.31 123.69,514.40 124.34,514.37 124.99,514.90 125.65,514.76 126.30,514.86 126.95,514.94 127.61,514.68 128.26,514.90 128.92,514.63 129.57,514.54 130.22,514.91 130.88,514.88 131.53,514.91 132.18,514.59 132.84,514.79 133.49,514.53 134.14,514.95 134.80,514.89 135.45,514.45 136.10,514.90 136.76,514.38 137.41,514.32 138.06,514.76 138.72,514.46 139.37,514.61 140.02,514.70 140.68,514.28 141.33,514.77 141.99,514.44 142.64,514.55 143.29,514.49 143.95,514.77 144.60,514.77 145.25,514.45 145.91,514.32 146.56,514.46 147.21,514.54 147.87,514.30 148.52,514.36 149.17,514.78 149.83,514.74 150.48,514.93 151.13,514.94 151.79,514.86 152.44,514.51 153.09,514.36 153.75,514.47 154.40,514.57 155.06,514.62 155.71,514.63 156.36,514.50 157.02,514.85 157.67,514.45 158.32,514.57 158.98,514.87 159.63,514.81 160.28,514.46 160.94,514.42 161.59,514.81 162.24,514.26 162.90,514.34 163.55,514.62 164.20,514.63 164.86,514.37 165.51,514.29 166.16,514.39 166.82,514.79 167.47,514.58 168.13,514.94 168.78,514.80 169.43,514.94 170.09,514.27 170.74,514.38 171.39,514.26 172.05,514.55 172.70,514.49 173.35,514.29 174.01,514.63 174.66,514.32 175.31,514.47 175.97,514.42 176.62,514.81 177.27,514.54 177.93,514.43 178.58,514.28 179.23,514.55 179.89,514.69 180.54,514.72 181.20,514.89 181.85,514.82 182.50,512.80 183.16,514.34 183.81,514.78 184.46,523.50 185.12,514.61 185.77,514.83 186.42,514.64 187.08,514.45 187.73,514.37 188.38,512.50 189.04,514.70 189.69,514.88 190.34,514.88 191.00,514.58 191.65,514.72 192.31,512.90 192.96,514.82 193.61,514.67 194.27,521.50 194.92,514.61 195.57,514.37 196.23,514.38 196.88,514.73 197.53,514.94 198.19,512.60 198.84,514.54 199.49,514.50 200.15,514.57 200.80,514.81 201.45,514.57 202.11,514.92 202.76,514.36 203.41,514.47 204.07,519.40 204.72,514.54 205.38,514.85 206.03,514.83 206.68,514.90 207.34,514.68 207.99,514.27 208.64,514.65 209.30,514.63 209.95,514.59 210.60,514.45 211.26,514.75 211.91,514.89 212.56,514.32 213.22,514.72 213.87,514.51 214.52,514.61 215.18,514.88 215.83,514.92 216.48,514.70 217.14,514.39 217.79,514.89 218.44,514.38 219.10,514.52 219.75,514.83 220.41,514.47 221.06,514.44 221.71,512.80 222.37,514.91 223.02,514.47 223.67,514.52 224.33,514.45 224.98,514.34 225.63,514.43 226.29,514.94 226.94,512.40 227.59,514.41 228.25,514.39 228.90,514.31 229.55,514.62 230.21,514.77 230.86,514.84 231.51,507.10 232.17,514.82 232.82,514.25 233.48,514.45 234.13,524.20 234.78,514.30 235.44,515.00 236.09,514.59 236.74,514.44 237.40,608.20 238.05,615.53 238.70,615.23 239.36,615.34 240.01,615.77 240.66,615.29 241.32,615.74 241.97,615.31 242.62,615.80 243.28,615.60" fill="none" stroke="#4a0aa0" stroke-width="1.6"/>
<circle cx="42.65" cy="509.50" r="4.75" fill="#fff" stroke="#4a0aa0" stroke-width="1.2"/>
<circle cx="43.31" cy="514.28" r="4.75" fill="#fff" stroke="#4a0aa0" stroke-width="1.2"/>
<circle cx="43.96" cy="514.29" r="4.75" fill="#fff" stroke="#4a0aa0" stroke-width="1.2"/>
<circle cx="44.61" cy="514.71" r="4.75" fill="#fff" stroke="#4a0aa0" stroke-width="1.2"/>
<circle cx="45.27" cy="514.88" r="4.75" fill="#fff" stroke="#4a0aa0" stroke-width="1.2"/>
<circle cx="45.92" cy="514.39" r="4.75" fill="#fff" stroke="#4a0aa0" stroke-width="1.2"/>
<circle cx="46.57" cy="514.93" r="4.75" fill="#fff" stroke="#4a0aa0" stroke-width="1.2"/>
<circle cx="47.23" cy="514.58" r="4.75" fill="#fff" stroke="#4a0aa0" stroke-width="1.2"/>
<circle cx="47.88" cy="514.81" r="4.75" fill="#fff" stroke="#4a0aa0" stroke-width="1.2"/>
<circle cx="48.53" cy="514.89" r="4.75" fill="#fff" stroke="#4a0aa0" stroke-width="1.2"/>
<circle cx="49.19" cy="514.91" r="4.75" fill="#fff" stroke="#4a0aa0" stroke-width="1.2"/>
<circle cx="49.84" cy="514.27" r="4.75" fill="#fff" stroke="#4a0aa0" stroke-width="1.2"/>
<circle cx="50.50" cy="514.46" r="4.75" fill="#fff" stroke="#4a0aa0" stroke-width="1.2"/>
<circle cx="51.15" cy="514.67" r="4.75" fill="#fff" stroke="#4a0aa0" stroke-width="1.2"/>
<circle cx="51.80" cy="514.91" r="4.75" fill="#fff" stroke="#4a0aa0" stroke-width="1.2"/>
<circle cx="52.46" cy="514.31" r="4.75" fill="#fff" stroke="#4a0aa0" stroke-width="1.2"/>
<circle cx="53.11" cy="514.46" r="4.75" fill="#fff" stroke="#4a0aa0" stroke-width="1.2"/>
<circle cx="53.76" cy="514.84" r="4.75" fill="#fff" stroke="#4a0aa0" stroke-width="1.2"/>
<circle cx="54.42" cy="514.33" r="4.75" fill="#fff" stroke="#4a0aa0" stroke-width="1.2"/>
<circle cx="55.07" cy="514.52" r="4.75" fill="#fff" stroke="#4a0aa0" stroke-width="1.2"/>
<circle cx="55.72" cy="514.48" r="4.75" fill="#fff" stroke="#4a0aa0" stroke-width="1.2"/>
<circle cx="56.38" cy="514.73" r="4.75" fill="#fff" stroke="#4a0aa0" stroke-width="1.2"/>
<circle cx="57.03" cy="514.90" r="4.75" fill="#fff" stroke="#4a0aa0" stroke-width="1.2"/>
<circle cx="57.68" cy="514.37" r="4.75" fill="#fff" stroke="#4a0aa0" stroke-width="1.2"/>
<circle cx="58.34" cy="514.77" r="4.75" fill="#fff" stroke="#4a0aa0" stroke-width="1.2"/>
<circle cx="58.99" cy="514.76" r="4.75" fill="#fff" stroke="#4a0aa0" stroke-width="1.2"/>
<circle cx="59.64" cy="514.83" r="4.75" fill="#fff" stroke="#4a0aa0" stroke-width="1.2"/>
<circle cx="60.30" cy="514.64" r="4.75" fill="#fff" stroke="#4a0aa0" stroke-width="1.2"/>
<circle cx="60.95" cy="514.90" r="4.75" fill="#fff" stroke="#4a0aa0" stroke-width="1.2"/>
<circle cx="61.61" cy="514.50" r="4.75" fill="#fff" stroke="#4a0aa0" stroke-width="1.2"/>
<circle cx="62.26" cy="514.54" r="4.75" fill="#fff" stroke="#4a0aa0" stroke-width="1.2"/>
<circle cx="62.91" cy="514.41" r="4.75" fill="#fff" stroke="#4a0aa0" stroke-width="1.2"/>
<circle cx="63.57" cy="514.80" r="4.75" fill="#fff" stroke="#4a0aa0" stroke-width="1.2"/>
<circle cx="64.22" cy="514.59" r="4.75" fill="#fff" stroke="#4a0aa0" stroke-width="1.2"/>
<circle cx="64.87" cy="514.44" r="4.75" fill="#fff" stroke="#4a0aa0" stroke-width="1.2"/>
<circle cx="65.53" cy="514.37" r="4.75" fill="#fff" stroke="#4a0aa0" stroke-width="1.2"/>
<circle cx="66.18" cy="514.75" r="4.75" fill="#fff" stroke="#4a0aa0" stroke-width="1.2"/>
<circle cx="66.83" cy="514.67" r="4.75" fill="#fff" stroke="#4a0aa0" stroke-width="1.2"/>
<circle cx="67.49" cy="514.75" r="4.75" fill="#fff" stroke="#4a0aa0" stroke-width="1.2"/>
<circle cx="68.14" cy="514.52" r="4.75" fill="#fff" stroke="#4a0aa0" stroke-width="1.2"/>
<circle cx="68.79" cy="514.59" r="4.75" fill="#fff" stroke="#4a0aa0" stroke-width="1.2"/>
<circle cx="69.45" cy="514.36" r="4.75" fill="#fff" stroke="#4a0aa0" stroke-width="1.2"/>
<circle cx="70.10" cy="514.75" r="4.75" fill="#fff" stroke="#4a0aa0" stroke-width="1.2"/>
<circle cx="70.75" cy="514.27" r="4.75" fill="#fff" stroke="#4a0aa0" stroke-width="1.2"/>
<circle cx="71.41" cy="514.58" r="4.75" fill="#fff" stroke="#4a0aa0" stroke-width="1.2"/>
<circle cx="72.06" cy="514.78" r="4.75" fill="#fff" stroke="#4a0aa0" stroke-width="1.2"/>
<circle cx="72.71" cy="514.72" r="4.75" fill="#fff" stroke="#4a0aa0" stroke-width="1.2"/>
<circle cx="73.37" cy="514.32" r="4.75" fill="#fff" stroke="#4a0aa0" stroke-width="1.2"/>
<circle cx="74.02" cy="514.42" r="4.75" fill="#fff" stroke="#4a0aa0" stroke-width="1.2"/>
<circle cx="74.67" cy="514.84" r="4.75" fill="#fff" stroke="#4a0aa0" stroke-width="1.2"/>
<circle cx="75.33" cy="514.70" r="4.75" fill="#fff" stroke="#4a0aa0" stroke-width="1.2"/>
<circle cx="75.98" cy="514.86" r="4.75" fill="#fff" stroke="#4a0aa0" stroke-width="1.2"/>
<circle cx="76.64" cy="514.86" r="4.75" fill="#fff" stroke="#4a0aa0" stroke-width="1.2"/>
<circle cx="77.29" cy="514.56" r="4.75" fill="#fff" stroke="#4a0aa0" stroke-width="1.2"/>
<circle cx="77.94" cy="514.88" r="4.75" fill="#fff" stroke="#4a0aa0" stroke-width="1.2"/>
<circle cx="78.60" cy="514.76" r="4.75" fill="#fff" stroke="#4a0aa0" stroke-width="1.2"/>
<circle cx="79.25" cy="514.48" r="4.75" fill="#fff" stroke="#4a0aa0" stroke-width="1.2"/>
<circle cx="79.90" cy="514.51" r="4.75" fill="#fff" stroke="#4a0aa0" stroke-width="1.2"/>
<circle cx="80.56" cy="514.30" r="4.75" fill="#fff" stroke="#4a0aa0" stroke-width="1.2"/>
<circle cx="81.21" cy="514.53" r="4.75" fill="#fff" stroke="#4a0aa0" stroke-width="1.2"/>
<circle cx="81.86" cy="514.92" r="4.75" fill="#fff" stroke="#4a0aa0" stroke-width="1.2"/>
<circle cx="82.52" cy="514.32" r="4.75" fill="#fff" stroke="#4a0aa0" stroke-width="1.2"/>
<circle cx="83.17" cy="514.65" r="4.75" fill="#fff" stroke="#4a0aa0" stroke-width="1.2"/>
<circle cx="83.82" cy="514.33" r="4.75" fill="#fff" stroke="#4a0aa0" stroke-width="1.2"/>
<circle cx="84.48" cy="514.31" r="4.75" fill="#fff" stroke="#4a0aa0" stroke-width="1.2"/>
<circle cx="85.13" cy="514.70" r="4.75" fill="#fff" stroke="#4a0aa0" stroke-width="1.2"/>
<circle cx="85.78" cy="514.42" r="4.75" fill="#fff" stroke="#4a0aa0" stroke-width="1.2"/>
<circle cx="86.44" cy="514.28" r="4.75" fill="#fff" stroke="#4a0aa0" stroke-width="1.2"/>
<circle cx="87.09" cy="514.36" r="4.75" fill="#fff" stroke="#4a0aa0" stroke-width="1.2"/>
<circle cx="87.75" cy="514.70" r="4.75" fill="#fff" stroke="#4a0aa0" stroke-width="1.2"/>
<circle cx="88.40" cy="514.66" r="4.75" fill="#fff" stroke="#4a0aa0" stroke-width="1.2"/>
<circle cx="89.05" cy="514.26" r="4.75" fill="#fff" stroke="#4a0aa0" stroke-width="1.2"/>
<circle cx="89.71" cy="514.41" r="4.75" fill="#fff" stroke="#4a0aa0" stroke-width="1.2"/>
<circle cx="90.36" cy="514.93" r="4.75" fill="#fff" stroke="#4a0aa0" stroke-width="1.2"/>
<circle cx="91.01" cy="514.40" r="4.75" fill="#fff" stroke="#4a0aa0" stroke-width="1.2"/>
<circle cx="91.67" cy="514.64" r="4.75" fill="#fff" stroke="#4a0aa0" stroke-width="1.2"/>
<circle cx="92.32" cy="514.54" r="4.75" fill="#fff" stroke="#4a0aa0" stroke-width="1.2"/>
<circle cx="92.97" cy="514.80" r="4.75" fill="#fff" stroke="#4a0aa0" stroke-width="1.2"/>
<circle cx="93.63" cy="514.67" r="4.75" fill="#fff" stroke="#4a0aa0" stroke-width="1.2"/>
<circle cx="94.28" cy="514.80" r="4.75" fill="#fff" stroke="#4a0aa0" stroke-width="1.2"/>
<circle cx="94.93" cy="514.62" r="4.75" fill="#fff" stroke="#4a0aa0" stroke-width="1.2"/>
<circle cx="95.59" cy="514.38" r="4.75" fill="#fff" stroke="#4a0aa0" stroke-width="1.2"/>
<circle cx="96.24" cy="514.37" r="4.75" fill="#fff" stroke="#4a0aa0" stroke-width="1.2"/>
<circle cx="96.89" cy="514.31" r="4.75" fill="#fff" stroke="#4a0aa0" stroke-width="1.2"/>
<circle cx="97.55" cy="514.83" r="4.75" fill="#fff" stroke="#4a0aa0" stroke-width="1.2"/>
<circle cx="98.20" cy="514.33" r="4.75" fill="#fff" stroke="#4a0aa0" stroke-width="1.2"/>
<circle cx="98.85" cy="514.27" r="4.75" fill="#fff" stroke="#4a0aa0" stroke-width="1.2"/>
<circle cx="99.51" cy="514.93" r="4.75" fill="#fff" stroke="#4a0aa0" stroke-width="1.2"/>
<circle cx="100.16" cy="514.39" r="4.75" fill="#fff" stroke="#4a0aa0" stroke-width="1.2"/>
<circle cx="100.81" cy="514.88" r="4.75" fill="#fff" stroke="#4a0aa0" stroke-width="1.2"/>
<circle cx="101.47" cy="514.31" r="4.75" fill="#fff" stroke="#4a0aa0" stroke-width="1.2"/>
<circle cx="102.12" cy="514.58" r="4.75" fill="#fff" stroke="#4a0aa0" stroke-width="1.2"/>
<circle cx="102.78" cy="514.41" r="4.75" fill="#fff" stroke="#4a0aa0" stroke-width="1.2"/>
<circle cx="103.43" cy="514.83" r="4.75" fill="#fff" stroke="#4a0aa0" stroke-width="1.2"/>
<circle cx="104.08" cy="514.68" r="4.75" fill="#fff" stroke="#4a0aa0" stroke-width="1.2"/>
<circle cx="104.74" cy="514.70" r="4.75" fill="#fff" stroke="#4a0aa0" stroke-width="1.2"/>
<circle cx="105.39" cy="514.78" r="4.75" fill="#fff" stroke="#4a0aa0" stroke-width="1.2"/>
<circle cx="106.04" cy="514.86" r="4.75" fill="#fff" stroke="#4a0aa0" stroke-width="1.2"/>
<circle cx="106.70" cy="514.49" r="4.75" fill="#fff" stroke="#4a0aa0" stroke-width="1.2"/>
<circle cx="107.35" cy="514.67" r="4.75" fill="#fff" stroke="#4a0aa0" stroke-width="1.2"/>
<circle cx="108.00" cy="514.56" r="4.75" fill="#fff" stroke="#4a0aa0" stroke-width="1.2"/>
<circle cx="108.66" cy="514.33" r="4.75" fill="#fff" stroke="#4a0aa0" stroke-width="1.2"/>
<circle cx="109.31" cy="514.83" r="4.75" fill="#fff" stroke="#4a0aa0" stroke-width="1.2"/>
<circle cx="109.96" cy="512.20" r="4.75" fill="#fff" stroke="#4a0aa0" stroke-width="1.2"/>
<circle cx="110.62" cy="512.00" r="4.75" fill="#fff" stroke="#4a0aa0" stroke-width="1.2"/>
<circle cx="111.27" cy="514.39" r="4.75" fill="#fff" stroke="#4a0aa0" stroke-width="1.2"/>
<circle cx="111.92" cy="514.63" r="4.75" fill="#fff" stroke="#4a0aa0" stroke-width="1.2"/>
<circle cx="112.58" cy="514.57" r="4.75" fill="#fff" stroke="#4a0aa0" stroke-width="1.2"/>
<circle cx="113.23" cy="514.76" r="4.75" fill="#fff" stroke="#4a0aa0" stroke-width="1.2"/>
<circle cx="113.88" cy="514.30" r="4.75" fill="#fff" stroke="#4a0aa0" stroke-width="1.2"/>
<circle cx="114.54" cy="511.60" r="4.75" fill="#fff" stroke="#4a0aa0" stroke-width="1.2"/>
<circle cx="115.19" cy="511.80" r="4.75" fill="#fff" stroke="#4a0aa0" stroke-width="1.2"/>
<circle cx="115.85" cy="512.00" r="4.75" fill="#fff" stroke="#4a0aa0" stroke-width="1.2"/>
<circle cx="116.50" cy="514.64" r="4.75" fill="#fff" stroke="#4a0aa0" stroke-width="1.2"/>
<circle cx="117.15" cy="514.76" r="4.75" fill="#fff" stroke="#4a0aa0" stroke-width="1.2"/>
<circle cx="117.81" cy="514.55" r="4.75" fill="#fff" stroke="#4a0aa0" stroke-width="1.2"/>
<circle cx="118.46" cy="514.70" r="4.75" fill="#fff" stroke="#4a0aa0" stroke-width="1.2"/>
<circle cx="119.11" cy="514.67" r="4.75" fill="#fff" stroke="#4a0aa0" stroke-width="1.2"/>
<circle cx="119.77" cy="514.40" r="4.75" fill="#fff" stroke="#4a0aa0" stroke-width="1.2"/>
<circle cx="120.42" cy="514.50" r="4.75" fill="#fff" stroke="#4a0aa0" stroke-width="1.2"/>
<circle cx="121.07" cy="514.95" r="4.75" fill="#fff" stroke="#4a0aa0" stroke-width="1.2"/>
<circle cx="121.73" cy="514.48" r="4.75" fill="#fff" stroke="#4a0aa0" stroke-width="1.2"/>
<circle cx="122.38" cy="514.55" r="4.75" fill="#fff" stroke="#4a0aa0" stroke-width="1.2"/>
<circle cx="123.03" cy="514.31" r="4.75" fill="#fff" stroke="#4a0aa0" stroke-width="1.2"/>
<circle cx="123.69" cy="514.40" r="4.75" fill="#fff" stroke="#4a0aa0" stroke-width="1.2"/>
<circle cx="124.34" cy="514.37" r="4.75" fill="#fff" stroke="#4a0aa0" stroke-width="1.2"/>
<circle cx="124.99" cy="514.90" r="4.75" fill="#fff" stroke="#4a0aa0" stroke-width="1.2"/>
<circle cx="125.65" cy="514.76" r="4.75" fill="#fff" stroke="#4a0aa0" stroke-width="1.2"/>
<circle cx="126.30" cy="514.86" r="4.75" fill="#fff" stroke="#4a0aa0" stroke-width="1.2"/>
<circle cx="126.95" cy="514.94" r="4.75" fill="#fff" stroke="#4a0aa0" stroke-width="1.2"/>
<circle cx="127.61" cy="514.68" r="4.75" fill="#fff" stroke="#4a0aa0" stroke-width="1.2"/>
<circle cx="128.26" cy="514.90" r="4.75" fill="#fff" stroke="#4a0aa0" stroke-width="1.2"/>
<circle cx="128.92" cy="514.63" r="4.75" fill="#fff" stroke="#4a0aa0" stroke-width="1.2"/>
<circle cx="129.57" cy="514.54" r="4.75" fill="#fff" stroke="#4a0aa0" stroke-width="1.2"/>
<circle cx="130.22" cy="514.91" r="4.75" fill="#fff" stroke="#4a0aa0" stroke-width="1.2"/>
<circle cx="130.88" cy="514.88" r="4.75" fill="#fff" stroke="#4a0aa0" stroke-width="1.2"/>
<circle cx="131.53" cy="514.91" r="4.75" fill="#fff" stroke="#4a0aa0" stroke-width="1.2"/>
<circle cx="132.18" cy="514.59" r="4.75" fill="#fff" stroke="#4a0aa0" stroke-width="1.2"/>
<circle cx="132.84" cy="514.79" r="4.75" fill="#fff" stroke="#4a0aa0" stroke-width="1.2"/>
<circle cx="133.49" cy="514.53" r="4.75" fill="#fff" stroke="#4a0aa0" stroke-width="1.2"/>
<circle cx="134.14" cy="514.95" r="4.75" fill="#fff" stroke="#4a0aa0" stroke-width="1.2"/>
<circle cx="134.80" cy="514.89" r="4.75" fill="#fff" stroke="#4a0aa0" stroke-width="1.2"/>
<circle cx="135.45" cy="514.45" r="4.75" fill="#fff" stroke="#4a0aa0" stroke-width="1.2"/>
<circle cx="136.10" cy="514.90" r="4.75" fill="#fff" stroke="#4a0aa0" stroke-width="1.2"/>
<circle cx="136.76" cy="514.38" r="4.75" fill="#fff" stroke="#4a0aa0" stroke-width="1.2"/>
<circle cx="137.41" cy="514.32" r="4.75" fill="#fff" stroke="#4a0aa0" stroke-width="1.2"/>
<circle cx="138.06" cy="514.76" r="4.75" fill="#fff" stroke="#4a0aa0" stroke-width="1.2"/>
<circle cx="138.72" cy="514.46" r="4.75" fill="#fff" stroke="#4a0aa0" stroke-width="1.2"/>
<circle cx="139.37" cy="514.61" r="4.75" fill="#fff" stroke="#4a0aa0" stroke-width="1.2"/>
<circle cx="140.02" cy="514.70" r="4.75" fill="#fff" stroke="#4a0aa0" stroke-width="1.2"/>
<circle cx="140.68" cy="514.28" r="4.75" fill="#fff" stroke="#4a0aa0" stroke-width="1.2"/>
<circle cx="141.33" cy="514.77" r="4.75" fill="#fff" stroke="#4a0aa0" stroke-width="1.2"/>
<circle cx="141.99" cy="514.44" r="4.75" fill="#fff" stroke="#4a0aa0" stroke-width="1.2"/>
<circle cx="142.64" cy="514.55" r="4.75" fill="#fff" stroke="#4a0aa0" stroke-width="1.2"/>
<circle cx="143.29" cy="514.49" r="4.75" fill="#fff" stroke="#4a0aa0" stroke-width="1.2"/>
<circle cx="143.95" cy="514.77" r="4.75" fill="#fff" stroke="#4a0aa0" stroke-width="1.2"/>
<circle cx="144.60" cy="514.77" r="4.75" fill="#fff" stroke="#4a0aa0" stroke-width="1.2"/>
<circle cx="145.25" cy="514.45" r="4.75" fill="#fff" stroke="#4a0aa0" stroke-width="1.2"/>
<circle cx="145.91" cy="514.32" r="4.75" fill="#fff" stroke="#4a0aa0" stroke-width="1.2"/>
<circle cx="146.56" cy="514.46" r="4.75" fill="#fff" stroke="#4a0aa0" stroke-width="1.2"/>
<circle cx="147.21" cy="514.54" r="4.75" fill="#fff" stroke="#4a0aa0" stroke-width="1.2"/>
<circle cx="147.87" cy="514.30" r="4.75" fill="#fff" stroke="#4a0aa0" stroke-width="1.2"/>
<circle cx="148.52" cy="514.36" r="4.75" fill="#fff" stroke="#4a0aa0" stroke-width="1.2"/>
<circle cx="149.17" cy="514.78" r="4.75" fill="#fff" stroke="#4a0aa0" stroke-width="1.2"/>
<circle cx="149.83" cy="514.74" r="4.75" fill="#fff" stroke="#4a0aa0" stroke-width="1.2"/>
<circle cx="150.48" cy="514.93" r="4.75" fill="#fff" stroke="#4a0aa0" stroke-width="1.2"/>
<circle cx="151.13" cy="514.94" r="4.75" fill="#fff" stroke="#4a0aa0" stroke-width="1.2"/>
<circle cx="151.79" cy="514.86" r="4.75" fill="#fff" stroke="#4a0aa0" stroke-width="1.2"/>
<circle cx="152.44" cy="514.51" r="4.75" fill="#fff" stroke="#4a0aa0" stroke-width="1.2"/>
<circle cx="153.09" cy="514.36" r="4.75" fill="#fff" stroke="#4a0aa0" stroke-width="1.2"/>
<circle cx="153.75" cy="514.47" r="4.75" fill="#fff" stroke="#4a0aa0" stroke-width="1.2"/>
<circle cx="154.40" cy="514.57" r="4.75" fill="#fff" stroke="#4a0aa0" stroke-width="1.2"/>
<circle cx="155.06" cy="514.62" r="4.75" fill="#fff" stroke="#4a0aa0" stroke-width="1.2"/>
<circle cx="155.71" cy="514.63" r="4.75" fill="#fff" stroke="#4a0aa0" stroke-width="1.2"/>
<circle cx="156.36" cy="514.50" r="4.75" fill="#fff" stroke="#4a0aa0" stroke-width="1.2"/>
<circle cx="157.02" cy="514.85" r="4.75" fill="#fff" stroke="#4a0aa0" stroke-width="1.2"/>
<circle cx="157.67" cy="514.45" r="4.75" fill="#fff" stroke="#4a0aa0" stroke-width="1.2"/>
<circle cx="158.32" cy="514.57" r="4.75" fill="#fff" stroke="#4a0aa0" stroke-width="1.2"/>
<circle cx="158.98" cy="514.87" r="4.75" fill="#fff" stroke="#4a0aa0" stroke-width="1.2"/>
<circle cx="159.63" cy="514.81" r="4.75" fill="#fff" stroke="#4a0aa0" stroke-width="1.2"/>
<circle cx="160.28" cy="514.46" r="4.75" fill="#fff" stroke="#4a0aa0" stroke-width="1.2"/>
<circle cx="160.94" cy="514.42" r="4.75" fill="#fff" stroke="#4a0aa0" stroke-width="1.2"/>
<circle cx="161.59" cy="514.81" r="4.75" fill="#fff" stroke="#4a0aa0" stroke-width="1.2"/>
<circle cx="162.24" cy="514.26" r="4.75" fill="#fff" stroke="#4a0aa0" stroke-width="1.2"/>
<circle cx="162.90" cy="514.34" r="4.75" fill="#fff" stroke="#4a0aa0" stroke-width="1.2"/>
<circle cx="163.55" cy="514.62" r="4.75" fill="#fff" stroke="#4a0aa0" stroke-width="1.2"/>
<circle cx="164.20" cy="514.63" r="4.75" fill="#fff" stroke="#4a0aa0" stroke-width="1.2"/>
<circle cx="164.86" cy="514.37" r="4.75" fill="#fff" stroke="#4a0aa0" stroke-width="1.2"/>
<circle cx="165.51" cy="514.29" r="4.75" fill="#fff" stroke="#4a0aa0" stroke-width="1.2"/>
<circle cx="166.16" cy="514.39" r="4.75" fill="#fff" stroke="#4a0aa0" stroke-width="1.2"/>
<circle cx="166.82" cy="514.79" r="4.75" fill="#fff" stroke="#4a0aa0" stroke-width="1.2"/>
<circle cx="167.47" cy="514.58" r="4.75" fill="#fff" stroke="#4a0aa0" stroke-width="1.2"/>
<circle cx="168.13" cy="514.94" r="4.75" fill="#fff" stroke="#4a0aa0" stroke-width="1.2"/>
<circle cx="168.78" cy="514.80" r="4.75" fill="#fff" stroke="#4a0aa0" stroke-width="1.2"/>
<circle cx="169.43" cy="514.94" r="4.75" fill="#fff" stroke="#4a0aa0" stroke-width="1.2"/>
<circle cx="170.09" cy="514.27" r="4.75" fill="#fff" stroke="#4a0aa0" stroke-width="1.2"/>
<circle cx="170.74" cy="514.38" r="4.75" fill="#fff" stroke="#4a0aa0" stroke-width="1.2"/>
<circle cx="171.39" cy="514.26" r="4.75" fill="#fff" stroke="#4a0aa0" stroke-width="1.2"/>
<circle cx="172.05" cy="514.55" r="4.75" fill="#fff" stroke="#4a0aa0" stroke-width="1.2"/>
<circle cx="172.70" cy="514.49" r="4.75" fill="#fff" stroke="#4a0aa0" stroke-width="1.2"/>
<circle cx="173.35" cy="514.29" r="4.75" fill="#fff" stroke="#4a0aa0" stroke-width="1.2"/>
<circle cx="174.01" cy="514.63" r="4.75" fill="#fff" stroke="#4a0aa0" stroke-width="1.2"/>
<circle cx="174.66" cy="514.32" r="4.75" fill="#fff" stroke="#4a0aa0" stroke-width="1.2"/>
<circle cx="175.31" cy="514.47" r="4.75" fill="#fff" stroke="#4a0aa0" stroke-width="1.2"/>
<circle cx="175.97" cy="514.42" r="4.75" fill="#fff" stroke="#4a0aa0" stroke-width="1.2"/>
<circle cx="176.62" cy="514.81" r="4.75" fill="#fff" stroke="#4a0aa0" stroke-width="1.2"/>
<circle cx="177.27" cy="514.54" r="4.75" fill="#fff" stroke="#4a0aa0" stroke-width="1.2"/>
<circle cx="177.93" cy="514.43" r="4.75" fill="#fff" stroke="#4a0aa0" stroke-width="1.2"/>
<circle cx="178.58" cy="514.28" r="4.75" fill="#fff" stroke="#4a0aa0" stroke-width="1.2"/>
<circle cx="179.23" cy="514.55" r="4.75" fill="#fff" stroke="#4a0aa0" stroke-width="1.2"/>
<circle cx="179.89" cy="514.69" r="4.75" fill="#fff" stroke="#4a0aa0" stroke-width="1.2"/>
<circle cx="180.54" cy="514.72" r="4.75" fill="#fff" stroke="#4a0aa0" stroke-width="1.2"/>
<circle cx="181.20" cy="514.89" r="4.75" fill="#fff" stroke="#4a0aa0" stroke-width="1.2"/>
<circle cx="181.85" cy="514.82" r="4.75" fill="#fff" stroke="#4a0aa0" stroke-width="1.2"/>
<circle cx="182.50" cy="512.80" r="4.75" fill="#fff" stroke="#4a0aa0" stroke-width="1.2"/>
<circle cx="183.16" cy="514.34" r="4.75" fill="#fff" stroke="#4a0aa0" stroke-width="1.2"/>
<circle cx="183.81" cy="514.78" r="4.75" fill="#fff" stroke="#4a0aa0" stroke-width="1.2"/>
<circle cx="184.46" cy="523.50" r="4.75" fill="#fff" stroke="#4a0aa0" stroke-width="1.2"/>
<circle cx="185.12" cy="514.61" r="4.75" fill="#fff" stroke="#4a0aa0" stroke-width="1.2"/>
<circle cx="185.77" cy="514.83" r="4.75" fill="#fff" stroke="#4a0aa0" stroke-width="1.2"/>
<circle cx="186.42" cy="514.64" r="4.75" fill="#fff" stroke="#4a0aa0" stroke-width="1.2"/>
<circle cx="187.08" cy="514.45" r="4.75" fill="#fff" stroke="#4a0aa0" stroke-width="1.2"/>
<circle cx="187.73" cy="514.37" r="4.75" fill="#fff" stroke="#4a0aa0" stroke-width="1.2"/>
<circle cx="188.38" cy="512.50" r="4.75" fill="#fff" stroke="#4a0aa0" stroke-width="1.2"/>
<circle cx="189.04" cy="514.70" r="4.75" fill="#fff" stroke="#4a0aa0" stroke-width="1.2"/>
<circle cx="189.69" cy="514.88" r="4.75" fill="#fff" stroke="#4a0aa0" stroke-width="1.2"/>
<circle cx="190.34" cy="514.88" r="4.75" fill="#fff" stroke="#4a0aa0" stroke-width="1.2"/>
<circle cx="191.00" cy="514.58" r="4.75" fill="#fff" stroke="#4a0aa0" stroke-width="1.2"/>
<circle cx="191.65" cy="514.72" r="4.75" fill="#fff" stroke="#4a0aa0" stroke-width="1.2"/>
<circle cx="192.31" cy="512.90" r="4.75" fill="#fff" stroke="#4a0aa0" stroke-width="1.2"/>
<circle cx="192.96" cy="514.82" r="4.75" fill="#fff" stroke="#4a0aa0" stroke-width="1.2"/>
<circle cx="193.61" cy="514.67" r="4.75" fill="#fff" stroke="#4a0aa0" stroke-width="1.2"/>
<circle cx="194.27" cy="521.50" r="4.75" fill="#fff" stroke="#4a0aa0" stroke-width="1.2"/>
<circle cx="194.92" cy="514.61" r="4.75" fill="#fff" stroke="#4a0aa0" stroke-width="1.2"/>
<circle cx="195.57" cy="514.37" r="4.75" fill="#fff" stroke="#4a0aa0" stroke-width="1.2"/>
<circle cx="196.23" cy="514.38" r="4.75" fill="#fff" stroke="#4a0aa0" stroke-width="1.2"/>
<circle cx="196.88" cy="514.73" r="4.75" fill="#fff" stroke="#4a0aa0" stroke-width="1.2"/>
<circle cx="197.53" cy="514.94" r="4.75" fill="#fff" stroke="#4a0aa0" stroke-width="1.2"/>
<circle cx="198.19" cy="512.60" r="4.75" fill="#fff" stroke="#4a0aa0" stroke-width="1.2"/>
<circle cx="198.84" cy="514.54" r="4.75" fill="#fff" stroke="#4a0aa0" stroke-width="1.2"/>
<circle cx="199.49" cy="514.50" r="4.75" fill="#fff" stroke="#4a0aa0" stroke-width="1.2"/>
<circle cx="200.15" cy="514.57" r="4.75" fill="#fff" stroke="#4a0aa0" stroke-width="1.2"/>
<circle cx="200.80" cy="514.81" r="4.75" fill="#fff" stroke="#4a0aa0" stroke-width="1.2"/>
<circle cx="201.45" cy="514.57" r="4.75" fill="#fff" stroke="#4a0aa0" stroke-width="1.2"/>
<circle cx="202.11" cy="514.92" r="4.75" fill="#fff" stroke="#4a0aa0" stroke-width="1.2"/>
<circle cx="202.76" cy="514.36" r="4.75" fill="#fff" stroke="#4a0aa0" stroke-width="1.2"/>
<circle cx="203.41" cy="514.47" r="4.75" fill="#fff" stroke="#4a0aa0" stroke-width="1.2"/>
<circle cx="204.07" cy="519.40" r="4.75" fill="#fff" stroke="#4a0aa0" stroke-width="1.2"/>
<circle cx="204.72" cy="514.54" r="4.75" fill="#fff" stroke="#4a0aa0" stroke-width="1.2"/>
<circle cx="205.38" cy="514.85" r="4.75" fill="#fff" stroke="#4a0aa0" stroke-width="1.2"/>
<circle cx="206.03" cy="514.83" r="4.75" fill="#fff" stroke="#4a0aa0" stroke-width="1.2"/>
<circle cx="206.68" cy="514.90" r="4.75" fill="#fff" stroke="#4a0aa0" stroke-width="1.2"/>
<circle cx="207.34" cy="514.68" r="4.75" fill="#fff" stroke="#4a0aa0" stroke-width="1.2"/>
<circle cx="207.99" cy="514.27" r="4.75" fill="#fff" stroke="#4a0aa0" stroke-width="1.2"/>
<circle cx="208.64" cy="514.65" r="4.75" fill="#fff" stroke="#4a0aa0" stroke-width="1.2"/>
<circle cx="209.30" cy="514.63" r="4.75" fill="#fff" stroke="#4a0aa0" stroke-width="1.2"/>
<circle cx="209.95" cy="514.59" r="4.75" fill="#fff" stroke="#4a0aa0" stroke-width="1.2"/>
<circle cx="210.60" cy="514.45" r="4.75" fill="#fff" stroke="#4a0aa0" stroke-width="1.2"/>
<circle cx="211.26" cy="514.75" r="4.75" fill="#fff" stroke="#4a0aa0" stroke-width="1.2"/>
<circle cx="211.91" cy="514.89" r="4.75" fill="#fff" stroke="#4a0aa0" stroke-width="1.2"/>
<circle cx="212.56" cy="514.32" r="4.75" fill="#fff" stroke="#4a0aa0" stroke-width="1.2"/>
<circle cx="213.22" cy="514.72" r="4.75" fill="#fff" stroke="#4a0aa0" stroke-width="1.2"/>
<circle cx="213.87" cy="514.51" r="4.75" fill="#fff" stroke="#4a0aa0" stroke-width="1.2"/>
<circle cx="214.52" cy="514.61" r="4.75" fill="#fff" stroke="#4a0aa0" stroke-width="1.2"/>
<circle cx="215.18" cy="514.88" r="4.75" fill="#fff" stroke="#4a0aa0" stroke-width="1.2"/>
<circle cx="215.83" cy="514.92" r="4.75" fill="#fff" stroke="#4a0aa0" stroke-width="1.2"/>
<circle cx="216.48" cy="514.70" r="4.75" fill="#fff" stroke="#4a0aa0" stroke-width="1.2"/>
<circle cx="217.14" cy="514.39" r="4.75" fill="#fff" stroke="#4a0aa0" stroke-width="1.2"/>
<circle cx="217.79" cy="514.89" r="4.75" fill="#fff" stroke="#4a0aa0" stroke-width="1.2"/>
<circle cx="218.44" cy="514.38" r="4.75" fill="#fff" stroke="#4a0aa0" stroke-width="1.2"/>
<circle cx="219.10" cy="514.52" r="4.75" fill="#fff" stroke="#4a0aa0" stroke-width="1.2"/>
<circle cx="219.75" cy="514.83" r="4.75" fill="#fff" stroke="#4a0aa0" stroke-width="1.2"/>
<circle cx="220.41" cy="514.47" r="4.75" fill="#fff" stroke="#4a0aa0" stroke-width="1.2"/>
<circle cx="221.06" cy="514.44" r="4.75" fill="#fff" stroke="#4a0aa0" stroke-width="1.2"/>
<circle cx="221.71" cy="512.80" r="4.75" fill="#fff" stroke="#4a0aa0" stroke-width="1.2"/>
<circle cx="222.37" cy="514.91" r="4.75" fill="#fff" stroke="#4a0aa0" stroke-width="1.2"/>
<circle cx="223.02" cy="514.47" r="4.75" fill="#fff" stroke="#4a0aa0" stroke-width="1.2"/>
<circle cx="223.67" cy="514.52" r="4.75" fill="#fff" stroke="#4a0aa0" stroke-width="1.2"/>
<circle cx="224.33" cy="514.45" r="4.75" fill="#fff" stroke="#4a0aa0" stroke-width="1.2"/>
<circle cx="224.98" cy="514.34" r="4.75" fill="#fff" stroke="#4a0aa0" stroke-width="1.2"/>
<circle cx="225.63" cy="514.43" r="4.75" fill="#fff" stroke="#4a0aa0" stroke-width="1.2"/>
<circle cx="226.29" cy="514.94" r="4.75" fill="#fff" stroke="#4a0aa0" stroke-width="1.2"/>
<circle cx="226.94" cy="512.40" r="4.75" fill="#fff" stroke="#4a0aa0" stroke-width="1.2"/>
<circle cx="227.59" cy="514.41" r="4.75" fill="#fff" stroke="#4a0aa0" stroke-width="1.2"/>
<circle cx="228.25" cy="514.39" r="4.75" fill="#fff" stroke="#4a0aa0" stroke-width="1.2"/>
<circle cx="228.90" cy="514.31" r="4.75" fill="#fff" stroke="#4a0aa0" stroke-width="1.2"/>
<circle cx="229.55" cy="514.62" r="4.75" fill="#fff" stroke="#4a0aa0" stroke-width="1.2"/>
<circle cx="230.21" cy="514.77" r="4.75" fill="#fff" stroke="#4a0aa0" stroke-width="1.2"/>
<circle cx="230.86" cy="514.84" r="4.75" fill="#fff" stroke="#4a0aa0" stroke-width="1.2"/>
<circle cx="231.51" cy="507.10" r="4.75" fill="#fff" stroke="#4a0aa0" stroke-width="1.2"/>
<circle cx="232.17" cy="514.82" r="4.75" fill="#fff" stroke="#4a0aa0" stroke-width="1.2"/>
<circle cx="232.82" cy="514.25" r="4.75" fill="#fff" stroke="#4a0aa0" stroke-width="1.2"/>
<circle cx="233.48" cy="514.45" r="4.75" fill="#fff" stroke="#4a0aa0" stroke-width="1.2"/>
<circle cx="234.13" cy="524.20" r="4.75" fill="#fff" stroke="#4a0aa0" stroke-width="1.2"/>
<circle cx="234.78" cy="514.30" r="4.75" fill="#fff" stroke="#4a0aa0" stroke-width="1.2"/>
<circle cx="235.44" cy="515.00" r="4.75" fill="#fff" stroke="#4a0aa0" stroke-width="1.2"/>
<circle cx="236.09" cy="514.59" r="4.75" fill="#fff" stroke="#4a0aa0" stroke-width="1.2"/>
<circle cx="236.74" cy="514.44" r="4.75" fill="#fff" stroke="#4a0aa0" stroke-width="1.2"/>
<circle cx="237.40" cy="608.20" r="4.75" fill="#fff" stroke="#4a0aa0" stroke-width="1.2"/>
<circle cx="238.05" cy="615.53" r="4.75" fill="#fff" stroke="#4a0aa0" stroke-width="1.2"/>
<circle cx="238.70" cy="615.23" r="4.75" fill="#fff" stroke="#4a0aa0" stroke-width="1.2"/>
<circle cx="239.36" cy="615.34" r="4.75" fill="#fff" stroke="#4a0aa0" stroke-width="1.2"/>
<circle cx="240.01" cy="615.77" r="4.75" fill="#fff" stroke="#4a0aa0" stroke-width="1.2"/>
<circle cx="240.66" cy="615.29" r="4.75" fill="#fff" stroke="#4a0aa0" stroke-width="1.2"/>
<circle cx="241.32" cy="615.74" r="4.75" fill="#fff" stroke="#4a0aa0" stroke-width="1.2"/>
<circle cx="241.97" cy="615.31" r="4.75" fill="#fff" stroke="#4a0aa0" stroke-width="1.2"/>
<circle cx="242.62" cy="615.80" r="4.75" fill="#fff" stroke="#4a0aa0" stroke-width="1.2"/>
<circle cx="243.28" cy="615.60" r="4.75" fill="#fff" stroke="#4a0aa0" stroke-width="1.2"/>
</g>
<line x1="38.70" y1="649.40" x2="42.00" y2="649.40" stroke="#3a3a3a" stroke-width="1.2" />
<text x="35.90" y="654.40" font-size="14.4" text-anchor="end" font-weight="normal" >0.8</text>
<line x1="40.10" y1="632.55" x2="42.00" y2="632.55" stroke="#3a3a3a" stroke-width="1.2" />
<line x1="38.70" y1="615.70" x2="42.00" y2="615.70" stroke="#3a3a3a" stroke-width="1.2" />
<text x="35.90" y="620.70" font-size="14.4" text-anchor="end" font-weight="normal" >0.9</text>
<line x1="40.10" y1="598.85" x2="42.00" y2="598.85" stroke="#3a3a3a" stroke-width="1.2" />
<line x1="38.70" y1="582.00" x2="42.00" y2="582.00" stroke="#3a3a3a" stroke-width="1.2" />
<text x="35.90" y="587.00" font-size="14.4" text-anchor="end" font-weight="normal" >1.0</text>
<line x1="40.10" y1="565.15" x2="42.00" y2="565.15" stroke="#3a3a3a" stroke-width="1.2" />
<line x1="38.70" y1="548.30" x2="42.00" y2="548.30" stroke="#3a3a3a" stroke-width="1.2" />
<text x="35.90" y="553.30" font-size="14.4" text-anchor="end" font-weight="normal" >1.1</text>
<line x1="40.10" y1="531.45" x2="42.00" y2="531.45" stroke="#3a3a3a" stroke-width="1.2" />
<line x1="38.70" y1="514.60" x2="42.00" y2="514.60" stroke="#3a3a3a" stroke-width="1.2" />
<text x="35.90" y="519.60" font-size="14.4" text-anchor="end" font-weight="normal" >1.2</text>
<line x1="40.10" y1="497.75" x2="42.00" y2="497.75" stroke="#3a3a3a" stroke-width="1.2" />
<line x1="38.70" y1="480.90" x2="42.00" y2="480.90" stroke="#3a3a3a" stroke-width="1.2" />
<text x="35.90" y="485.90" font-size="14.4" text-anchor="end" font-weight="normal" >1.3</text>
<line x1="42.00" y1="649.40" x2="42.00" y2="652.70" stroke="#3a3a3a" stroke-width="1.2" />
<text x="42.00" y="666.30" font-size="14.4" text-anchor="middle" font-weight="normal" >0</text>
<line x1="74.67" y1="649.40" x2="74.67" y2="651.30" stroke="#3a3a3a" stroke-width="1.2" />
<line x1="107.35" y1="649.40" x2="107.35" y2="652.70" stroke="#3a3a3a" stroke-width="1.2" />
<text x="107.35" y="666.30" font-size="14.4" text-anchor="middle" font-weight="normal" >100</text>
<line x1="140.02" y1="649.40" x2="140.02" y2="651.30" stroke="#3a3a3a" stroke-width="1.2" />
<line x1="172.70" y1="649.40" x2="172.70" y2="652.70" stroke="#3a3a3a" stroke-width="1.2" />
<text x="172.70" y="666.30" font-size="14.4" text-anchor="middle" font-weight="normal" >200</text>
<line x1="205.38" y1="649.40" x2="205.38" y2="651.30" stroke="#3a3a3a" stroke-width="1.2" />
<line x1="238.05" y1="649.40" x2="238.05" y2="652.70" stroke="#3a3a3a" stroke-width="1.2" />
<text x="238.05" y="666.30" font-size="14.4" text-anchor="middle" font-weight="normal" >300</text>
<text x="146.90" y="688.40" font-size="14.4" text-anchor="middle" font-weight="normal" >Cycle</text>
<text transform="translate(11.5,564.8) rotate(-90)" font-size="14.4" text-anchor="middle">Discharge capacity (Ah)</text>
<text x="47.00" y="638.80" font-size="14.4" text-anchor="start" font-weight="normal" >800 kPa test</text>
<line x1="49.00" y1="553.60" x2="70.40" y2="553.60" stroke="#f29a7a" stroke-width="2.0" />
<circle cx="59.4" cy="553.6" r="4.6" fill="#f29a7a" stroke="#f29a7a" stroke-width="1.2"/>
<text x="73.20" y="556.90" font-size="14.4" text-anchor="start" font-weight="normal" >CC #1</text>
<line x1="49.00" y1="571.10" x2="70.40" y2="571.10" stroke="#f29a7a" stroke-width="2.0" />
<circle cx="59.4" cy="571.1" r="4.6" fill="#fff" stroke="#f29a7a" stroke-width="1.2"/>
<text x="73.20" y="574.40" font-size="14.4" text-anchor="start" font-weight="normal" >CC #2</text>
<line x1="49.00" y1="588.60" x2="70.40" y2="588.60" stroke="#4a0aa0" stroke-width="2.0" />
<circle cx="59.4" cy="588.6" r="4.6" fill="#4a0aa0" stroke="#4a0aa0" stroke-width="1.2"/>
<text x="73.20" y="591.90" font-size="14.4" text-anchor="start" font-weight="normal" >MPC #1</text>
<line x1="49.00" y1="606.10" x2="70.40" y2="606.10" stroke="#4a0aa0" stroke-width="2.0" />
<circle cx="59.4" cy="606.1" r="4.6" fill="#fff" stroke="#4a0aa0" stroke-width="1.2"/>
<text x="73.20" y="609.40" font-size="14.4" text-anchor="start" font-weight="normal" >MPC #2</text>
<defs><radialGradient id="sph" cx="0.36" cy="0.36" r="0.72"><stop offset="0" stop-color="#ffffff"/><stop offset="0.12" stop-color="#e6daf6"/><stop offset="0.32" stop-color="#6c32c6"/><stop offset="0.55" stop-color="#4806aa"/><stop offset="1" stop-color="#3e0496"/></radialGradient></defs>
<polygon points="402.30,549.36 420.04,567.10 402.30,584.84 384.56,567.10" fill="none" stroke="#b8b8b8" stroke-width="0.8"/>
<polygon points="402.30,531.62 437.78,567.10 402.30,602.58 366.82,567.10" fill="none" stroke="#b8b8b8" stroke-width="0.8"/>
<polygon points="402.30,513.88 455.52,567.10 402.30,620.32 349.08,567.10" fill="none" stroke="#b8b8b8" stroke-width="0.8"/>
<polygon points="402.30,496.14 473.26,567.10 402.30,638.06 331.34,567.10" fill="none" stroke="#b8b8b8" stroke-width="0.8"/>
<polygon points="402.30,478.40 491.00,567.10 402.30,655.80 313.60,567.10" fill="none" stroke="#b8b8b8" stroke-width="0.8"/>
<line x1="402.30" y1="478.40" x2="402.30" y2="655.80" stroke="#6a6a6a" stroke-width="1.1" />
<line x1="313.60" y1="567.10" x2="491.00" y2="567.10" stroke="#6a6a6a" stroke-width="1.1" />
<polygon points="402.30,531.50 407.30,567.10 402.30,630.10 351.70,567.10" fill="none" stroke="#eef556" stroke-width="2.0" stroke-linejoin="round"/>
<rect x="397.17" y="526.37" width="10.26" height="10.26" fill="#eef556"/>
<rect x="402.17" y="561.97" width="10.26" height="10.26" fill="#eef556"/>
<rect x="397.17" y="624.97" width="10.26" height="10.26" fill="#eef556"/>
<rect x="346.57" y="561.97" width="10.26" height="10.26" fill="#eef556"/>
<polygon points="402.30,531.50 407.30,567.10 402.30,630.10 351.70,567.10" fill="none" stroke="#f9b36c" stroke-width="2.0" stroke-linejoin="round"/>
<polygon points="402.30,527.18 406.62,534.56 397.98,534.56" fill="#f9b36c"/>
<polygon points="407.30,562.78 411.62,570.16 402.98,570.16" fill="#f9b36c"/>
<polygon points="402.30,625.78 406.62,633.16 397.98,633.16" fill="#f9b36c"/>
<polygon points="351.70,562.78 356.02,570.16 347.38,570.16" fill="#f9b36c"/>
<polygon points="402.30,531.50 407.30,567.10 402.30,630.10 351.70,567.10" fill="none" stroke="#f0977c" stroke-width="2.0" stroke-linejoin="round"/>
<polygon points="402.30,537.98 408.78,526.91 395.82,526.91" fill="#f0977c"/>
<polygon points="407.30,573.58 413.78,562.51 400.82,562.51" fill="#f0977c"/>
<polygon points="402.30,636.58 408.78,625.51 395.82,625.51" fill="#f0977c"/>
<polygon points="351.70,573.58 358.18,562.51 345.22,562.51" fill="#f0977c"/>
<polygon points="402.30,531.50 414.40,567.10 402.30,630.10 367.10,567.10" fill="none" stroke="#e07a8e" stroke-width="2.0" stroke-linejoin="round"/>
<polygon points="402.30,525.52 408.28,531.50 402.30,537.48 396.32,531.50" fill="#e07a8e"/>
<polygon points="414.40,561.12 420.38,567.10 414.40,573.08 408.42,567.10" fill="#e07a8e"/>
<polygon points="402.30,624.12 408.28,630.10 402.30,636.08 396.32,630.10" fill="#e07a8e"/>
<polygon points="367.10,561.12 373.08,567.10 367.10,573.08 361.12,567.10" fill="#e07a8e"/>
<polygon points="402.30,531.50 402.30,567.10 402.30,642.60 389.60,567.10" fill="none" stroke="#e444e4" stroke-width="2.0" stroke-linejoin="round"/>
<polygon points="408.78,531.50 397.71,525.02 397.71,537.98" fill="#e444e4"/>
<polygon points="408.78,567.10 397.71,560.62 397.71,573.58" fill="#e444e4"/>
<polygon points="408.78,642.60 397.71,636.12 397.71,649.08" fill="#e444e4"/>
<polygon points="396.08,567.10 385.01,560.62 385.01,573.58" fill="#e444e4"/>
<polygon points="402.30,531.50 402.30,567.10 402.30,639.10 389.60,567.10" fill="none" stroke="#b324f2" stroke-width="2.0" stroke-linejoin="round"/>
<polygon points="402.30,526.66 398.11,529.08 398.11,533.92 402.30,536.34 406.49,533.92 406.49,529.08" fill="#b324f2"/>
<polygon points="402.30,562.26 398.11,564.68 398.11,569.52 402.30,571.94 406.49,569.52 406.49,564.68" fill="#b324f2"/>
<polygon points="402.30,634.26 398.11,636.68 398.11,641.52 402.30,643.94 406.49,641.52 406.49,636.68" fill="#b324f2"/>
<polygon points="389.60,562.26 385.41,564.68 385.41,569.52 389.60,571.94 393.79,569.52 393.79,564.68" fill="#b324f2"/>
<polygon points="402.30,549.50 402.30,567.10 402.30,637.10 376.80,567.10" fill="none" stroke="#7a2cf0" stroke-width="2.0" stroke-linejoin="round"/>
<polygon points="402.30,544.25 401.07,547.80 397.31,547.88 400.30,550.15 399.21,553.75 402.30,551.60 405.39,553.75 404.30,550.15 407.29,547.88 403.53,547.80" fill="#7a2cf0"/>
<polygon points="402.30,561.85 401.07,565.40 397.31,565.48 400.30,567.75 399.21,571.35 402.30,569.20 405.39,571.35 404.30,567.75 407.29,565.48 403.53,565.40" fill="#7a2cf0"/>
<polygon points="402.30,631.85 401.07,635.40 397.31,635.48 400.30,637.75 399.21,641.35 402.30,639.20 405.39,641.35 404.30,637.75 407.29,635.48 403.53,635.40" fill="#7a2cf0"/>
<polygon points="376.80,561.85 375.57,565.40 371.81,565.48 374.80,567.75 373.71,571.35 376.80,569.20 379.89,571.35 378.80,567.75 381.79,565.48 378.03,565.40" fill="#7a2cf0"/>
<polygon points="402.30,549.50 402.80,567.10 402.30,633.10 376.80,567.10" fill="none" stroke="#2424f2" stroke-width="2.0" stroke-linejoin="round"/>
<polygon points="402.30,544.21 397.27,547.87 399.19,553.78 405.41,553.78 407.33,547.87" fill="#2424f2"/>
<polygon points="402.80,561.81 397.77,565.47 399.69,571.38 405.91,571.38 407.83,565.47" fill="#2424f2"/>
<polygon points="402.30,627.81 397.27,631.47 399.19,637.38 405.41,637.38 407.33,631.47" fill="#2424f2"/>
<polygon points="376.80,561.81 371.77,565.47 373.69,571.38 379.91,571.38 381.83,565.47" fill="#2424f2"/>
<polygon points="402.30,514.90 419.50,567.10 402.30,603.60 364.00,567.10" fill="none" stroke="#fdd05c" stroke-width="2.0" stroke-linejoin="round"/>
<circle cx="402.30" cy="514.90" r="5.4" fill="#fdd05c"/>
<circle cx="419.50" cy="567.10" r="5.4" fill="#fdd05c"/>
<circle cx="402.30" cy="603.60" r="5.4" fill="#fdd05c"/>
<circle cx="364.00" cy="567.10" r="5.4" fill="#fdd05c"/>
<polygon points="402.30,531.50 407.70,567.10 402.30,630.10 367.10,567.10" fill="none" stroke="#d472ab" stroke-width="2.0" stroke-linejoin="round"/>
<polygon points="395.82,531.50 406.89,525.02 406.89,537.98" fill="#d472ab"/>
<polygon points="401.22,567.10 412.29,560.62 412.29,573.58" fill="#d472ab"/>
<polygon points="395.82,630.10 406.89,623.62 406.89,636.58" fill="#d472ab"/>
<polygon points="360.62,567.10 371.69,560.62 371.69,573.58" fill="#d472ab"/>
<polygon points="402.30,531.50 407.70,567.10 402.30,627.40 389.80,567.10" fill="none" stroke="#9c1c9c" stroke-width="2.0" stroke-linejoin="round"/>
<rect x="397.17" y="526.37" width="10.26" height="10.26" fill="#9c1c9c"/>
<rect x="402.57" y="561.97" width="10.26" height="10.26" fill="#9c1c9c"/>
<rect x="397.17" y="622.27" width="10.26" height="10.26" fill="#9c1c9c"/>
<rect x="384.67" y="561.97" width="10.26" height="10.26" fill="#9c1c9c"/>
<polygon points="402.30,549.50 467.40,567.10 402.30,629.10 376.80,567.10" fill="none" stroke="#6c0aae" stroke-width="2.0" stroke-linejoin="round"/>
<circle cx="402.30" cy="549.50" r="5.4" fill="#6c0aae"/>
<circle cx="467.40" cy="567.10" r="5.4" fill="#6c0aae"/>
<circle cx="402.30" cy="629.10" r="5.4" fill="#6c0aae"/>
<circle cx="376.80" cy="567.10" r="5.4" fill="#6c0aae"/>
<polygon points="402.30,508.40 446.10,567.10 402.30,637.10 326.80,567.10" fill="none" stroke="#4a0aa6" stroke-width="2.0" stroke-linejoin="round"/>
<circle cx="402.30" cy="508.40" r="5.67" fill="url(#sph)"/>
<circle cx="446.10" cy="567.10" r="5.67" fill="url(#sph)"/>
<circle cx="402.30" cy="637.10" r="5.67" fill="url(#sph)"/>
<circle cx="326.80" cy="567.10" r="5.67" fill="url(#sph)"/>
<text x="402.60" y="467.40" font-size="14.4" text-anchor="middle" font-weight="normal" >Charge rate (C)</text>
<text x="407.50" y="485.00" font-size="14.4" text-anchor="start" font-weight="normal" >0.5</text>
<text x="323.80" y="557.60" font-size="14.4" text-anchor="end" font-weight="normal" >350</text>
<text x="311.20" y="574.50" font-size="14.4" text-anchor="end" font-weight="normal" >Cycles</text>
<text x="500.20" y="563.50" font-size="14.4" text-anchor="start" font-weight="normal" >Cell</text>
<text x="500.60" y="581.50" font-size="14.4" text-anchor="start" font-weight="normal" >capacity (Ah)</text>
<text x="480.40" y="590.20" font-size="14.4" text-anchor="start" font-weight="normal" >2.5</text>
<text x="393.40" y="658.20" font-size="14.4" text-anchor="end" font-weight="normal" >100</text>
<text x="402.60" y="677.80" font-size="14.4" text-anchor="middle" font-weight="normal" >Capacity retention (%)</text>
<line x1="593.0" y1="466.40" x2="618.9" y2="466.40" stroke="#eef556" stroke-width="1.6" stroke-dasharray="6,3.5,7,3.5,6"/>
<rect x="600.87" y="461.36" width="10.07" height="10.07" fill="#eef556"/>
<text x="622.60" y="470.40" font-size="14.4" text-anchor="start" font-weight="normal" >Ref. 63</text>
<line x1="593.0" y1="483.98" x2="618.9" y2="483.98" stroke="#fdd05c" stroke-width="1.6" stroke-dasharray="6,3.5,7,3.5,6"/>
<circle cx="605.90" cy="483.98" r="5.3" fill="#fdd05c"/>
<text x="622.60" y="487.98" font-size="14.4" text-anchor="start" font-weight="normal" >Ref. 26</text>
<line x1="593.0" y1="501.56" x2="618.9" y2="501.56" stroke="#f9b36c" stroke-width="1.6" stroke-dasharray="6,3.5,7,3.5,6"/>
<polygon points="605.90,495.20 612.26,506.06 599.54,506.06" fill="#f9b36c"/>
<text x="622.60" y="505.56" font-size="14.4" text-anchor="start" font-weight="normal" >Ref. 24</text>
<line x1="593.0" y1="519.14" x2="618.9" y2="519.14" stroke="#f0977c" stroke-width="1.6" stroke-dasharray="6,3.5,7,3.5,6"/>
<polygon points="605.90,525.50 612.26,514.63 599.54,514.63" fill="#f0977c"/>
<text x="622.60" y="523.14" font-size="14.4" text-anchor="start" font-weight="normal" >Ref. 23</text>
<line x1="593.0" y1="536.72" x2="618.9" y2="536.72" stroke="#e07a8e" stroke-width="1.6" stroke-dasharray="6,3.5,7,3.5,6"/>
<polygon points="605.90,529.83 612.79,536.72 605.90,543.61 599.01,536.72" fill="#e07a8e"/>
<text x="622.60" y="540.72" font-size="14.4" text-anchor="start" font-weight="normal" >Ref. 10</text>
<line x1="593.0" y1="554.30" x2="618.9" y2="554.30" stroke="#d472ab" stroke-width="1.6" stroke-dasharray="6,3.5,7,3.5,6"/>
<polygon points="599.54,554.30 610.40,547.94 610.40,560.66" fill="#d472ab"/>
<text x="622.60" y="558.30" font-size="14.4" text-anchor="start" font-weight="normal" >Ref. 25</text>
<line x1="593.0" y1="571.88" x2="618.9" y2="571.88" stroke="#e444e4" stroke-width="1.6" stroke-dasharray="6,3.5,7,3.5,6"/>
<polygon points="612.26,571.88 601.39,565.52 601.39,578.24" fill="#e444e4"/>
<text x="622.60" y="575.88" font-size="14.4" text-anchor="start" font-weight="normal" >Ref. 64</text>
<line x1="593.0" y1="589.46" x2="618.9" y2="589.46" stroke="#b324f2" stroke-width="1.6" stroke-dasharray="6,3.5,7,3.5,6"/>
<polygon points="605.90,583.63 600.85,586.54 600.85,592.37 605.90,595.29 610.95,592.37 610.95,586.54" fill="#b324f2"/>
<text x="622.60" y="593.46" font-size="14.4" text-anchor="start" font-weight="normal" >Ref. 65</text>
<line x1="593.0" y1="607.04" x2="618.9" y2="607.04" stroke="#7a2cf0" stroke-width="1.6" stroke-dasharray="6,3.5,7,3.5,6"/>
<polygon points="605.90,600.41 604.34,604.90 599.60,604.99 603.38,607.86 602.01,612.40 605.90,609.69 609.79,612.40 608.42,607.86 612.20,604.99 607.46,604.90" fill="#7a2cf0"/>
<text x="622.60" y="611.04" font-size="14.4" text-anchor="start" font-weight="normal" >Ref. 66</text>
<line x1="593.0" y1="624.62" x2="618.9" y2="624.62" stroke="#2424f2" stroke-width="1.6" stroke-dasharray="6,3.5,7,3.5,6"/>
<polygon points="605.90,618.52 600.10,622.74 602.32,629.55 609.48,629.55 611.70,622.74" fill="#2424f2"/>
<text x="622.60" y="628.62" font-size="14.4" text-anchor="start" font-weight="normal" >Ref. 67</text>
<line x1="593.0" y1="642.20" x2="618.9" y2="642.20" stroke="#9c1c9c" stroke-width="1.6" stroke-dasharray="6,3.5,7,3.5,6"/>
<rect x="600.87" y="637.16" width="10.07" height="10.07" fill="#9c1c9c"/>
<text x="622.60" y="646.20" font-size="14.4" text-anchor="start" font-weight="normal" >Ref. 68</text>
<line x1="593.0" y1="659.78" x2="618.9" y2="659.78" stroke="#6c0aae" stroke-width="1.6" stroke-dasharray="6,3.5,7,3.5,6"/>
<circle cx="605.90" cy="659.78" r="5.3" fill="#6c0aae"/>
<text x="622.60" y="663.78" font-size="14.4" text-anchor="start" font-weight="normal" >Ref. 69</text>
<line x1="593.0" y1="677.36" x2="618.9" y2="677.36" stroke="#4a0aa6" stroke-width="1.6" stroke-dasharray="6,3.5,7,3.5,6"/>
<circle cx="605.90" cy="677.36" r="5.57" fill="url(#sph)"/>
<text x="622.60" y="681.36" font-size="14.4" text-anchor="start" font-weight="normal" >This work</text>
<text x="8.30" y="11.80" font-size="16" text-anchor="start" font-weight="bold" >a</text>
<text x="331.60" y="11.80" font-size="16" text-anchor="start" font-weight="bold" >b</text>
<text x="7.70" y="229.10" font-size="16" text-anchor="start" font-weight="bold" >c</text>
<text x="330.40" y="228.70" font-size="16" text-anchor="start" font-weight="bold" >d</text>
<text x="8.30" y="465.80" font-size="16" text-anchor="start" font-weight="bold" >e</text>
<text x="281.10" y="465.80" font-size="16" text-anchor="start" font-weight="bold" >f</text>
</svg></body></html>
